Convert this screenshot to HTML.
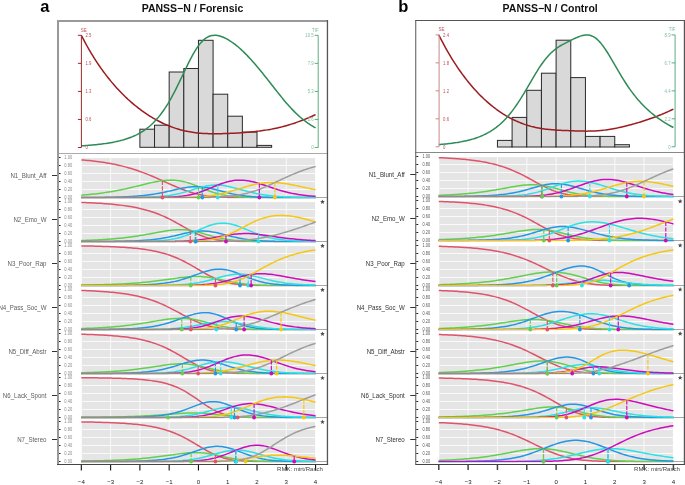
<!DOCTYPE html>
<html><head><meta charset="utf-8"><style>
html,body{margin:0;padding:0;background:#fff;}
svg{display:block;will-change:transform}
</style></head><body>
<svg width="685" height="485" viewBox="0 0 685 485">
<rect width="685" height="485" fill="#fff"/>
<text x="40.3" y="12.4" style="font-family:'Liberation Sans',sans-serif;font-weight:bold;font-size:16.5px" fill="#000">a</text>
<text x="192.5" y="12" text-anchor="middle" style="font-family:'Liberation Sans',sans-serif;font-weight:bold;font-size:10.5px" fill="#111">PANSS−N / Forensic</text>
<rect x="139.89" y="129.2" width="14.64" height="18.1" fill="#D9D9D9" stroke="#2a2a2a" stroke-width="1"/>
<rect x="154.53" y="125.2" width="14.64" height="22.1" fill="#D9D9D9" stroke="#2a2a2a" stroke-width="1"/>
<rect x="169.17" y="72" width="14.64" height="75.3" fill="#D9D9D9" stroke="#2a2a2a" stroke-width="1"/>
<rect x="183.81" y="68.5" width="14.64" height="78.8" fill="#D9D9D9" stroke="#2a2a2a" stroke-width="1"/>
<rect x="198.45" y="40.3" width="14.64" height="107" fill="#D9D9D9" stroke="#2a2a2a" stroke-width="1"/>
<rect x="213.09" y="94.2" width="14.64" height="53.1" fill="#D9D9D9" stroke="#2a2a2a" stroke-width="1"/>
<rect x="227.73" y="116.2" width="14.64" height="31.1" fill="#D9D9D9" stroke="#2a2a2a" stroke-width="1"/>
<rect x="242.37" y="132.1" width="14.64" height="15.2" fill="#D9D9D9" stroke="#2a2a2a" stroke-width="1"/>
<rect x="257.01" y="145.4" width="14.64" height="1.9" fill="#D9D9D9" stroke="#2a2a2a" stroke-width="1"/>
<path d="M81.33,35.3L82.79,38.14L84.26,40.91L85.72,43.61L87.19,46.25L88.65,48.83L90.11,51.34L91.58,53.8L93.04,56.19L94.51,58.53L95.97,60.81L97.43,63.04L98.9,65.22L100.36,67.34L101.83,69.42L103.29,71.44L104.75,73.42L106.22,75.35L107.68,77.24L109.15,79.08L110.61,80.88L112.07,82.63L113.54,84.35L115,86.03L116.47,87.66L117.93,89.26L119.39,90.82L120.86,92.35L122.32,93.84L123.79,95.29L125.25,96.71L126.71,98.1L128.18,99.46L129.64,100.78L131.11,102.07L132.57,103.33L134.03,104.57L135.5,105.77L136.96,106.94L138.43,108.09L139.89,109.2L141.35,110.29L142.82,111.35L144.28,112.39L145.75,113.39L147.21,114.37L148.67,115.33L150.14,116.26L151.6,117.16L153.07,118.04L154.53,118.89L155.99,119.71L157.46,120.51L158.92,121.28L160.39,122.03L161.85,122.76L163.31,123.46L164.78,124.13L166.24,124.78L167.71,125.4L169.17,126L170.63,126.57L172.1,127.12L173.56,127.65L175.03,128.15L176.49,128.63L177.95,129.08L179.42,129.51L180.88,129.91L182.35,130.29L183.81,130.65L185.27,130.99L186.74,131.3L188.2,131.59L189.67,131.86L191.13,132.11L192.59,132.34L194.06,132.55L195.52,132.73L196.99,132.9L198.45,133.05L199.91,133.19L201.38,133.3L202.84,133.41L204.31,133.49L205.77,133.56L207.23,133.62L208.7,133.67L210.16,133.7L211.63,133.73L213.09,133.74L214.55,133.75L216.02,133.74L217.48,133.73L218.95,133.71L220.41,133.69L221.87,133.66L223.34,133.62L224.8,133.58L226.27,133.53L227.73,133.48L229.19,133.43L230.66,133.36L232.12,133.3L233.59,133.23L235.05,133.15L236.51,133.07L237.98,132.98L239.44,132.89L240.91,132.79L242.37,132.69L243.83,132.58L245.3,132.46L246.76,132.34L248.23,132.22L249.69,132.08L251.15,131.94L252.62,131.79L254.08,131.64L255.55,131.48L257.01,131.31L258.47,131.13L259.94,130.95L261.4,130.75L262.87,130.55L264.33,130.34L265.79,130.12L267.26,129.88L268.72,129.64L270.19,129.39L271.65,129.12L273.11,128.84L274.58,128.54L276.04,128.24L277.51,127.92L278.97,127.58L280.43,127.23L281.9,126.87L283.36,126.49L284.83,126.09L286.29,125.68L287.75,125.26L289.22,124.82L290.68,124.37L292.15,123.9L293.61,123.42L295.07,122.92L296.54,122.41L298,121.89L299.47,121.36L300.93,120.81L302.39,120.24L303.86,119.67L305.32,119.08L306.79,118.48L308.25,117.87L309.71,117.24L311.18,116.6L312.64,115.95L314.11,115.29L315.57,114.61" fill="none" stroke="#9B1D20" stroke-width="1.5"/>
<path d="M81.33,145.81L82.79,145.73L84.26,145.63L85.72,145.53L87.19,145.43L88.65,145.32L90.11,145.2L91.58,145.08L93.04,144.95L94.51,144.82L95.97,144.68L97.43,144.52L98.9,144.36L100.36,144.2L101.83,144.02L103.29,143.83L104.75,143.63L106.22,143.42L107.68,143.2L109.15,142.97L110.61,142.72L112.07,142.45L113.54,142.18L115,141.88L116.47,141.57L117.93,141.24L119.39,140.89L120.86,140.52L122.32,140.13L123.79,139.71L125.25,139.27L126.71,138.8L128.18,138.3L129.64,137.77L131.11,137.21L132.57,136.62L134.03,135.98L135.5,135.31L136.96,134.6L138.43,133.83L139.89,133.03L141.35,132.17L142.82,131.25L144.28,130.28L145.75,129.25L147.21,128.15L148.67,126.99L150.14,125.75L151.6,124.44L153.07,123.05L154.53,121.57L155.99,120.01L157.46,118.36L158.92,116.61L160.39,114.77L161.85,112.82L163.31,110.78L164.78,108.63L166.24,106.38L167.71,104.03L169.17,101.57L170.63,99.02L172.1,96.37L173.56,93.63L175.03,90.81L176.49,87.91L177.95,84.95L179.42,81.93L180.88,78.88L182.35,75.8L183.81,72.72L185.27,69.65L186.74,66.61L188.2,63.62L189.67,60.7L191.13,57.88L192.59,55.16L194.06,52.58L195.52,50.15L196.99,47.87L198.45,45.78L199.91,43.87L201.38,42.15L202.84,40.64L204.31,39.32L205.77,38.2L207.23,37.28L208.7,36.54L210.16,35.99L211.63,35.61L213.09,35.38L214.55,35.3L216.02,35.36L217.48,35.54L218.95,35.83L220.41,36.22L221.87,36.71L223.34,37.29L224.8,37.94L226.27,38.67L227.73,39.47L229.19,40.34L230.66,41.26L232.12,42.25L233.59,43.3L235.05,44.4L236.51,45.56L237.98,46.78L239.44,48.04L240.91,49.36L242.37,50.73L243.83,52.14L245.3,53.6L246.76,55.1L248.23,56.64L249.69,58.21L251.15,59.82L252.62,61.46L254.08,63.12L255.55,64.82L257.01,66.53L258.47,68.27L259.94,70.03L261.4,71.81L262.87,73.6L264.33,75.42L265.79,77.25L267.26,79.09L268.72,80.94L270.19,82.81L271.65,84.67L273.11,86.55L274.58,88.42L276.04,90.29L277.51,92.15L278.97,94L280.43,95.83L281.9,97.64L283.36,99.42L284.83,101.18L286.29,102.9L287.75,104.58L289.22,106.23L290.68,107.83L292.15,109.38L293.61,110.89L295.07,112.35L296.54,113.77L298,115.13L299.47,116.45L300.93,117.71L302.39,118.93L303.86,120.1L305.32,121.22L306.79,122.29L308.25,123.33L309.71,124.32L311.18,125.27L312.64,126.17L314.11,127.05L315.57,127.88" fill="none" stroke="#2E8B57" stroke-width="1.5"/>
<line x1="81.4" y1="35.3" x2="81.4" y2="147.5" stroke="#9B2B2B" stroke-width="1"/>
<line x1="77.9" y1="147.5" x2="81.4" y2="147.5" stroke="#9B2B2B" stroke-width="1"/>
<text transform="translate(85.4,149.4) scale(0.86,1)" style="font-family:'Liberation Sans',sans-serif;font-size:5px" fill="#C0505A">0</text>
<line x1="77.9" y1="119.45" x2="81.4" y2="119.45" stroke="#9B2B2B" stroke-width="1"/>
<text transform="translate(85.4,121.35) scale(0.86,1)" style="font-family:'Liberation Sans',sans-serif;font-size:5px" fill="#C0505A">0.6</text>
<line x1="77.9" y1="91.4" x2="81.4" y2="91.4" stroke="#9B2B2B" stroke-width="1"/>
<text transform="translate(85.4,93.3) scale(0.86,1)" style="font-family:'Liberation Sans',sans-serif;font-size:5px" fill="#C0505A">1.3</text>
<line x1="77.9" y1="63.35" x2="81.4" y2="63.35" stroke="#9B2B2B" stroke-width="1"/>
<text transform="translate(85.4,65.25) scale(0.86,1)" style="font-family:'Liberation Sans',sans-serif;font-size:5px" fill="#C0505A">1.9</text>
<line x1="77.9" y1="35.3" x2="81.4" y2="35.3" stroke="#9B2B2B" stroke-width="1"/>
<text transform="translate(85.4,37.2) scale(0.86,1)" style="font-family:'Liberation Sans',sans-serif;font-size:5px" fill="#C0505A">2.5</text>
<text transform="translate(80.8,31.8) scale(0.9,1)" style="font-family:'Liberation Sans',sans-serif;font-size:5px" fill="#C0505A">SE</text>
<line x1="318.2" y1="35.3" x2="318.2" y2="147.5" stroke="#5DAE80" stroke-width="1"/>
<line x1="314.7" y1="147.5" x2="318.2" y2="147.5" stroke="#5DAE80" stroke-width="1"/>
<text transform="translate(313.7,149.4) scale(0.86,1)" text-anchor="end" style="font-family:'Liberation Sans',sans-serif;font-size:5px" fill="#7DBF98">0</text>
<line x1="314.7" y1="119.45" x2="318.2" y2="119.45" stroke="#5DAE80" stroke-width="1"/>
<text transform="translate(313.7,121.35) scale(0.86,1)" text-anchor="end" style="font-family:'Liberation Sans',sans-serif;font-size:5px" fill="#7DBF98">2.6</text>
<line x1="314.7" y1="91.4" x2="318.2" y2="91.4" stroke="#5DAE80" stroke-width="1"/>
<text transform="translate(313.7,93.3) scale(0.86,1)" text-anchor="end" style="font-family:'Liberation Sans',sans-serif;font-size:5px" fill="#7DBF98">5.3</text>
<line x1="314.7" y1="63.35" x2="318.2" y2="63.35" stroke="#5DAE80" stroke-width="1"/>
<text transform="translate(313.7,65.25) scale(0.86,1)" text-anchor="end" style="font-family:'Liberation Sans',sans-serif;font-size:5px" fill="#7DBF98">7.9</text>
<line x1="314.7" y1="35.3" x2="318.2" y2="35.3" stroke="#5DAE80" stroke-width="1"/>
<text transform="translate(313.7,37.2) scale(0.86,1)" text-anchor="end" style="font-family:'Liberation Sans',sans-serif;font-size:5px" fill="#7DBF98">10.5</text>
<text transform="translate(318.7,31.8) scale(0.9,1)" text-anchor="end" style="font-family:'Liberation Sans',sans-serif;font-size:5px" fill="#7DBF98">TIF</text>
<rect x="57" y="153" width="270.3" height="1" fill="#AAAAAA"/>
<rect x="81.83" y="158.1" width="233.24" height="39.4" fill="#E5E5E5"/>
<rect x="110.11" y="158.1" width="1" height="39.4" fill="#FAFAFA"/>
<rect x="139.39" y="158.1" width="1" height="39.4" fill="#FAFAFA"/>
<rect x="168.67" y="158.1" width="1" height="39.4" fill="#FAFAFA"/>
<rect x="197.95" y="158.1" width="1" height="39.4" fill="#FAFAFA"/>
<rect x="227.23" y="158.1" width="1" height="39.4" fill="#FAFAFA"/>
<rect x="256.51" y="158.1" width="1" height="39.4" fill="#FAFAFA"/>
<rect x="285.79" y="158.1" width="1" height="39.4" fill="#FAFAFA"/>
<rect x="81.83" y="189" width="233.24" height="1" fill="#FAFAFA"/>
<rect x="81.83" y="181" width="233.24" height="1" fill="#FAFAFA"/>
<rect x="81.83" y="173" width="233.24" height="1" fill="#FAFAFA"/>
<rect x="81.83" y="165" width="233.24" height="1" fill="#FAFAFA"/>
<rect x="315.57" y="197" width="11.73" height="1" fill="#A8A8A8"/>
<rect x="226.75" y="196.85" width="89.12" height="1.3" fill="#DF536B"/>
<path d="M81.33,159.9L83.28,160.06L85.23,160.23L87.19,160.4L89.14,160.59L91.09,160.79L93.04,161.01L94.99,161.23L96.95,161.47L98.9,161.73L100.85,161.99L102.8,162.28L104.75,162.58L106.71,162.89L108.66,163.23L110.61,163.58L112.56,163.95L114.51,164.34L116.47,164.75L118.42,165.18L120.37,165.63L122.32,166.11L124.27,166.61L126.23,167.13L128.18,167.67L130.13,168.23L132.08,168.82L134.03,169.44L135.99,170.07L137.94,170.74L139.89,171.42L141.84,172.12L143.79,172.85L145.75,173.6L147.7,174.37L149.65,175.16L151.6,175.97L153.55,176.79L155.51,177.63L157.46,178.48L159.41,179.34L161.36,180.21L163.31,181.08L165.27,181.96L167.22,182.84L169.17,183.71L171.12,184.58L173.07,185.44L175.03,186.29L176.98,187.12L178.93,187.93L180.88,188.72L182.83,189.48L184.79,190.22L186.74,190.92L188.69,191.58L190.64,192.21L192.59,192.8L194.55,193.35L196.5,193.86L198.45,194.33L200.4,194.75L202.35,195.14L204.31,195.48L206.26,195.78L208.21,196.05L210.16,196.29L212.11,196.49L214.07,196.66L216.02,196.81L217.97,196.94L219.92,197.05L221.87,197.13L223.83,197.21L225.78,197.27L227.73,197.31" fill="none" stroke="#DF536B" stroke-width="1.5"/>
<rect x="250.18" y="196.85" width="65.69" height="1.3" fill="#61D04F"/>
<path d="M81.33,195.14L83.28,194.99L85.23,194.83L87.19,194.66L89.14,194.48L91.09,194.29L93.04,194.09L94.99,193.88L96.95,193.65L98.9,193.42L100.85,193.17L102.8,192.9L104.75,192.63L106.71,192.34L108.66,192.04L110.61,191.72L112.56,191.39L114.51,191.05L116.47,190.69L118.42,190.31L120.37,189.92L122.32,189.52L124.27,189.11L126.23,188.68L128.18,188.24L130.13,187.79L132.08,187.33L134.03,186.86L135.99,186.39L137.94,185.91L139.89,185.42L141.84,184.94L143.79,184.46L145.75,183.98L147.7,183.52L149.65,183.06L151.6,182.63L153.55,182.21L155.51,181.81L157.46,181.45L159.41,181.12L161.36,180.83L163.31,180.58L165.27,180.38L167.22,180.23L169.17,180.15L171.12,180.12L173.07,180.16L175.03,180.26L176.98,180.44L178.93,180.69L180.88,181.01L182.83,181.41L184.79,181.87L186.74,182.4L188.69,183L190.64,183.65L192.59,184.34L194.55,185.08L196.5,185.85L198.45,186.65L200.4,187.45L202.35,188.26L204.31,189.05L206.26,189.83L208.21,190.59L210.16,191.31L212.11,191.99L214.07,192.63L216.02,193.22L217.97,193.77L219.92,194.26L221.87,194.71L223.83,195.11L225.78,195.46L227.73,195.77L229.68,196.04L231.63,196.28L233.59,196.48L235.54,196.65L237.49,196.8L239.44,196.93L241.39,197.03L243.35,197.12L245.3,197.19L247.25,197.25L249.2,197.3L251.15,197.34" fill="none" stroke="#61D04F" stroke-width="1.5"/>
<rect x="81.03" y="196.85" width="24.7" height="1.3" fill="#2297E6"/>
<rect x="267.75" y="196.85" width="48.12" height="1.3" fill="#2297E6"/>
<path d="M104.75,197.3L106.71,197.28L108.66,197.25L110.61,197.21L112.56,197.17L114.51,197.13L116.47,197.09L118.42,197.03L120.37,196.97L122.32,196.91L124.27,196.83L126.23,196.75L128.18,196.66L130.13,196.56L132.08,196.45L134.03,196.32L135.99,196.18L137.94,196.03L139.89,195.87L141.84,195.68L143.79,195.48L145.75,195.27L147.7,195.03L149.65,194.77L151.6,194.5L153.55,194.2L155.51,193.88L157.46,193.54L159.41,193.18L161.36,192.8L163.31,192.4L165.27,191.99L167.22,191.56L169.17,191.12L171.12,190.66L173.07,190.21L175.03,189.76L176.98,189.31L178.93,188.87L180.88,188.45L182.83,188.06L184.79,187.7L186.74,187.38L188.69,187.11L190.64,186.89L192.59,186.73L194.55,186.63L196.5,186.6L198.45,186.65L200.4,186.76L202.35,186.94L204.31,187.18L206.26,187.49L208.21,187.85L210.16,188.26L212.11,188.72L214.07,189.2L216.02,189.71L217.97,190.23L219.92,190.76L221.87,191.29L223.83,191.81L225.78,192.31L227.73,192.8L229.68,193.27L231.63,193.71L233.59,194.12L235.54,194.5L237.49,194.85L239.44,195.17L241.39,195.47L243.35,195.73L245.3,195.97L247.25,196.18L249.2,196.37L251.15,196.53L253.11,196.67L255.06,196.8L257.01,196.91L258.96,197L260.91,197.08L262.87,197.15L264.82,197.21L266.77,197.26L268.72,197.3" fill="none" stroke="#2297E6" stroke-width="1.5"/>
<rect x="81.03" y="196.85" width="59.84" height="1.3" fill="#28E2E5"/>
<rect x="297.03" y="196.85" width="18.84" height="1.3" fill="#28E2E5"/>
<path d="M139.89,197.31L141.84,197.27L143.79,197.23L145.75,197.18L147.7,197.12L149.65,197.05L151.6,196.97L153.55,196.87L155.51,196.77L157.46,196.64L159.41,196.5L161.36,196.34L163.31,196.15L165.27,195.94L167.22,195.7L169.17,195.44L171.12,195.14L173.07,194.81L175.03,194.44L176.98,194.04L178.93,193.61L180.88,193.14L182.83,192.64L184.79,192.1L186.74,191.54L188.69,190.96L190.64,190.36L192.59,189.76L194.55,189.15L196.5,188.55L198.45,187.97L200.4,187.42L202.35,186.9L204.31,186.43L206.26,186.02L208.21,185.68L210.16,185.4L212.11,185.2L214.07,185.08L216.02,185.03L217.97,185.06L219.92,185.17L221.87,185.36L223.83,185.61L225.78,185.92L227.73,186.29L229.68,186.7L231.63,187.15L233.59,187.64L235.54,188.15L237.49,188.68L239.44,189.22L241.39,189.76L243.35,190.3L245.3,190.83L247.25,191.35L249.2,191.86L251.15,192.35L253.11,192.81L255.06,193.25L257.01,193.67L258.96,194.06L260.91,194.42L262.87,194.75L264.82,195.06L266.77,195.34L268.72,195.6L270.67,195.83L272.63,196.04L274.58,196.22L276.53,196.39L278.48,196.54L280.43,196.67L282.39,196.78L284.34,196.89L286.29,196.97L288.24,197.05L290.19,197.12L292.15,197.17L294.1,197.22L296.05,197.27L298,197.3" fill="none" stroke="#28E2E5" stroke-width="1.5"/>
<rect x="81.03" y="196.85" width="81.31" height="1.3" fill="#CD0BBC"/>
<path d="M161.36,197.33L163.31,197.29L165.27,197.24L167.22,197.18L169.17,197.11L171.12,197.02L173.07,196.92L175.03,196.79L176.98,196.64L178.93,196.47L180.88,196.26L182.83,196.03L184.79,195.75L186.74,195.44L188.69,195.08L190.64,194.67L192.59,194.22L194.55,193.72L196.5,193.17L198.45,192.57L200.4,191.93L202.35,191.24L204.31,190.51L206.26,189.76L208.21,188.97L210.16,188.17L212.11,187.36L214.07,186.55L216.02,185.76L217.97,184.98L219.92,184.24L221.87,183.53L223.83,182.88L225.78,182.28L227.73,181.75L229.68,181.28L231.63,180.89L233.59,180.58L235.54,180.35L237.49,180.2L239.44,180.14L241.39,180.16L243.35,180.26L245.3,180.43L247.25,180.68L249.2,181L251.15,181.39L253.11,181.83L255.06,182.32L257.01,182.86L258.96,183.44L260.91,184.05L262.87,184.68L264.82,185.33L266.77,185.99L268.72,186.66L270.67,187.32L272.63,187.98L274.58,188.62L276.53,189.25L278.48,189.85L280.43,190.44L282.39,191L284.34,191.53L286.29,192.03L288.24,192.51L290.19,192.95L292.15,193.37L294.1,193.75L296.05,194.11L298,194.44L299.95,194.74L301.91,195.02L303.86,195.27L305.81,195.5L307.76,195.71L309.71,195.9L311.67,196.07L313.62,196.23L315.57,196.36" fill="none" stroke="#CD0BBC" stroke-width="1.5"/>
<rect x="81.03" y="196.85" width="106.68" height="1.3" fill="#F5C710"/>
<path d="M186.74,197.33L188.69,197.28L190.64,197.23L192.59,197.16L194.55,197.09L196.5,196.99L198.45,196.88L200.4,196.76L202.35,196.61L204.31,196.43L206.26,196.24L208.21,196.01L210.16,195.76L212.11,195.48L214.07,195.17L216.02,194.83L217.97,194.45L219.92,194.05L221.87,193.62L223.83,193.15L225.78,192.66L227.73,192.15L229.68,191.61L231.63,191.06L233.59,190.48L235.54,189.9L237.49,189.3L239.44,188.71L241.39,188.11L243.35,187.52L245.3,186.94L247.25,186.38L249.2,185.84L251.15,185.32L253.11,184.84L255.06,184.39L257.01,183.99L258.96,183.63L260.91,183.31L262.87,183.05L264.82,182.83L266.77,182.67L268.72,182.57L270.67,182.51L272.63,182.51L274.58,182.56L276.53,182.66L278.48,182.81L280.43,182.99L282.39,183.22L284.34,183.49L286.29,183.78L288.24,184.11L290.19,184.46L292.15,184.83L294.1,185.22L296.05,185.62L298,186.03L299.95,186.45L301.91,186.88L303.86,187.3L305.81,187.72L307.76,188.14L309.71,188.56L311.67,188.97L313.62,189.37L315.57,189.76" fill="none" stroke="#F5C710" stroke-width="1.5"/>
<rect x="81.03" y="196.85" width="130.11" height="1.3" fill="#948C86"/>
<path d="M210.16,197.31L212.11,197.26L214.07,197.21L216.02,197.14L217.97,197.06L219.92,196.97L221.87,196.86L223.83,196.74L225.78,196.6L227.73,196.43L229.68,196.24L231.63,196.03L233.59,195.79L235.54,195.52L237.49,195.21L239.44,194.88L241.39,194.51L243.35,194.1L245.3,193.65L247.25,193.17L249.2,192.65L251.15,192.08L253.11,191.48L255.06,190.84L257.01,190.16L258.96,189.44L260.91,188.69L262.87,187.91L264.82,187.1L266.77,186.26L268.72,185.4L270.67,184.51L272.63,183.62L274.58,182.71L276.53,181.8L278.48,180.88L280.43,179.96L282.39,179.04L284.34,178.14L286.29,177.24L288.24,176.36L290.19,175.49L292.15,174.64L294.1,173.82L296.05,173.01L298,172.24L299.95,171.48L301.91,170.75L303.86,170.05L305.81,169.38L307.76,168.73L309.71,168.11L311.67,167.52L313.62,166.96L315.57,166.42" fill="none" stroke="#9E9E9E" stroke-width="1.5"/>
<line x1="162.44" y1="180.69" x2="162.44" y2="197.5" stroke="#DF536B" stroke-width="1.15" stroke-dasharray="4.2,1.3"/>
<line x1="198.45" y1="186.65" x2="198.45" y2="197.5" stroke="#61D04F" stroke-width="1.15" stroke-dasharray="4.2,1.3"/>
<line x1="202.26" y1="186.93" x2="202.26" y2="197.5" stroke="#2297E6" stroke-width="1.15" stroke-dasharray="4.2,1.3"/>
<line x1="217.77" y1="185.06" x2="217.77" y2="197.5" stroke="#28E2E5" stroke-width="1.15" stroke-dasharray="4.2,1.3"/>
<line x1="259.35" y1="183.56" x2="259.35" y2="197.5" stroke="#CD0BBC" stroke-width="1.15" stroke-dasharray="4.2,1.3"/>
<line x1="274.87" y1="182.57" x2="274.87" y2="197.5" stroke="#F5C710" stroke-width="1.15" stroke-dasharray="4.2,1.3"/>
<circle cx="162.44" cy="197.5" r="1.9" fill="#DF536B"/>
<circle cx="198.45" cy="197.5" r="1.9" fill="#61D04F"/>
<circle cx="202.26" cy="197.5" r="1.9" fill="#2297E6"/>
<circle cx="217.77" cy="197.5" r="1.9" fill="#28E2E5"/>
<circle cx="259.35" cy="197.5" r="1.9" fill="#CD0BBC"/>
<circle cx="274.87" cy="197.5" r="1.9" fill="#F5C710"/>
<line x1="58" y1="197.5" x2="60.6" y2="197.5" stroke="#222" stroke-width="1"/>
<text transform="translate(64.3,199.2) scale(0.84,1)" style="font-family:'Liberation Sans',sans-serif;font-size:4.8px" fill="#8A8A8A">0.00</text>
<line x1="58" y1="189.5" x2="60.6" y2="189.5" stroke="#222" stroke-width="1"/>
<text transform="translate(64.3,191.2) scale(0.84,1)" style="font-family:'Liberation Sans',sans-serif;font-size:4.8px" fill="#8A8A8A">0.20</text>
<line x1="58" y1="181.5" x2="60.6" y2="181.5" stroke="#222" stroke-width="1"/>
<text transform="translate(64.3,183.2) scale(0.84,1)" style="font-family:'Liberation Sans',sans-serif;font-size:4.8px" fill="#8A8A8A">0.40</text>
<line x1="58" y1="173.5" x2="60.6" y2="173.5" stroke="#222" stroke-width="1"/>
<text transform="translate(64.3,175.2) scale(0.84,1)" style="font-family:'Liberation Sans',sans-serif;font-size:4.8px" fill="#8A8A8A">0.60</text>
<line x1="58" y1="165.5" x2="60.6" y2="165.5" stroke="#222" stroke-width="1"/>
<text transform="translate(64.3,167.2) scale(0.84,1)" style="font-family:'Liberation Sans',sans-serif;font-size:4.8px" fill="#8A8A8A">0.80</text>
<line x1="58" y1="157.5" x2="60.6" y2="157.5" stroke="#222" stroke-width="1"/>
<text transform="translate(64.3,159.2) scale(0.84,1)" style="font-family:'Liberation Sans',sans-serif;font-size:4.8px" fill="#8A8A8A">1.00</text>
<line x1="52" y1="175.5" x2="58" y2="175.5" stroke="#333" stroke-width="1"/>
<text x="46.5" y="177.9" text-anchor="end" textLength="36.08" lengthAdjust="spacingAndGlyphs" style="font-family:'Liberation Sans',sans-serif;font-size:6.8px" fill="#606060">N1_Blunt_Aff</text>
<rect x="81.83" y="202.1" width="233.24" height="39.4" fill="#E5E5E5"/>
<rect x="110.11" y="202.1" width="1" height="39.4" fill="#FAFAFA"/>
<rect x="139.39" y="202.1" width="1" height="39.4" fill="#FAFAFA"/>
<rect x="168.67" y="202.1" width="1" height="39.4" fill="#FAFAFA"/>
<rect x="197.95" y="202.1" width="1" height="39.4" fill="#FAFAFA"/>
<rect x="227.23" y="202.1" width="1" height="39.4" fill="#FAFAFA"/>
<rect x="256.51" y="202.1" width="1" height="39.4" fill="#FAFAFA"/>
<rect x="285.79" y="202.1" width="1" height="39.4" fill="#FAFAFA"/>
<rect x="81.83" y="233" width="233.24" height="1" fill="#FAFAFA"/>
<rect x="81.83" y="225" width="233.24" height="1" fill="#FAFAFA"/>
<rect x="81.83" y="217" width="233.24" height="1" fill="#FAFAFA"/>
<rect x="81.83" y="209" width="233.24" height="1" fill="#FAFAFA"/>
<rect x="315.57" y="241" width="11.73" height="1" fill="#A8A8A8"/>
<rect x="236.51" y="240.85" width="79.36" height="1.3" fill="#DF536B"/>
<path d="M81.33,202.47L83.28,202.53L85.23,202.6L87.19,202.68L89.14,202.76L91.09,202.85L93.04,202.94L94.99,203.04L96.95,203.14L98.9,203.25L100.85,203.37L102.8,203.5L104.75,203.64L106.71,203.79L108.66,203.94L110.61,204.11L112.56,204.29L114.51,204.47L116.47,204.68L118.42,204.89L120.37,205.12L122.32,205.37L124.27,205.63L126.23,205.91L128.18,206.21L130.13,206.53L132.08,206.86L134.03,207.22L135.99,207.61L137.94,208.01L139.89,208.45L141.84,208.91L143.79,209.4L145.75,209.92L147.7,210.47L149.65,211.05L151.6,211.67L153.55,212.33L155.51,213.02L157.46,213.74L159.41,214.51L161.36,215.32L163.31,216.16L165.27,217.04L167.22,217.96L169.17,218.92L171.12,219.91L173.07,220.93L175.03,221.98L176.98,223.05L178.93,224.14L180.88,225.25L182.83,226.36L184.79,227.46L186.74,228.56L188.69,229.64L190.64,230.69L192.59,231.71L194.55,232.68L196.5,233.61L198.45,234.49L200.4,235.31L202.35,236.07L204.31,236.77L206.26,237.4L208.21,237.97L210.16,238.49L212.11,238.94L214.07,239.34L216.02,239.69L217.97,239.99L219.92,240.25L221.87,240.47L223.83,240.66L225.78,240.81L227.73,240.94L229.68,241.05L231.63,241.14L233.59,241.22L235.54,241.28L237.49,241.32" fill="none" stroke="#DF536B" stroke-width="1.5"/>
<rect x="252.13" y="240.85" width="63.74" height="1.3" fill="#61D04F"/>
<path d="M81.33,240.55L83.28,240.49L85.23,240.42L87.19,240.35L89.14,240.27L91.09,240.19L93.04,240.11L94.99,240.01L96.95,239.92L98.9,239.81L100.85,239.7L102.8,239.58L104.75,239.46L106.71,239.33L108.66,239.19L110.61,239.04L112.56,238.88L114.51,238.71L116.47,238.54L118.42,238.35L120.37,238.16L122.32,237.95L124.27,237.73L126.23,237.5L128.18,237.26L130.13,237.01L132.08,236.75L134.03,236.47L135.99,236.19L137.94,235.89L139.89,235.58L141.84,235.26L143.79,234.93L145.75,234.59L147.7,234.25L149.65,233.89L151.6,233.53L153.55,233.17L155.51,232.81L157.46,232.44L159.41,232.09L161.36,231.74L163.31,231.4L165.27,231.08L167.22,230.78L169.17,230.51L171.12,230.27L173.07,230.06L175.03,229.9L176.98,229.78L178.93,229.71L180.88,229.7L182.83,229.74L184.79,229.85L186.74,230.02L188.69,230.25L190.64,230.54L192.59,230.89L194.55,231.29L196.5,231.74L198.45,232.23L200.4,232.75L202.35,233.29L204.31,233.85L206.26,234.42L208.21,234.99L210.16,235.55L212.11,236.1L214.07,236.63L216.02,237.13L217.97,237.61L219.92,238.05L221.87,238.46L223.83,238.84L225.78,239.19L227.73,239.5L229.68,239.78L231.63,240.03L233.59,240.25L235.54,240.45L237.49,240.62L239.44,240.76L241.39,240.89L243.35,240.99L245.3,241.08L247.25,241.16L249.2,241.22L251.15,241.28L253.11,241.32" fill="none" stroke="#61D04F" stroke-width="1.5"/>
<rect x="81.03" y="240.85" width="34.46" height="1.3" fill="#2297E6"/>
<rect x="273.6" y="240.85" width="42.27" height="1.3" fill="#2297E6"/>
<path d="M114.51,241.32L116.47,241.3L118.42,241.27L120.37,241.24L122.32,241.21L124.27,241.17L126.23,241.12L128.18,241.07L130.13,241.01L132.08,240.95L134.03,240.88L135.99,240.8L137.94,240.71L139.89,240.61L141.84,240.49L143.79,240.37L145.75,240.23L147.7,240.07L149.65,239.9L151.6,239.7L153.55,239.49L155.51,239.26L157.46,239.01L159.41,238.73L161.36,238.43L163.31,238.1L165.27,237.76L167.22,237.38L169.17,236.99L171.12,236.57L173.07,236.13L175.03,235.68L176.98,235.21L178.93,234.74L180.88,234.27L182.83,233.8L184.79,233.35L186.74,232.91L188.69,232.5L190.64,232.13L192.59,231.8L194.55,231.53L196.5,231.31L198.45,231.15L200.4,231.06L202.35,231.03L204.31,231.07L206.26,231.18L208.21,231.36L210.16,231.59L212.11,231.89L214.07,232.23L216.02,232.61L217.97,233.03L219.92,233.49L221.87,233.96L223.83,234.44L225.78,234.94L227.73,235.44L229.68,235.93L231.63,236.41L233.59,236.88L235.54,237.33L237.49,237.75L239.44,238.15L241.39,238.53L243.35,238.88L245.3,239.2L247.25,239.49L249.2,239.75L251.15,239.99L253.11,240.2L255.06,240.39L257.01,240.55L258.96,240.69L260.91,240.82L262.87,240.93L264.82,241.02L266.77,241.1L268.72,241.16L270.67,241.22L272.63,241.27L274.58,241.31" fill="none" stroke="#2297E6" stroke-width="1.5"/>
<rect x="81.03" y="240.85" width="63.74" height="1.3" fill="#28E2E5"/>
<rect x="310.69" y="240.85" width="5.18" height="1.3" fill="#28E2E5"/>
<path d="M143.79,241.31L145.75,241.27L147.7,241.22L149.65,241.17L151.6,241.1L153.55,241.03L155.51,240.93L157.46,240.83L159.41,240.7L161.36,240.55L163.31,240.38L165.27,240.18L167.22,239.95L169.17,239.68L171.12,239.38L173.07,239.03L175.03,238.64L176.98,238.2L178.93,237.7L180.88,237.16L182.83,236.56L184.79,235.91L186.74,235.2L188.69,234.45L190.64,233.65L192.59,232.81L194.55,231.95L196.5,231.07L198.45,230.17L200.4,229.28L202.35,228.41L204.31,227.57L206.26,226.76L208.21,226.01L210.16,225.33L212.11,224.73L214.07,224.21L216.02,223.78L217.97,223.46L219.92,223.24L221.87,223.13L223.83,223.13L225.78,223.25L227.73,223.46L229.68,223.78L231.63,224.2L233.59,224.71L235.54,225.29L237.49,225.95L239.44,226.66L241.39,227.42L243.35,228.21L245.3,229.02L247.25,229.85L249.2,230.68L251.15,231.5L253.11,232.3L255.06,233.08L257.01,233.82L258.96,234.53L260.91,235.2L262.87,235.82L264.82,236.41L266.77,236.95L268.72,237.44L270.67,237.89L272.63,238.3L274.58,238.68L276.53,239.01L278.48,239.31L280.43,239.58L282.39,239.82L284.34,240.04L286.29,240.23L288.24,240.39L290.19,240.54L292.15,240.67L294.1,240.78L296.05,240.88L298,240.97L299.95,241.04L301.91,241.11L303.86,241.16L305.81,241.21L307.76,241.25L309.71,241.29L311.67,241.32" fill="none" stroke="#28E2E5" stroke-width="1.5"/>
<rect x="81.03" y="240.85" width="94.97" height="1.3" fill="#CD0BBC"/>
<path d="M175.03,241.33L176.98,241.3L178.93,241.25L180.88,241.19L182.83,241.13L184.79,241.05L186.74,240.96L188.69,240.85L190.64,240.73L192.59,240.58L194.55,240.42L196.5,240.24L198.45,240.04L200.4,239.82L202.35,239.57L204.31,239.31L206.26,239.02L208.21,238.72L210.16,238.39L212.11,238.06L214.07,237.71L216.02,237.34L217.97,236.98L219.92,236.61L221.87,236.24L223.83,235.88L225.78,235.52L227.73,235.19L229.68,234.87L231.63,234.58L233.59,234.32L235.54,234.09L237.49,233.9L239.44,233.75L241.39,233.64L243.35,233.57L245.3,233.55L247.25,233.56L249.2,233.62L251.15,233.71L253.11,233.84L255.06,234L257.01,234.19L258.96,234.41L260.91,234.65L262.87,234.91L264.82,235.17L266.77,235.45L268.72,235.74L270.67,236.03L272.63,236.32L274.58,236.61L276.53,236.89L278.48,237.17L280.43,237.44L282.39,237.71L284.34,237.96L286.29,238.2L288.24,238.44L290.19,238.66L292.15,238.87L294.1,239.07L296.05,239.26L298,239.44L299.95,239.6L301.91,239.76L303.86,239.91L305.81,240.04L307.76,240.17L309.71,240.29L311.67,240.39L313.62,240.49L315.57,240.59" fill="none" stroke="#CD0BBC" stroke-width="1.5"/>
<rect x="81.03" y="240.85" width="108.64" height="1.3" fill="#F5C710"/>
<path d="M188.69,241.32L190.64,241.27L192.59,241.21L194.55,241.13L196.5,241.04L198.45,240.93L200.4,240.8L202.35,240.64L204.31,240.45L206.26,240.24L208.21,239.98L210.16,239.69L212.11,239.35L214.07,238.97L216.02,238.54L217.97,238.06L219.92,237.52L221.87,236.93L223.83,236.27L225.78,235.56L227.73,234.8L229.68,233.98L231.63,233.11L233.59,232.19L235.54,231.23L237.49,230.24L239.44,229.23L241.39,228.19L243.35,227.15L245.3,226.11L247.25,225.08L249.2,224.07L251.15,223.09L253.11,222.15L255.06,221.26L257.01,220.41L258.96,219.63L260.91,218.91L262.87,218.25L264.82,217.66L266.77,217.14L268.72,216.69L270.67,216.32L272.63,216.01L274.58,215.77L276.53,215.59L278.48,215.48L280.43,215.44L282.39,215.45L284.34,215.52L286.29,215.64L288.24,215.82L290.19,216.04L292.15,216.31L294.1,216.62L296.05,216.97L298,217.36L299.95,217.78L301.91,218.23L303.86,218.71L305.81,219.22L307.76,219.75L309.71,220.29L311.67,220.86L313.62,221.43L315.57,222.02" fill="none" stroke="#F5C710" stroke-width="1.5"/>
<rect x="81.03" y="240.85" width="141.82" height="1.3" fill="#948C86"/>
<path d="M221.87,241.31L223.83,241.27L225.78,241.22L227.73,241.17L229.68,241.1L231.63,241.02L233.59,240.93L235.54,240.83L237.49,240.72L239.44,240.59L241.39,240.44L243.35,240.28L245.3,240.1L247.25,239.91L249.2,239.69L251.15,239.46L253.11,239.21L255.06,238.94L257.01,238.65L258.96,238.34L260.91,238.01L262.87,237.66L264.82,237.29L266.77,236.9L268.72,236.49L270.67,236.06L272.63,235.62L274.58,235.15L276.53,234.67L278.48,234.17L280.43,233.65L282.39,233.11L284.34,232.56L286.29,231.99L288.24,231.4L290.19,230.8L292.15,230.18L294.1,229.55L296.05,228.91L298,228.25L299.95,227.59L301.91,226.91L303.86,226.23L305.81,225.54L307.76,224.84L309.71,224.14L311.67,223.43L313.62,222.73L315.57,222.02" fill="none" stroke="#9E9E9E" stroke-width="1.5"/>
<line x1="190.25" y1="230.48" x2="190.25" y2="241.5" stroke="#DF536B" stroke-width="1.15" stroke-dasharray="4.2,1.3"/>
<line x1="195.23" y1="231.44" x2="195.23" y2="241.5" stroke="#61D04F" stroke-width="1.15" stroke-dasharray="4.2,1.3"/>
<line x1="195.81" y1="231.38" x2="195.81" y2="241.5" stroke="#2297E6" stroke-width="1.15" stroke-dasharray="4.2,1.3"/>
<line x1="258.47" y1="234.36" x2="258.47" y2="241.5" stroke="#28E2E5" stroke-width="1.15" stroke-dasharray="4.2,1.3"/>
<line x1="225.97" y1="235.49" x2="225.97" y2="241.5" stroke="#CD0BBC" stroke-width="1.15" stroke-dasharray="4.2,1.3"/>
<circle cx="190.25" cy="241.5" r="1.9" fill="#DF536B"/>
<circle cx="195.23" cy="241.5" r="1.9" fill="#61D04F"/>
<circle cx="195.81" cy="241.5" r="1.9" fill="#2297E6"/>
<circle cx="258.47" cy="241.5" r="1.9" fill="#28E2E5"/>
<circle cx="225.97" cy="241.5" r="1.9" fill="#CD0BBC"/>
<line x1="58" y1="241.5" x2="60.6" y2="241.5" stroke="#222" stroke-width="1"/>
<text transform="translate(64.3,243.2) scale(0.84,1)" style="font-family:'Liberation Sans',sans-serif;font-size:4.8px" fill="#8A8A8A">0.00</text>
<line x1="58" y1="233.5" x2="60.6" y2="233.5" stroke="#222" stroke-width="1"/>
<text transform="translate(64.3,235.2) scale(0.84,1)" style="font-family:'Liberation Sans',sans-serif;font-size:4.8px" fill="#8A8A8A">0.20</text>
<line x1="58" y1="225.5" x2="60.6" y2="225.5" stroke="#222" stroke-width="1"/>
<text transform="translate(64.3,227.2) scale(0.84,1)" style="font-family:'Liberation Sans',sans-serif;font-size:4.8px" fill="#8A8A8A">0.40</text>
<line x1="58" y1="217.5" x2="60.6" y2="217.5" stroke="#222" stroke-width="1"/>
<text transform="translate(64.3,219.2) scale(0.84,1)" style="font-family:'Liberation Sans',sans-serif;font-size:4.8px" fill="#8A8A8A">0.60</text>
<line x1="58" y1="209.5" x2="60.6" y2="209.5" stroke="#222" stroke-width="1"/>
<text transform="translate(64.3,211.2) scale(0.84,1)" style="font-family:'Liberation Sans',sans-serif;font-size:4.8px" fill="#8A8A8A">0.80</text>
<line x1="58" y1="201.5" x2="60.6" y2="201.5" stroke="#222" stroke-width="1"/>
<text transform="translate(64.3,203.2) scale(0.84,1)" style="font-family:'Liberation Sans',sans-serif;font-size:4.8px" fill="#8A8A8A">1.00</text>
<line x1="52" y1="219.5" x2="58" y2="219.5" stroke="#333" stroke-width="1"/>
<text x="46.5" y="221.9" text-anchor="end" textLength="33.11" lengthAdjust="spacingAndGlyphs" style="font-family:'Liberation Sans',sans-serif;font-size:6.8px" fill="#606060">N2_Emo_W</text>
<rect x="81.83" y="246.1" width="233.24" height="39.4" fill="#E5E5E5"/>
<rect x="110.11" y="246.1" width="1" height="39.4" fill="#FAFAFA"/>
<rect x="139.39" y="246.1" width="1" height="39.4" fill="#FAFAFA"/>
<rect x="168.67" y="246.1" width="1" height="39.4" fill="#FAFAFA"/>
<rect x="197.95" y="246.1" width="1" height="39.4" fill="#FAFAFA"/>
<rect x="227.23" y="246.1" width="1" height="39.4" fill="#FAFAFA"/>
<rect x="256.51" y="246.1" width="1" height="39.4" fill="#FAFAFA"/>
<rect x="285.79" y="246.1" width="1" height="39.4" fill="#FAFAFA"/>
<rect x="81.83" y="277" width="233.24" height="1" fill="#FAFAFA"/>
<rect x="81.83" y="269" width="233.24" height="1" fill="#FAFAFA"/>
<rect x="81.83" y="261" width="233.24" height="1" fill="#FAFAFA"/>
<rect x="81.83" y="253" width="233.24" height="1" fill="#FAFAFA"/>
<rect x="315.57" y="285" width="11.73" height="1" fill="#A8A8A8"/>
<rect x="254.08" y="284.85" width="61.79" height="1.3" fill="#DF536B"/>
<path d="M81.33,245.92L83.28,245.94L85.23,245.98L87.19,246.01L89.14,246.04L91.09,246.08L93.04,246.12L94.99,246.17L96.95,246.21L98.9,246.27L100.85,246.32L102.8,246.38L104.75,246.44L106.71,246.51L108.66,246.58L110.61,246.65L112.56,246.74L114.51,246.82L116.47,246.92L118.42,247.02L120.37,247.13L122.32,247.25L124.27,247.37L126.23,247.51L128.18,247.65L130.13,247.81L132.08,247.98L134.03,248.16L135.99,248.35L137.94,248.56L139.89,248.79L141.84,249.03L143.79,249.29L145.75,249.57L147.7,249.87L149.65,250.19L151.6,250.54L153.55,250.91L155.51,251.31L157.46,251.74L159.41,252.21L161.36,252.7L163.31,253.23L165.27,253.8L167.22,254.4L169.17,255.05L171.12,255.74L173.07,256.47L175.03,257.24L176.98,258.06L178.93,258.92L180.88,259.83L182.83,260.78L184.79,261.77L186.74,262.79L188.69,263.86L190.64,264.95L192.59,266.06L194.55,267.2L196.5,268.34L198.45,269.49L200.4,270.64L202.35,271.78L204.31,272.89L206.26,273.98L208.21,275.04L210.16,276.05L212.11,277.01L214.07,277.93L216.02,278.78L217.97,279.58L219.92,280.31L221.87,280.98L223.83,281.59L225.78,282.14L227.73,282.63L229.68,283.07L231.63,283.45L233.59,283.78L235.54,284.07L237.49,284.32L239.44,284.53L241.39,284.71L243.35,284.86L245.3,284.99L247.25,285.09L249.2,285.17L251.15,285.24L253.11,285.3L255.06,285.34" fill="none" stroke="#DF536B" stroke-width="1.5"/>
<rect x="265.79" y="284.85" width="50.08" height="1.3" fill="#61D04F"/>
<path d="M81.33,285.09L83.28,285.07L85.23,285.04L87.19,285.01L89.14,284.97L91.09,284.94L93.04,284.9L94.99,284.86L96.95,284.81L98.9,284.77L100.85,284.72L102.8,284.66L104.75,284.61L106.71,284.55L108.66,284.48L110.61,284.42L112.56,284.34L114.51,284.27L116.47,284.19L118.42,284.1L120.37,284.01L122.32,283.91L124.27,283.81L126.23,283.69L128.18,283.58L130.13,283.45L132.08,283.32L134.03,283.18L135.99,283.04L137.94,282.88L139.89,282.72L141.84,282.55L143.79,282.36L145.75,282.17L147.7,281.97L149.65,281.77L151.6,281.55L153.55,281.32L155.51,281.08L157.46,280.84L159.41,280.59L161.36,280.33L163.31,280.06L165.27,279.79L167.22,279.51L169.17,279.23L171.12,278.95L173.07,278.67L175.03,278.39L176.98,278.12L178.93,277.86L180.88,277.61L182.83,277.38L184.79,277.17L186.74,276.98L188.69,276.82L190.64,276.69L192.59,276.59L194.55,276.53L196.5,276.51L198.45,276.54L200.4,276.61L202.35,276.72L204.31,276.88L206.26,277.08L208.21,277.32L210.16,277.61L212.11,277.92L214.07,278.27L216.02,278.64L217.97,279.04L219.92,279.45L221.87,279.87L223.83,280.29L225.78,280.72L227.73,281.14L229.68,281.54L231.63,281.94L233.59,282.31L235.54,282.67L237.49,283L239.44,283.31L241.39,283.59L243.35,283.85L245.3,284.08L247.25,284.29L249.2,284.47L251.15,284.63L253.11,284.77L255.06,284.89L257.01,285L258.96,285.08L260.91,285.16L262.87,285.22L264.82,285.27L266.77,285.32" fill="none" stroke="#61D04F" stroke-width="1.5"/>
<rect x="81.03" y="284.85" width="46.17" height="1.3" fill="#2297E6"/>
<rect x="295.07" y="284.85" width="20.8" height="1.3" fill="#2297E6"/>
<path d="M126.23,285.3L128.18,285.27L130.13,285.24L132.08,285.21L134.03,285.17L135.99,285.12L137.94,285.07L139.89,285.01L141.84,284.95L143.79,284.87L145.75,284.79L147.7,284.69L149.65,284.59L151.6,284.47L153.55,284.33L155.51,284.18L157.46,284.01L159.41,283.82L161.36,283.61L163.31,283.37L165.27,283.11L167.22,282.83L169.17,282.51L171.12,282.16L173.07,281.77L175.03,281.36L176.98,280.9L178.93,280.41L180.88,279.89L182.83,279.32L184.79,278.72L186.74,278.09L188.69,277.43L190.64,276.74L192.59,276.04L194.55,275.32L196.5,274.6L198.45,273.88L200.4,273.17L202.35,272.49L204.31,271.84L206.26,271.24L208.21,270.7L210.16,270.23L212.11,269.83L214.07,269.52L216.02,269.3L217.97,269.18L219.92,269.16L221.87,269.25L223.83,269.44L225.78,269.73L227.73,270.12L229.68,270.59L231.63,271.14L233.59,271.77L235.54,272.46L237.49,273.19L239.44,273.96L241.39,274.76L243.35,275.56L245.3,276.37L247.25,277.16L249.2,277.93L251.15,278.67L253.11,279.38L255.06,280.04L257.01,280.66L258.96,281.24L260.91,281.76L262.87,282.23L264.82,282.66L266.77,283.04L268.72,283.38L270.67,283.68L272.63,283.94L274.58,284.17L276.53,284.37L278.48,284.54L280.43,284.69L282.39,284.82L284.34,284.93L286.29,285.02L288.24,285.1L290.19,285.16L292.15,285.22L294.1,285.26L296.05,285.3" fill="none" stroke="#2297E6" stroke-width="1.5"/>
<rect x="81.03" y="284.85" width="85.21" height="1.3" fill="#28E2E5"/>
<path d="M165.27,285.31L167.22,285.28L169.17,285.23L171.12,285.18L173.07,285.12L175.03,285.05L176.98,284.97L178.93,284.87L180.88,284.76L182.83,284.62L184.79,284.47L186.74,284.3L188.69,284.1L190.64,283.88L192.59,283.63L194.55,283.35L196.5,283.03L198.45,282.69L200.4,282.31L202.35,281.91L204.31,281.47L206.26,281L208.21,280.51L210.16,279.99L212.11,279.46L214.07,278.91L216.02,278.37L217.97,277.82L219.92,277.28L221.87,276.76L223.83,276.26L225.78,275.81L227.73,275.39L229.68,275.03L231.63,274.72L233.59,274.48L235.54,274.31L237.49,274.21L239.44,274.19L241.39,274.24L243.35,274.37L245.3,274.56L247.25,274.83L249.2,275.15L251.15,275.52L253.11,275.93L255.06,276.38L257.01,276.86L258.96,277.36L260.91,277.87L262.87,278.37L264.82,278.88L266.77,279.38L268.72,279.86L270.67,280.32L272.63,280.76L274.58,281.18L276.53,281.57L278.48,281.94L280.43,282.28L282.39,282.6L284.34,282.89L286.29,283.16L288.24,283.4L290.19,283.62L292.15,283.82L294.1,284L296.05,284.17L298,284.31L299.95,284.45L301.91,284.56L303.86,284.67L305.81,284.77L307.76,284.85L309.71,284.93L311.67,284.99L313.62,285.05L315.57,285.1" fill="none" stroke="#28E2E5" stroke-width="1.5"/>
<rect x="81.03" y="284.85" width="108.64" height="1.3" fill="#CD0BBC"/>
<path d="M188.69,285.32L190.64,285.27L192.59,285.22L194.55,285.16L196.5,285.08L198.45,284.99L200.4,284.88L202.35,284.75L204.31,284.6L206.26,284.43L208.21,284.23L210.16,284L212.11,283.74L214.07,283.45L216.02,283.12L217.97,282.77L219.92,282.37L221.87,281.95L223.83,281.49L225.78,281L227.73,280.48L229.68,279.94L231.63,279.38L233.59,278.82L235.54,278.25L237.49,277.68L239.44,277.12L241.39,276.59L243.35,276.08L245.3,275.61L247.25,275.18L249.2,274.79L251.15,274.47L253.11,274.2L255.06,273.99L257.01,273.84L258.96,273.75L260.91,273.72L262.87,273.75L264.82,273.83L266.77,273.96L268.72,274.14L270.67,274.35L272.63,274.6L274.58,274.88L276.53,275.18L278.48,275.5L280.43,275.84L282.39,276.18L284.34,276.54L286.29,276.9L288.24,277.26L290.19,277.62L292.15,277.98L294.1,278.33L296.05,278.67L298,279.01L299.95,279.33L301.91,279.65L303.86,279.96L305.81,280.25L307.76,280.54L309.71,280.81L311.67,281.07L313.62,281.32L315.57,281.55" fill="none" stroke="#CD0BBC" stroke-width="1.5"/>
<rect x="81.03" y="284.85" width="124.25" height="1.3" fill="#F5C710"/>
<path d="M204.31,285.32L206.26,285.27L208.21,285.21L210.16,285.13L212.11,285.04L214.07,284.92L216.02,284.78L217.97,284.62L219.92,284.42L221.87,284.19L223.83,283.92L225.78,283.61L227.73,283.24L229.68,282.83L231.63,282.36L233.59,281.83L235.54,281.24L237.49,280.6L239.44,279.88L241.39,279.11L243.35,278.28L245.3,277.4L247.25,276.46L249.2,275.49L251.15,274.47L253.11,273.42L255.06,272.35L257.01,271.26L258.96,270.16L260.91,269.07L262.87,267.97L264.82,266.89L266.77,265.83L268.72,264.8L270.67,263.78L272.63,262.8L274.58,261.86L276.53,260.94L278.48,260.07L280.43,259.23L282.39,258.43L284.34,257.67L286.29,256.95L288.24,256.26L290.19,255.61L292.15,254.99L294.1,254.41L296.05,253.86L298,253.35L299.95,252.86L301.91,252.4L303.86,251.97L305.81,251.56L307.76,251.18L309.71,250.82L311.67,250.49L313.62,250.17L315.57,249.87" fill="none" stroke="#F5C710" stroke-width="1.5"/>
<line x1="215.43" y1="278.53" x2="215.43" y2="285.5" stroke="#DF536B" stroke-width="1.15" stroke-dasharray="4.2,1.3"/>
<line x1="190.84" y1="276.67" x2="190.84" y2="285.5" stroke="#61D04F" stroke-width="1.15" stroke-dasharray="4.2,1.3"/>
<line x1="240.03" y1="274.2" x2="240.03" y2="285.5" stroke="#2297E6" stroke-width="1.15" stroke-dasharray="4.2,1.3"/>
<line x1="248.23" y1="274.98" x2="248.23" y2="285.5" stroke="#28E2E5" stroke-width="1.15" stroke-dasharray="4.2,1.3"/>
<line x1="251.15" y1="274.47" x2="251.15" y2="285.5" stroke="#CD0BBC" stroke-width="1.15" stroke-dasharray="4.2,1.3"/>
<circle cx="215.43" cy="285.5" r="1.9" fill="#DF536B"/>
<circle cx="190.84" cy="285.5" r="1.9" fill="#61D04F"/>
<circle cx="240.03" cy="285.5" r="1.9" fill="#2297E6"/>
<circle cx="248.23" cy="285.5" r="1.9" fill="#28E2E5"/>
<circle cx="251.15" cy="285.5" r="1.9" fill="#CD0BBC"/>
<line x1="58" y1="285.5" x2="60.6" y2="285.5" stroke="#222" stroke-width="1"/>
<text transform="translate(64.3,287.2) scale(0.84,1)" style="font-family:'Liberation Sans',sans-serif;font-size:4.8px" fill="#8A8A8A">0.00</text>
<line x1="58" y1="277.5" x2="60.6" y2="277.5" stroke="#222" stroke-width="1"/>
<text transform="translate(64.3,279.2) scale(0.84,1)" style="font-family:'Liberation Sans',sans-serif;font-size:4.8px" fill="#8A8A8A">0.20</text>
<line x1="58" y1="269.5" x2="60.6" y2="269.5" stroke="#222" stroke-width="1"/>
<text transform="translate(64.3,271.2) scale(0.84,1)" style="font-family:'Liberation Sans',sans-serif;font-size:4.8px" fill="#8A8A8A">0.40</text>
<line x1="58" y1="261.5" x2="60.6" y2="261.5" stroke="#222" stroke-width="1"/>
<text transform="translate(64.3,263.2) scale(0.84,1)" style="font-family:'Liberation Sans',sans-serif;font-size:4.8px" fill="#8A8A8A">0.60</text>
<line x1="58" y1="253.5" x2="60.6" y2="253.5" stroke="#222" stroke-width="1"/>
<text transform="translate(64.3,255.2) scale(0.84,1)" style="font-family:'Liberation Sans',sans-serif;font-size:4.8px" fill="#8A8A8A">0.80</text>
<line x1="58" y1="245.5" x2="60.6" y2="245.5" stroke="#222" stroke-width="1"/>
<text transform="translate(64.3,247.2) scale(0.84,1)" style="font-family:'Liberation Sans',sans-serif;font-size:4.8px" fill="#8A8A8A">1.00</text>
<line x1="52" y1="263.5" x2="58" y2="263.5" stroke="#333" stroke-width="1"/>
<text x="46.5" y="265.9" text-anchor="end" textLength="38.92" lengthAdjust="spacingAndGlyphs" style="font-family:'Liberation Sans',sans-serif;font-size:6.8px" fill="#606060">N3_Poor_Rap</text>
<rect x="81.83" y="290.1" width="233.24" height="39.4" fill="#E5E5E5"/>
<rect x="110.11" y="290.1" width="1" height="39.4" fill="#FAFAFA"/>
<rect x="139.39" y="290.1" width="1" height="39.4" fill="#FAFAFA"/>
<rect x="168.67" y="290.1" width="1" height="39.4" fill="#FAFAFA"/>
<rect x="197.95" y="290.1" width="1" height="39.4" fill="#FAFAFA"/>
<rect x="227.23" y="290.1" width="1" height="39.4" fill="#FAFAFA"/>
<rect x="256.51" y="290.1" width="1" height="39.4" fill="#FAFAFA"/>
<rect x="285.79" y="290.1" width="1" height="39.4" fill="#FAFAFA"/>
<rect x="81.83" y="321" width="233.24" height="1" fill="#FAFAFA"/>
<rect x="81.83" y="313" width="233.24" height="1" fill="#FAFAFA"/>
<rect x="81.83" y="305" width="233.24" height="1" fill="#FAFAFA"/>
<rect x="81.83" y="297" width="233.24" height="1" fill="#FAFAFA"/>
<rect x="315.57" y="329" width="11.73" height="1" fill="#A8A8A8"/>
<rect x="236.51" y="328.85" width="79.36" height="1.3" fill="#DF536B"/>
<path d="M81.33,290.46L83.28,290.52L85.23,290.6L87.19,290.67L89.14,290.75L91.09,290.84L93.04,290.93L94.99,291.03L96.95,291.14L98.9,291.25L100.85,291.38L102.8,291.51L104.75,291.65L106.71,291.8L108.66,291.96L110.61,292.13L112.56,292.31L114.51,292.51L116.47,292.72L118.42,292.94L120.37,293.18L122.32,293.44L124.27,293.71L126.23,294.01L128.18,294.32L130.13,294.65L132.08,295.01L134.03,295.39L135.99,295.8L137.94,296.23L139.89,296.69L141.84,297.18L143.79,297.7L145.75,298.25L147.7,298.84L149.65,299.46L151.6,300.11L153.55,300.8L155.51,301.53L157.46,302.29L159.41,303.09L161.36,303.92L163.31,304.79L165.27,305.69L167.22,306.63L169.17,307.59L171.12,308.58L173.07,309.59L175.03,310.62L176.98,311.66L178.93,312.71L180.88,313.76L182.83,314.81L184.79,315.85L186.74,316.88L188.69,317.88L190.64,318.86L192.59,319.81L194.55,320.72L196.5,321.59L198.45,322.41L200.4,323.18L202.35,323.91L204.31,324.58L206.26,325.2L208.21,325.76L210.16,326.28L212.11,326.74L214.07,327.15L216.02,327.52L217.97,327.84L219.92,328.12L221.87,328.36L223.83,328.57L225.78,328.74L227.73,328.89L229.68,329.01L231.63,329.11L233.59,329.19L235.54,329.26L237.49,329.31" fill="none" stroke="#DF536B" stroke-width="1.5"/>
<rect x="252.13" y="328.85" width="63.74" height="1.3" fill="#61D04F"/>
<path d="M81.33,328.57L83.28,328.51L85.23,328.44L87.19,328.37L89.14,328.3L91.09,328.22L93.04,328.13L94.99,328.04L96.95,327.95L98.9,327.84L100.85,327.74L102.8,327.62L104.75,327.5L106.71,327.37L108.66,327.23L110.61,327.09L112.56,326.93L114.51,326.77L116.47,326.6L118.42,326.42L120.37,326.23L122.32,326.03L124.27,325.82L126.23,325.59L128.18,325.36L130.13,325.12L132.08,324.86L134.03,324.6L135.99,324.32L137.94,324.04L139.89,323.74L141.84,323.44L143.79,323.12L145.75,322.8L147.7,322.47L149.65,322.14L151.6,321.8L153.55,321.47L155.51,321.13L157.46,320.8L159.41,320.47L161.36,320.15L163.31,319.85L165.27,319.56L167.22,319.29L169.17,319.05L171.12,318.83L173.07,318.65L175.03,318.5L176.98,318.39L178.93,318.32L180.88,318.3L182.83,318.32L184.79,318.4L186.74,318.53L188.69,318.71L190.64,318.93L192.59,319.21L194.55,319.53L196.5,319.9L198.45,320.3L200.4,320.74L202.35,321.21L204.31,321.71L206.26,322.22L208.21,322.74L210.16,323.27L212.11,323.79L214.07,324.31L216.02,324.82L217.97,325.3L219.92,325.77L221.87,326.21L223.83,326.62L225.78,327L227.73,327.34L229.68,327.65L231.63,327.93L233.59,328.18L235.54,328.39L237.49,328.58L239.44,328.74L241.39,328.88L243.35,328.99L245.3,329.09L247.25,329.17L249.2,329.23L251.15,329.29L253.11,329.33" fill="none" stroke="#61D04F" stroke-width="1.5"/>
<rect x="81.03" y="328.85" width="28.6" height="1.3" fill="#2297E6"/>
<rect x="275.55" y="328.85" width="40.32" height="1.3" fill="#2297E6"/>
<path d="M108.66,329.31L110.61,329.29L112.56,329.26L114.51,329.23L116.47,329.19L118.42,329.15L120.37,329.1L122.32,329.04L124.27,328.98L126.23,328.91L128.18,328.84L130.13,328.75L132.08,328.65L134.03,328.54L135.99,328.42L137.94,328.28L139.89,328.12L141.84,327.95L143.79,327.76L145.75,327.54L147.7,327.3L149.65,327.04L151.6,326.75L153.55,326.43L155.51,326.09L157.46,325.71L159.41,325.29L161.36,324.84L163.31,324.36L165.27,323.84L167.22,323.29L169.17,322.7L171.12,322.08L173.07,321.43L175.03,320.76L176.98,320.06L178.93,319.35L180.88,318.63L182.83,317.91L184.79,317.19L186.74,316.49L188.69,315.82L190.64,315.19L192.59,314.6L194.55,314.07L196.5,313.62L198.45,313.24L200.4,312.95L202.35,312.76L204.31,312.67L206.26,312.68L208.21,312.81L210.16,313.05L212.11,313.4L214.07,313.86L216.02,314.41L217.97,315.05L219.92,315.77L221.87,316.55L223.83,317.38L225.78,318.24L227.73,319.12L229.68,320.01L231.63,320.88L233.59,321.73L235.54,322.55L237.49,323.33L239.44,324.05L241.39,324.73L243.35,325.34L245.3,325.9L247.25,326.4L249.2,326.85L251.15,327.24L253.11,327.59L255.06,327.89L257.01,328.15L258.96,328.37L260.91,328.56L262.87,328.72L264.82,328.86L266.77,328.97L268.72,329.07L270.67,329.14L272.63,329.21L274.58,329.26L276.53,329.31" fill="none" stroke="#2297E6" stroke-width="1.5"/>
<rect x="81.03" y="328.85" width="73.5" height="1.3" fill="#28E2E5"/>
<rect x="293.12" y="328.85" width="22.75" height="1.3" fill="#28E2E5"/>
<path d="M153.55,329.32L155.51,329.28L157.46,329.24L159.41,329.19L161.36,329.14L163.31,329.07L165.27,329L167.22,328.91L169.17,328.81L171.12,328.7L173.07,328.57L175.03,328.42L176.98,328.25L178.93,328.07L180.88,327.86L182.83,327.63L184.79,327.38L186.74,327.1L188.69,326.8L190.64,326.48L192.59,326.14L194.55,325.78L196.5,325.41L198.45,325.02L200.4,324.63L202.35,324.23L204.31,323.84L206.26,323.46L208.21,323.09L210.16,322.75L212.11,322.43L214.07,322.16L216.02,321.93L217.97,321.75L219.92,321.63L221.87,321.56L223.83,321.56L225.78,321.62L227.73,321.73L229.68,321.91L231.63,322.13L233.59,322.4L235.54,322.71L237.49,323.05L239.44,323.42L241.39,323.8L243.35,324.2L245.3,324.59L247.25,324.98L249.2,325.37L251.15,325.74L253.11,326.09L255.06,326.43L257.01,326.75L258.96,327.04L260.91,327.31L262.87,327.56L264.82,327.79L266.77,328L268.72,328.18L270.67,328.35L272.63,328.5L274.58,328.63L276.53,328.75L278.48,328.85L280.43,328.94L282.39,329.02L284.34,329.09L286.29,329.15L288.24,329.2L290.19,329.24L292.15,329.28L294.1,329.32" fill="none" stroke="#28E2E5" stroke-width="1.5"/>
<rect x="81.03" y="328.85" width="91.07" height="1.3" fill="#CD0BBC"/>
<path d="M171.12,329.33L173.07,329.29L175.03,329.24L176.98,329.17L178.93,329.1L180.88,329.01L182.83,328.9L184.79,328.78L186.74,328.63L188.69,328.45L190.64,328.24L192.59,328.01L194.55,327.73L196.5,327.42L198.45,327.07L200.4,326.67L202.35,326.23L204.31,325.74L206.26,325.21L208.21,324.64L210.16,324.03L212.11,323.38L214.07,322.7L216.02,322.01L217.97,321.3L219.92,320.6L221.87,319.9L223.83,319.24L225.78,318.61L227.73,318.03L229.68,317.51L231.63,317.06L233.59,316.7L235.54,316.41L237.49,316.21L239.44,316.1L241.39,316.08L243.35,316.15L245.3,316.29L247.25,316.51L249.2,316.79L251.15,317.14L253.11,317.53L255.06,317.97L257.01,318.45L258.96,318.95L260.91,319.46L262.87,319.99L264.82,320.53L266.77,321.07L268.72,321.6L270.67,322.12L272.63,322.63L274.58,323.13L276.53,323.6L278.48,324.05L280.43,324.49L282.39,324.9L284.34,325.28L286.29,325.65L288.24,325.99L290.19,326.3L292.15,326.6L294.1,326.87L296.05,327.12L298,327.35L299.95,327.56L301.91,327.76L303.86,327.93L305.81,328.09L307.76,328.24L309.71,328.37L311.67,328.49L313.62,328.6L315.57,328.7" fill="none" stroke="#CD0BBC" stroke-width="1.5"/>
<rect x="81.03" y="328.85" width="108.64" height="1.3" fill="#F5C710"/>
<path d="M188.69,329.34L190.64,329.3L192.59,329.24L194.55,329.18L196.5,329.09L198.45,328.99L200.4,328.86L202.35,328.71L204.31,328.54L206.26,328.32L208.21,328.07L210.16,327.78L212.11,327.45L214.07,327.06L216.02,326.63L217.97,326.14L219.92,325.6L221.87,325.01L223.83,324.37L225.78,323.68L227.73,322.95L229.68,322.18L231.63,321.38L233.59,320.57L235.54,319.74L237.49,318.91L239.44,318.08L241.39,317.28L243.35,316.5L245.3,315.75L247.25,315.05L249.2,314.39L251.15,313.79L253.11,313.24L255.06,312.76L257.01,312.34L258.96,311.98L260.91,311.69L262.87,311.47L264.82,311.32L266.77,311.23L268.72,311.2L270.67,311.23L272.63,311.32L274.58,311.46L276.53,311.66L278.48,311.9L280.43,312.18L282.39,312.5L284.34,312.85L286.29,313.24L288.24,313.65L290.19,314.08L292.15,314.54L294.1,315L296.05,315.48L298,315.97L299.95,316.46L301.91,316.95L303.86,317.45L305.81,317.94L307.76,318.43L309.71,318.91L311.67,319.38L313.62,319.84L315.57,320.29" fill="none" stroke="#F5C710" stroke-width="1.5"/>
<rect x="81.03" y="328.85" width="132.06" height="1.3" fill="#948C86"/>
<path d="M212.11,329.3L214.07,329.25L216.02,329.19L217.97,329.11L219.92,329.02L221.87,328.9L223.83,328.77L225.78,328.62L227.73,328.44L229.68,328.23L231.63,328L233.59,327.73L235.54,327.43L237.49,327.1L239.44,326.74L241.39,326.34L243.35,325.91L245.3,325.44L247.25,324.94L249.2,324.4L251.15,323.83L253.11,323.23L255.06,322.6L257.01,321.94L258.96,321.25L260.91,320.54L262.87,319.8L264.82,319.05L266.77,318.27L268.72,317.48L270.67,316.67L272.63,315.85L274.58,315.03L276.53,314.19L278.48,313.36L280.43,312.52L282.39,311.69L284.34,310.86L286.29,310.03L288.24,309.22L290.19,308.41L292.15,307.62L294.1,306.84L296.05,306.08L298,305.33L299.95,304.6L301.91,303.89L303.86,303.21L305.81,302.54L307.76,301.9L309.71,301.27L311.67,300.67L313.62,300.09L315.57,299.54" fill="none" stroke="#9E9E9E" stroke-width="1.5"/>
<line x1="190.84" y1="318.96" x2="190.84" y2="329.5" stroke="#DF536B" stroke-width="1.15" stroke-dasharray="4.2,1.3"/>
<line x1="181.76" y1="318.3" x2="181.76" y2="329.5" stroke="#61D04F" stroke-width="1.15" stroke-dasharray="4.2,1.3"/>
<line x1="236.22" y1="322.83" x2="236.22" y2="329.5" stroke="#2297E6" stroke-width="1.15" stroke-dasharray="4.2,1.3"/>
<line x1="216.31" y1="321.9" x2="216.31" y2="329.5" stroke="#28E2E5" stroke-width="1.15" stroke-dasharray="4.2,1.3"/>
<line x1="244.13" y1="316.2" x2="244.13" y2="329.5" stroke="#CD0BBC" stroke-width="1.15" stroke-dasharray="4.2,1.3"/>
<line x1="281.02" y1="312.27" x2="281.02" y2="329.5" stroke="#F5C710" stroke-width="1.15" stroke-dasharray="4.2,1.3"/>
<circle cx="190.84" cy="329.5" r="1.9" fill="#DF536B"/>
<circle cx="181.76" cy="329.5" r="1.9" fill="#61D04F"/>
<circle cx="236.22" cy="329.5" r="1.9" fill="#2297E6"/>
<circle cx="216.31" cy="329.5" r="1.9" fill="#28E2E5"/>
<circle cx="244.13" cy="329.5" r="1.9" fill="#CD0BBC"/>
<circle cx="281.02" cy="329.5" r="1.9" fill="#F5C710"/>
<line x1="58" y1="329.5" x2="60.6" y2="329.5" stroke="#222" stroke-width="1"/>
<text transform="translate(64.3,331.2) scale(0.84,1)" style="font-family:'Liberation Sans',sans-serif;font-size:4.8px" fill="#8A8A8A">0.00</text>
<line x1="58" y1="321.5" x2="60.6" y2="321.5" stroke="#222" stroke-width="1"/>
<text transform="translate(64.3,323.2) scale(0.84,1)" style="font-family:'Liberation Sans',sans-serif;font-size:4.8px" fill="#8A8A8A">0.20</text>
<line x1="58" y1="313.5" x2="60.6" y2="313.5" stroke="#222" stroke-width="1"/>
<text transform="translate(64.3,315.2) scale(0.84,1)" style="font-family:'Liberation Sans',sans-serif;font-size:4.8px" fill="#8A8A8A">0.40</text>
<line x1="58" y1="305.5" x2="60.6" y2="305.5" stroke="#222" stroke-width="1"/>
<text transform="translate(64.3,307.2) scale(0.84,1)" style="font-family:'Liberation Sans',sans-serif;font-size:4.8px" fill="#8A8A8A">0.60</text>
<line x1="58" y1="297.5" x2="60.6" y2="297.5" stroke="#222" stroke-width="1"/>
<text transform="translate(64.3,299.2) scale(0.84,1)" style="font-family:'Liberation Sans',sans-serif;font-size:4.8px" fill="#8A8A8A">0.80</text>
<line x1="58" y1="289.5" x2="60.6" y2="289.5" stroke="#222" stroke-width="1"/>
<text transform="translate(64.3,291.2) scale(0.84,1)" style="font-family:'Liberation Sans',sans-serif;font-size:4.8px" fill="#8A8A8A">1.00</text>
<line x1="52" y1="307.5" x2="58" y2="307.5" stroke="#333" stroke-width="1"/>
<text x="46.5" y="309.9" text-anchor="end" textLength="48.12" lengthAdjust="spacingAndGlyphs" style="font-family:'Liberation Sans',sans-serif;font-size:6.8px" fill="#606060">N4_Pass_Soc_W</text>
<rect x="81.83" y="334.1" width="233.24" height="39.4" fill="#E5E5E5"/>
<rect x="110.11" y="334.1" width="1" height="39.4" fill="#FAFAFA"/>
<rect x="139.39" y="334.1" width="1" height="39.4" fill="#FAFAFA"/>
<rect x="168.67" y="334.1" width="1" height="39.4" fill="#FAFAFA"/>
<rect x="197.95" y="334.1" width="1" height="39.4" fill="#FAFAFA"/>
<rect x="227.23" y="334.1" width="1" height="39.4" fill="#FAFAFA"/>
<rect x="256.51" y="334.1" width="1" height="39.4" fill="#FAFAFA"/>
<rect x="285.79" y="334.1" width="1" height="39.4" fill="#FAFAFA"/>
<rect x="81.83" y="365" width="233.24" height="1" fill="#FAFAFA"/>
<rect x="81.83" y="357" width="233.24" height="1" fill="#FAFAFA"/>
<rect x="81.83" y="349" width="233.24" height="1" fill="#FAFAFA"/>
<rect x="81.83" y="341" width="233.24" height="1" fill="#FAFAFA"/>
<rect x="315.57" y="373" width="11.73" height="1" fill="#A8A8A8"/>
<rect x="236.51" y="372.85" width="79.36" height="1.3" fill="#DF536B"/>
<path d="M81.33,334.25L83.28,334.3L85.23,334.36L87.19,334.42L89.14,334.48L91.09,334.55L93.04,334.62L94.99,334.7L96.95,334.79L98.9,334.88L100.85,334.98L102.8,335.08L104.75,335.19L106.71,335.31L108.66,335.44L110.61,335.58L112.56,335.72L114.51,335.88L116.47,336.05L118.42,336.23L120.37,336.43L122.32,336.64L124.27,336.86L126.23,337.1L128.18,337.36L130.13,337.64L132.08,337.93L134.03,338.25L135.99,338.59L137.94,338.96L139.89,339.35L141.84,339.77L143.79,340.22L145.75,340.7L147.7,341.22L149.65,341.76L151.6,342.35L153.55,342.97L155.51,343.64L157.46,344.34L159.41,345.09L161.36,345.88L163.31,346.72L165.27,347.6L167.22,348.52L169.17,349.49L171.12,350.5L173.07,351.54L175.03,352.62L176.98,353.73L178.93,354.86L180.88,356.01L182.83,357.17L184.79,358.34L186.74,359.5L188.69,360.64L190.64,361.77L192.59,362.86L194.55,363.91L196.5,364.92L198.45,365.87L200.4,366.76L202.35,367.59L204.31,368.35L206.26,369.04L208.21,369.67L210.16,370.23L212.11,370.73L214.07,371.17L216.02,371.55L217.97,371.88L219.92,372.16L221.87,372.4L223.83,372.6L225.78,372.77L227.73,372.91L229.68,373.03L231.63,373.12L233.59,373.2L235.54,373.26L237.49,373.31" fill="none" stroke="#DF536B" stroke-width="1.5"/>
<rect x="250.18" y="372.85" width="65.69" height="1.3" fill="#61D04F"/>
<path d="M81.33,372.77L83.28,372.72L85.23,372.67L87.19,372.62L89.14,372.56L91.09,372.49L93.04,372.43L94.99,372.36L96.95,372.28L98.9,372.2L100.85,372.11L102.8,372.02L104.75,371.92L106.71,371.82L108.66,371.71L110.61,371.59L112.56,371.47L114.51,371.34L116.47,371.2L118.42,371.05L120.37,370.9L122.32,370.73L124.27,370.56L126.23,370.38L128.18,370.19L130.13,369.99L132.08,369.78L134.03,369.56L135.99,369.32L137.94,369.08L139.89,368.83L141.84,368.57L143.79,368.3L145.75,368.02L147.7,367.74L149.65,367.45L151.6,367.15L153.55,366.85L155.51,366.54L157.46,366.24L159.41,365.94L161.36,365.64L163.31,365.35L165.27,365.08L167.22,364.82L169.17,364.58L171.12,364.36L173.07,364.18L175.03,364.02L176.98,363.91L178.93,363.83L180.88,363.81L182.83,363.83L184.79,363.9L186.74,364.02L188.69,364.2L190.64,364.42L192.59,364.7L194.55,365.02L196.5,365.39L198.45,365.79L200.4,366.22L202.35,366.67L204.31,367.14L206.26,367.62L208.21,368.1L210.16,368.57L212.11,369.04L214.07,369.48L216.02,369.91L217.97,370.31L219.92,370.68L221.87,371.03L223.83,371.34L225.78,371.63L227.73,371.89L229.68,372.12L231.63,372.32L233.59,372.5L235.54,372.66L237.49,372.79L239.44,372.91L241.39,373.01L243.35,373.09L245.3,373.16L247.25,373.22L249.2,373.28L251.15,373.32" fill="none" stroke="#61D04F" stroke-width="1.5"/>
<rect x="81.03" y="372.85" width="32.51" height="1.3" fill="#2297E6"/>
<rect x="277.51" y="372.85" width="38.36" height="1.3" fill="#2297E6"/>
<path d="M112.56,373.31L114.51,373.29L116.47,373.26L118.42,373.22L120.37,373.19L122.32,373.14L124.27,373.1L126.23,373.04L128.18,372.98L130.13,372.91L132.08,372.83L134.03,372.74L135.99,372.64L137.94,372.53L139.89,372.41L141.84,372.26L143.79,372.11L145.75,371.93L147.7,371.74L149.65,371.52L151.6,371.28L153.55,371.01L155.51,370.72L157.46,370.4L159.41,370.04L161.36,369.66L163.31,369.25L165.27,368.8L167.22,368.32L169.17,367.81L171.12,367.27L173.07,366.71L175.03,366.12L176.98,365.51L178.93,364.9L180.88,364.28L182.83,363.66L184.79,363.06L186.74,362.49L188.69,361.95L190.64,361.45L192.59,361.01L194.55,360.64L196.5,360.35L198.45,360.14L200.4,360.01L202.35,359.98L204.31,360.04L206.26,360.2L208.21,360.44L210.16,360.76L212.11,361.17L214.07,361.63L216.02,362.16L217.97,362.73L219.92,363.33L221.87,363.96L223.83,364.61L225.78,365.26L227.73,365.9L229.68,366.54L231.63,367.15L233.59,367.74L235.54,368.31L237.49,368.84L239.44,369.34L241.39,369.8L243.35,370.23L245.3,370.62L247.25,370.97L249.2,371.3L251.15,371.59L253.11,371.85L255.06,372.08L257.01,372.28L258.96,372.46L260.91,372.61L262.87,372.75L264.82,372.87L266.77,372.97L268.72,373.06L270.67,373.13L272.63,373.19L274.58,373.25L276.53,373.29L278.48,373.33" fill="none" stroke="#2297E6" stroke-width="1.5"/>
<rect x="81.03" y="372.85" width="67.64" height="1.3" fill="#28E2E5"/>
<rect x="302.88" y="372.85" width="12.99" height="1.3" fill="#28E2E5"/>
<path d="M147.7,373.33L149.65,373.29L151.6,373.25L153.55,373.2L155.51,373.14L157.46,373.07L159.41,372.99L161.36,372.89L163.31,372.78L165.27,372.65L167.22,372.5L169.17,372.33L171.12,372.13L173.07,371.9L175.03,371.64L176.98,371.35L178.93,371.03L180.88,370.67L182.83,370.27L184.79,369.84L186.74,369.37L188.69,368.86L190.64,368.33L192.59,367.78L194.55,367.2L196.5,366.61L198.45,366.02L200.4,365.43L202.35,364.85L204.31,364.3L206.26,363.78L208.21,363.29L210.16,362.86L212.11,362.49L214.07,362.17L216.02,361.93L217.97,361.75L219.92,361.65L221.87,361.61L223.83,361.65L225.78,361.76L227.73,361.94L229.68,362.17L231.63,362.46L233.59,362.8L235.54,363.18L237.49,363.6L239.44,364.05L241.39,364.52L243.35,365.01L245.3,365.51L247.25,366.01L249.2,366.52L251.15,367.02L253.11,367.51L255.06,367.99L257.01,368.45L258.96,368.89L260.91,369.31L262.87,369.71L264.82,370.09L266.77,370.44L268.72,370.77L270.67,371.07L272.63,371.34L274.58,371.6L276.53,371.83L278.48,372.03L280.43,372.22L282.39,372.39L284.34,372.53L286.29,372.66L288.24,372.78L290.19,372.88L292.15,372.97L294.1,373.05L296.05,373.11L298,373.17L299.95,373.22L301.91,373.27L303.86,373.3" fill="none" stroke="#28E2E5" stroke-width="1.5"/>
<rect x="81.03" y="372.85" width="87.16" height="1.3" fill="#CD0BBC"/>
<path d="M167.22,373.34L169.17,373.3L171.12,373.25L173.07,373.19L175.03,373.11L176.98,373.02L178.93,372.91L180.88,372.77L182.83,372.61L184.79,372.43L186.74,372.2L188.69,371.95L190.64,371.65L192.59,371.31L194.55,370.92L196.5,370.49L198.45,370L200.4,369.46L202.35,368.88L204.31,368.24L206.26,367.56L208.21,366.84L210.16,366.08L212.11,365.29L214.07,364.47L216.02,363.64L217.97,362.8L219.92,361.96L221.87,361.13L223.83,360.32L225.78,359.54L227.73,358.8L229.68,358.1L231.63,357.46L233.59,356.88L235.54,356.37L237.49,355.93L239.44,355.57L241.39,355.29L243.35,355.1L245.3,354.99L247.25,354.96L249.2,355.02L251.15,355.16L253.11,355.38L255.06,355.68L257.01,356.05L258.96,356.48L260.91,356.97L262.87,357.52L264.82,358.11L266.77,358.75L268.72,359.41L270.67,360.1L272.63,360.8L274.58,361.52L276.53,362.23L278.48,362.95L280.43,363.65L282.39,364.34L284.34,365.01L286.29,365.65L288.24,366.27L290.19,366.86L292.15,367.42L294.1,367.95L296.05,368.45L298,368.91L299.95,369.34L301.91,369.74L303.86,370.11L305.81,370.44L307.76,370.75L309.71,371.04L311.67,371.29L313.62,371.53L315.57,371.74" fill="none" stroke="#CD0BBC" stroke-width="1.5"/>
<rect x="81.03" y="372.85" width="114.49" height="1.3" fill="#F5C710"/>
<path d="M194.55,373.31L196.5,373.27L198.45,373.21L200.4,373.14L202.35,373.06L204.31,372.97L206.26,372.86L208.21,372.73L210.16,372.58L212.11,372.41L214.07,372.22L216.02,372.01L217.97,371.77L219.92,371.51L221.87,371.22L223.83,370.9L225.78,370.56L227.73,370.19L229.68,369.79L231.63,369.37L233.59,368.93L235.54,368.46L237.49,367.97L239.44,367.47L241.39,366.96L243.35,366.43L245.3,365.9L247.25,365.36L249.2,364.83L251.15,364.3L253.11,363.79L255.06,363.29L257.01,362.81L258.96,362.35L260.91,361.93L262.87,361.54L264.82,361.19L266.77,360.89L268.72,360.62L270.67,360.41L272.63,360.24L274.58,360.12L276.53,360.06L278.48,360.04L280.43,360.07L282.39,360.15L284.34,360.27L286.29,360.43L288.24,360.64L290.19,360.87L292.15,361.14L294.1,361.44L296.05,361.76L298,362.1L299.95,362.45L301.91,362.82L303.86,363.2L305.81,363.59L307.76,363.98L309.71,364.37L311.67,364.75L313.62,365.14L315.57,365.52" fill="none" stroke="#F5C710" stroke-width="1.5"/>
<rect x="81.03" y="372.85" width="135.96" height="1.3" fill="#948C86"/>
<path d="M216.02,373.31L217.97,373.27L219.92,373.21L221.87,373.15L223.83,373.07L225.78,372.98L227.73,372.88L229.68,372.75L231.63,372.61L233.59,372.45L235.54,372.26L237.49,372.05L239.44,371.81L241.39,371.54L243.35,371.23L245.3,370.89L247.25,370.52L249.2,370.1L251.15,369.65L253.11,369.15L255.06,368.61L257.01,368.03L258.96,367.4L260.91,366.74L262.87,366.03L264.82,365.28L266.77,364.49L268.72,363.67L270.67,362.82L272.63,361.93L274.58,361.03L276.53,360.1L278.48,359.16L280.43,358.21L282.39,357.25L284.34,356.28L286.29,355.32L288.24,354.37L290.19,353.43L292.15,352.5L294.1,351.59L296.05,350.71L298,349.84L299.95,349L301.91,348.19L303.86,347.4L305.81,346.64L307.76,345.92L309.71,345.22L311.67,344.56L313.62,343.92L315.57,343.32" fill="none" stroke="#9E9E9E" stroke-width="1.5"/>
<line x1="198.16" y1="365.73" x2="198.16" y2="373.5" stroke="#DF536B" stroke-width="1.15" stroke-dasharray="4.2,1.3"/>
<line x1="182.35" y1="363.82" x2="182.35" y2="373.5" stroke="#61D04F" stroke-width="1.15" stroke-dasharray="4.2,1.3"/>
<line x1="215.43" y1="361.99" x2="215.43" y2="373.5" stroke="#2297E6" stroke-width="1.15" stroke-dasharray="4.2,1.3"/>
<line x1="220.7" y1="361.63" x2="220.7" y2="373.5" stroke="#28E2E5" stroke-width="1.15" stroke-dasharray="4.2,1.3"/>
<line x1="271.36" y1="360.34" x2="271.36" y2="373.5" stroke="#CD0BBC" stroke-width="1.15" stroke-dasharray="4.2,1.3"/>
<line x1="276.63" y1="360.05" x2="276.63" y2="373.5" stroke="#F5C710" stroke-width="1.15" stroke-dasharray="4.2,1.3"/>
<circle cx="198.16" cy="373.5" r="1.9" fill="#DF536B"/>
<circle cx="182.35" cy="373.5" r="1.9" fill="#61D04F"/>
<circle cx="215.43" cy="373.5" r="1.9" fill="#2297E6"/>
<circle cx="220.7" cy="373.5" r="1.9" fill="#28E2E5"/>
<circle cx="271.36" cy="373.5" r="1.9" fill="#CD0BBC"/>
<circle cx="276.63" cy="373.5" r="1.9" fill="#F5C710"/>
<line x1="58" y1="373.5" x2="60.6" y2="373.5" stroke="#222" stroke-width="1"/>
<text transform="translate(64.3,375.2) scale(0.84,1)" style="font-family:'Liberation Sans',sans-serif;font-size:4.8px" fill="#8A8A8A">0.00</text>
<line x1="58" y1="365.5" x2="60.6" y2="365.5" stroke="#222" stroke-width="1"/>
<text transform="translate(64.3,367.2) scale(0.84,1)" style="font-family:'Liberation Sans',sans-serif;font-size:4.8px" fill="#8A8A8A">0.20</text>
<line x1="58" y1="357.5" x2="60.6" y2="357.5" stroke="#222" stroke-width="1"/>
<text transform="translate(64.3,359.2) scale(0.84,1)" style="font-family:'Liberation Sans',sans-serif;font-size:4.8px" fill="#8A8A8A">0.40</text>
<line x1="58" y1="349.5" x2="60.6" y2="349.5" stroke="#222" stroke-width="1"/>
<text transform="translate(64.3,351.2) scale(0.84,1)" style="font-family:'Liberation Sans',sans-serif;font-size:4.8px" fill="#8A8A8A">0.60</text>
<line x1="58" y1="341.5" x2="60.6" y2="341.5" stroke="#222" stroke-width="1"/>
<text transform="translate(64.3,343.2) scale(0.84,1)" style="font-family:'Liberation Sans',sans-serif;font-size:4.8px" fill="#8A8A8A">0.80</text>
<line x1="58" y1="333.5" x2="60.6" y2="333.5" stroke="#222" stroke-width="1"/>
<text transform="translate(64.3,335.2) scale(0.84,1)" style="font-family:'Liberation Sans',sans-serif;font-size:4.8px" fill="#8A8A8A">1.00</text>
<line x1="52" y1="351.5" x2="58" y2="351.5" stroke="#333" stroke-width="1"/>
<text x="46.5" y="353.9" text-anchor="end" textLength="38.12" lengthAdjust="spacingAndGlyphs" style="font-family:'Liberation Sans',sans-serif;font-size:6.8px" fill="#606060">N5_Diff_Abstr</text>
<rect x="81.83" y="378.1" width="233.24" height="39.4" fill="#E5E5E5"/>
<rect x="110.11" y="378.1" width="1" height="39.4" fill="#FAFAFA"/>
<rect x="139.39" y="378.1" width="1" height="39.4" fill="#FAFAFA"/>
<rect x="168.67" y="378.1" width="1" height="39.4" fill="#FAFAFA"/>
<rect x="197.95" y="378.1" width="1" height="39.4" fill="#FAFAFA"/>
<rect x="227.23" y="378.1" width="1" height="39.4" fill="#FAFAFA"/>
<rect x="256.51" y="378.1" width="1" height="39.4" fill="#FAFAFA"/>
<rect x="285.79" y="378.1" width="1" height="39.4" fill="#FAFAFA"/>
<rect x="81.83" y="409" width="233.24" height="1" fill="#FAFAFA"/>
<rect x="81.83" y="401" width="233.24" height="1" fill="#FAFAFA"/>
<rect x="81.83" y="393" width="233.24" height="1" fill="#FAFAFA"/>
<rect x="81.83" y="385" width="233.24" height="1" fill="#FAFAFA"/>
<rect x="315.57" y="417" width="11.73" height="1" fill="#A8A8A8"/>
<rect x="248.23" y="416.85" width="67.64" height="1.3" fill="#DF536B"/>
<path d="M81.33,377.7L83.28,377.72L85.23,377.73L87.19,377.75L89.14,377.77L91.09,377.79L93.04,377.81L94.99,377.83L96.95,377.85L98.9,377.88L100.85,377.91L102.8,377.94L104.75,377.97L106.71,378.01L108.66,378.05L110.61,378.09L112.56,378.13L114.51,378.18L116.47,378.23L118.42,378.29L120.37,378.36L122.32,378.42L124.27,378.5L126.23,378.58L128.18,378.67L130.13,378.76L132.08,378.87L134.03,378.98L135.99,379.1L137.94,379.24L139.89,379.39L141.84,379.55L143.79,379.73L145.75,379.93L147.7,380.14L149.65,380.37L151.6,380.63L153.55,380.92L155.51,381.23L157.46,381.57L159.41,381.94L161.36,382.35L163.31,382.8L165.27,383.29L167.22,383.82L169.17,384.41L171.12,385.05L173.07,385.74L175.03,386.49L176.98,387.3L178.93,388.18L180.88,389.12L182.83,390.13L184.79,391.2L186.74,392.33L188.69,393.52L190.64,394.77L192.59,396.06L194.55,397.39L196.5,398.74L198.45,400.11L200.4,401.49L202.35,402.85L204.31,404.2L206.26,405.5L208.21,406.76L210.16,407.95L212.11,409.08L214.07,410.13L216.02,411.1L217.97,411.98L219.92,412.78L221.87,413.49L223.83,414.12L225.78,414.68L227.73,415.16L229.68,415.57L231.63,415.92L233.59,416.22L235.54,416.47L237.49,416.67L239.44,416.84L241.39,416.98L243.35,417.09L245.3,417.18L247.25,417.25L249.2,417.31" fill="none" stroke="#DF536B" stroke-width="1.5"/>
<rect x="81.03" y="416.85" width="1.28" height="1.3" fill="#61D04F"/>
<rect x="252.13" y="416.85" width="63.74" height="1.3" fill="#61D04F"/>
<path d="M81.33,417.31L83.28,417.3L85.23,417.28L87.19,417.27L89.14,417.25L91.09,417.23L93.04,417.22L94.99,417.2L96.95,417.18L98.9,417.15L100.85,417.13L102.8,417.1L104.75,417.08L106.71,417.05L108.66,417.02L110.61,416.99L112.56,416.95L114.51,416.91L116.47,416.87L118.42,416.83L120.37,416.79L122.32,416.74L124.27,416.69L126.23,416.64L128.18,416.58L130.13,416.52L132.08,416.45L134.03,416.38L135.99,416.31L137.94,416.23L139.89,416.15L141.84,416.06L143.79,415.97L145.75,415.87L147.7,415.77L149.65,415.66L151.6,415.55L153.55,415.43L155.51,415.31L157.46,415.18L159.41,415.05L161.36,414.91L163.31,414.76L165.27,414.62L167.22,414.47L169.17,414.31L171.12,414.16L173.07,414L175.03,413.85L176.98,413.7L178.93,413.56L180.88,413.42L182.83,413.3L184.79,413.18L186.74,413.08L188.69,413L190.64,412.94L192.59,412.9L194.55,412.89L196.5,412.91L198.45,412.95L200.4,413.02L202.35,413.12L204.31,413.24L206.26,413.4L208.21,413.57L210.16,413.77L212.11,413.98L214.07,414.21L216.02,414.45L217.97,414.69L219.92,414.93L221.87,415.17L223.83,415.4L225.78,415.62L227.73,415.83L229.68,416.03L231.63,416.22L233.59,416.39L235.54,416.54L237.49,416.68L239.44,416.8L241.39,416.91L243.35,417L245.3,417.09L247.25,417.16L249.2,417.22L251.15,417.27L253.11,417.31" fill="none" stroke="#61D04F" stroke-width="1.5"/>
<rect x="81.03" y="416.85" width="44.22" height="1.3" fill="#2297E6"/>
<rect x="285.31" y="416.85" width="30.56" height="1.3" fill="#2297E6"/>
<path d="M124.27,417.32L126.23,417.29L128.18,417.26L130.13,417.23L132.08,417.19L134.03,417.15L135.99,417.1L137.94,417.05L139.89,416.98L141.84,416.91L143.79,416.83L145.75,416.74L147.7,416.64L149.65,416.52L151.6,416.39L153.55,416.24L155.51,416.07L157.46,415.88L159.41,415.67L161.36,415.43L163.31,415.17L165.27,414.87L167.22,414.54L169.17,414.18L171.12,413.78L173.07,413.34L175.03,412.86L176.98,412.34L178.93,411.77L180.88,411.17L182.83,410.52L184.79,409.84L186.74,409.12L188.69,408.38L190.64,407.62L192.59,406.85L194.55,406.09L196.5,405.34L198.45,404.62L200.4,403.95L202.35,403.33L204.31,402.8L206.26,402.35L208.21,402L210.16,401.76L212.11,401.64L214.07,401.63L216.02,401.75L217.97,401.99L219.92,402.34L221.87,402.8L223.83,403.35L225.78,403.98L227.73,404.68L229.68,405.43L231.63,406.22L233.59,407.03L235.54,407.85L237.49,408.67L239.44,409.47L241.39,410.24L243.35,410.99L245.3,411.69L247.25,412.34L249.2,412.95L251.15,413.51L253.11,414.02L255.06,414.48L257.01,414.9L258.96,415.26L260.91,415.59L262.87,415.87L264.82,416.12L266.77,416.33L268.72,416.52L270.67,416.68L272.63,416.81L274.58,416.93L276.53,417.03L278.48,417.11L280.43,417.18L282.39,417.23L284.34,417.28L286.29,417.32" fill="none" stroke="#2297E6" stroke-width="1.5"/>
<rect x="81.03" y="416.85" width="81.31" height="1.3" fill="#28E2E5"/>
<rect x="308.74" y="416.85" width="7.13" height="1.3" fill="#28E2E5"/>
<path d="M161.36,417.33L163.31,417.29L165.27,417.25L167.22,417.2L169.17,417.14L171.12,417.07L173.07,416.99L175.03,416.89L176.98,416.78L178.93,416.64L180.88,416.48L182.83,416.3L184.79,416.1L186.74,415.86L188.69,415.59L190.64,415.29L192.59,414.95L194.55,414.58L196.5,414.17L198.45,413.74L200.4,413.27L202.35,412.77L204.31,412.25L206.26,411.72L208.21,411.18L210.16,410.64L212.11,410.11L214.07,409.6L216.02,409.11L217.97,408.67L219.92,408.28L221.87,407.94L223.83,407.66L225.78,407.45L227.73,407.31L229.68,407.25L231.63,407.26L233.59,407.34L235.54,407.49L237.49,407.7L239.44,407.98L241.39,408.31L243.35,408.68L245.3,409.08L247.25,409.52L249.2,409.98L251.15,410.45L253.11,410.93L255.06,411.4L257.01,411.87L258.96,412.33L260.91,412.78L262.87,413.2L264.82,413.6L266.77,413.98L268.72,414.33L270.67,414.66L272.63,414.97L274.58,415.25L276.53,415.5L278.48,415.73L280.43,415.94L282.39,416.13L284.34,416.3L286.29,416.45L288.24,416.59L290.19,416.71L292.15,416.81L294.1,416.91L296.05,416.99L298,417.06L299.95,417.12L301.91,417.17L303.86,417.22L305.81,417.26L307.76,417.3L309.71,417.33" fill="none" stroke="#28E2E5" stroke-width="1.5"/>
<rect x="81.03" y="416.85" width="100.83" height="1.3" fill="#CD0BBC"/>
<path d="M180.88,417.32L182.83,417.27L184.79,417.21L186.74,417.14L188.69,417.05L190.64,416.95L192.59,416.82L194.55,416.67L196.5,416.48L198.45,416.27L200.4,416.02L202.35,415.74L204.31,415.41L206.26,415.04L208.21,414.62L210.16,414.16L212.11,413.65L214.07,413.1L216.02,412.51L217.97,411.89L219.92,411.23L221.87,410.56L223.83,409.86L225.78,409.16L227.73,408.46L229.68,407.78L231.63,407.12L233.59,406.49L235.54,405.91L237.49,405.37L239.44,404.9L241.39,404.5L243.35,404.16L245.3,403.9L247.25,403.72L249.2,403.61L251.15,403.59L253.11,403.63L255.06,403.75L257.01,403.94L258.96,404.18L260.91,404.48L262.87,404.83L264.82,405.23L266.77,405.66L268.72,406.11L270.67,406.6L272.63,407.09L274.58,407.6L276.53,408.12L278.48,408.64L280.43,409.15L282.39,409.66L284.34,410.16L286.29,410.64L288.24,411.11L290.19,411.56L292.15,412L294.1,412.41L296.05,412.81L298,413.18L299.95,413.54L301.91,413.87L303.86,414.18L305.81,414.47L307.76,414.74L309.71,414.99L311.67,415.22L313.62,415.43L315.57,415.63" fill="none" stroke="#CD0BBC" stroke-width="1.5"/>
<rect x="81.03" y="416.85" width="118.4" height="1.3" fill="#F5C710"/>
<path d="M198.45,417.32L200.4,417.26L202.35,417.2L204.31,417.12L206.26,417.02L208.21,416.9L210.16,416.75L212.11,416.58L214.07,416.38L216.02,416.14L217.97,415.87L219.92,415.55L221.87,415.19L223.83,414.78L225.78,414.33L227.73,413.83L229.68,413.28L231.63,412.68L233.59,412.03L235.54,411.35L237.49,410.62L239.44,409.86L241.39,409.07L243.35,408.26L245.3,407.43L247.25,406.59L249.2,405.75L251.15,404.91L253.11,404.09L255.06,403.29L257.01,402.51L258.96,401.77L260.91,401.06L262.87,400.4L264.82,399.79L266.77,399.23L268.72,398.73L270.67,398.28L272.63,397.9L274.58,397.57L276.53,397.31L278.48,397.11L280.43,396.96L282.39,396.88L284.34,396.86L286.29,396.9L288.24,396.98L290.19,397.13L292.15,397.32L294.1,397.55L296.05,397.83L298,398.15L299.95,398.51L301.91,398.9L303.86,399.31L305.81,399.76L307.76,400.22L309.71,400.71L311.67,401.21L313.62,401.72L315.57,402.24" fill="none" stroke="#F5C710" stroke-width="1.5"/>
<rect x="81.03" y="416.85" width="143.77" height="1.3" fill="#948C86"/>
<path d="M223.83,417.32L225.78,417.28L227.73,417.23L229.68,417.16L231.63,417.09L233.59,417L235.54,416.9L237.49,416.79L239.44,416.65L241.39,416.5L243.35,416.33L245.3,416.14L247.25,415.92L249.2,415.68L251.15,415.42L253.11,415.13L255.06,414.82L257.01,414.47L258.96,414.1L260.91,413.71L262.87,413.28L264.82,412.83L266.77,412.35L268.72,411.85L270.67,411.31L272.63,410.75L274.58,410.17L276.53,409.56L278.48,408.93L280.43,408.27L282.39,407.6L284.34,406.9L286.29,406.19L288.24,405.46L290.19,404.72L292.15,403.97L294.1,403.21L296.05,402.44L298,401.66L299.95,400.88L301.91,400.1L303.86,399.31L305.81,398.53L307.76,397.76L309.71,396.99L311.67,396.23L313.62,395.48L315.57,394.74" fill="none" stroke="#9E9E9E" stroke-width="1.5"/>
<line x1="237.69" y1="416.69" x2="237.69" y2="417.5" stroke="#DF536B" stroke-width="1.15" stroke-dasharray="4.2,1.3"/>
<line x1="168" y1="414.4" x2="168" y2="417.5" stroke="#61D04F" stroke-width="1.15" stroke-dasharray="4.2,1.3"/>
<line x1="234.46" y1="407.4" x2="234.46" y2="417.5" stroke="#2297E6" stroke-width="1.15" stroke-dasharray="4.2,1.3"/>
<line x1="231.24" y1="407.25" x2="231.24" y2="417.5" stroke="#28E2E5" stroke-width="1.15" stroke-dasharray="4.2,1.3"/>
<line x1="254.08" y1="403.68" x2="254.08" y2="417.5" stroke="#CD0BBC" stroke-width="1.15" stroke-dasharray="4.2,1.3"/>
<line x1="303.86" y1="399.31" x2="303.86" y2="417.5" stroke="#F5C710" stroke-width="1.15" stroke-dasharray="4.2,1.3"/>
<circle cx="237.69" cy="417.5" r="1.9" fill="#DF536B"/>
<circle cx="168" cy="417.5" r="1.9" fill="#61D04F"/>
<circle cx="234.46" cy="417.5" r="1.9" fill="#2297E6"/>
<circle cx="231.24" cy="417.5" r="1.9" fill="#28E2E5"/>
<circle cx="254.08" cy="417.5" r="1.9" fill="#CD0BBC"/>
<circle cx="303.86" cy="417.5" r="1.9" fill="#F5C710"/>
<line x1="58" y1="417.5" x2="60.6" y2="417.5" stroke="#222" stroke-width="1"/>
<text transform="translate(64.3,419.2) scale(0.84,1)" style="font-family:'Liberation Sans',sans-serif;font-size:4.8px" fill="#8A8A8A">0.00</text>
<line x1="58" y1="409.5" x2="60.6" y2="409.5" stroke="#222" stroke-width="1"/>
<text transform="translate(64.3,411.2) scale(0.84,1)" style="font-family:'Liberation Sans',sans-serif;font-size:4.8px" fill="#8A8A8A">0.20</text>
<line x1="58" y1="401.5" x2="60.6" y2="401.5" stroke="#222" stroke-width="1"/>
<text transform="translate(64.3,403.2) scale(0.84,1)" style="font-family:'Liberation Sans',sans-serif;font-size:4.8px" fill="#8A8A8A">0.40</text>
<line x1="58" y1="393.5" x2="60.6" y2="393.5" stroke="#222" stroke-width="1"/>
<text transform="translate(64.3,395.2) scale(0.84,1)" style="font-family:'Liberation Sans',sans-serif;font-size:4.8px" fill="#8A8A8A">0.60</text>
<line x1="58" y1="385.5" x2="60.6" y2="385.5" stroke="#222" stroke-width="1"/>
<text transform="translate(64.3,387.2) scale(0.84,1)" style="font-family:'Liberation Sans',sans-serif;font-size:4.8px" fill="#8A8A8A">0.80</text>
<line x1="58" y1="377.5" x2="60.6" y2="377.5" stroke="#222" stroke-width="1"/>
<text transform="translate(64.3,379.2) scale(0.84,1)" style="font-family:'Liberation Sans',sans-serif;font-size:4.8px" fill="#8A8A8A">1.00</text>
<line x1="52" y1="395.5" x2="58" y2="395.5" stroke="#333" stroke-width="1"/>
<text x="46.5" y="397.9" text-anchor="end" textLength="43.7" lengthAdjust="spacingAndGlyphs" style="font-family:'Liberation Sans',sans-serif;font-size:6.8px" fill="#606060">N6_Lack_Spont</text>
<rect x="81.83" y="422.1" width="233.24" height="39.4" fill="#E5E5E5"/>
<rect x="110.11" y="422.1" width="1" height="39.4" fill="#FAFAFA"/>
<rect x="139.39" y="422.1" width="1" height="39.4" fill="#FAFAFA"/>
<rect x="168.67" y="422.1" width="1" height="39.4" fill="#FAFAFA"/>
<rect x="197.95" y="422.1" width="1" height="39.4" fill="#FAFAFA"/>
<rect x="227.23" y="422.1" width="1" height="39.4" fill="#FAFAFA"/>
<rect x="256.51" y="422.1" width="1" height="39.4" fill="#FAFAFA"/>
<rect x="285.79" y="422.1" width="1" height="39.4" fill="#FAFAFA"/>
<rect x="81.83" y="453" width="233.24" height="1" fill="#FAFAFA"/>
<rect x="81.83" y="445" width="233.24" height="1" fill="#FAFAFA"/>
<rect x="81.83" y="437" width="233.24" height="1" fill="#FAFAFA"/>
<rect x="81.83" y="429" width="233.24" height="1" fill="#FAFAFA"/>
<rect x="315.57" y="461" width="11.73" height="1" fill="#A8A8A8"/>
<rect x="252.13" y="460.85" width="63.74" height="1.3" fill="#DF536B"/>
<path d="M81.33,421.92L83.28,421.94L85.23,421.98L87.19,422.01L89.14,422.04L91.09,422.08L93.04,422.12L94.99,422.17L96.95,422.21L98.9,422.26L100.85,422.32L102.8,422.38L104.75,422.44L106.71,422.51L108.66,422.58L110.61,422.65L112.56,422.74L114.51,422.82L116.47,422.92L118.42,423.02L120.37,423.13L122.32,423.25L124.27,423.37L126.23,423.51L128.18,423.65L130.13,423.81L132.08,423.98L134.03,424.16L135.99,424.35L137.94,424.56L139.89,424.78L141.84,425.03L143.79,425.29L145.75,425.57L147.7,425.87L149.65,426.19L151.6,426.54L153.55,426.91L155.51,427.31L157.46,427.75L159.41,428.21L161.36,428.71L163.31,429.24L165.27,429.81L167.22,430.42L169.17,431.07L171.12,431.76L173.07,432.5L175.03,433.28L176.98,434.11L178.93,434.98L180.88,435.9L182.83,436.86L184.79,437.87L186.74,438.91L188.69,439.99L190.64,441.1L192.59,442.24L194.55,443.4L196.5,444.57L198.45,445.74L200.4,446.92L202.35,448.07L204.31,449.21L206.26,450.32L208.21,451.39L210.16,452.41L212.11,453.38L214.07,454.3L216.02,455.15L217.97,455.94L219.92,456.66L221.87,457.32L223.83,457.91L225.78,458.44L227.73,458.9L229.68,459.31L231.63,459.67L233.59,459.98L235.54,460.25L237.49,460.47L239.44,460.66L241.39,460.82L243.35,460.96L245.3,461.06L247.25,461.15L249.2,461.23L251.15,461.29L253.11,461.33" fill="none" stroke="#DF536B" stroke-width="1.5"/>
<rect x="263.84" y="460.85" width="52.03" height="1.3" fill="#61D04F"/>
<path d="M81.33,461.09L83.28,461.07L85.23,461.04L87.19,461.01L89.14,460.97L91.09,460.94L93.04,460.9L94.99,460.86L96.95,460.81L98.9,460.77L100.85,460.72L102.8,460.66L104.75,460.61L106.71,460.55L108.66,460.48L110.61,460.42L112.56,460.34L114.51,460.27L116.47,460.19L118.42,460.1L120.37,460.01L122.32,459.91L124.27,459.81L126.23,459.69L128.18,459.58L130.13,459.45L132.08,459.32L134.03,459.18L135.99,459.04L137.94,458.88L139.89,458.72L141.84,458.55L143.79,458.36L145.75,458.17L147.7,457.97L149.65,457.77L151.6,457.55L153.55,457.32L155.51,457.08L157.46,456.84L159.41,456.59L161.36,456.33L163.31,456.06L165.27,455.79L167.22,455.51L169.17,455.23L171.12,454.95L173.07,454.67L175.03,454.4L176.98,454.13L178.93,453.88L180.88,453.63L182.83,453.41L184.79,453.2L186.74,453.02L188.69,452.87L190.64,452.75L192.59,452.67L194.55,452.63L196.5,452.63L198.45,452.68L200.4,452.77L202.35,452.91L204.31,453.1L206.26,453.33L208.21,453.6L210.16,453.91L212.11,454.25L214.07,454.63L216.02,455.02L217.97,455.43L219.92,455.86L221.87,456.29L223.83,456.72L225.78,457.14L227.73,457.55L229.68,457.94L231.63,458.32L233.59,458.68L235.54,459.01L237.49,459.32L239.44,459.6L241.39,459.86L243.35,460.09L245.3,460.29L247.25,460.48L249.2,460.64L251.15,460.78L253.11,460.9L255.06,461L257.01,461.09L258.96,461.17L260.91,461.23L262.87,461.28L264.82,461.33" fill="none" stroke="#61D04F" stroke-width="1.5"/>
<rect x="81.03" y="460.85" width="46.17" height="1.3" fill="#2297E6"/>
<rect x="289.22" y="460.85" width="26.65" height="1.3" fill="#2297E6"/>
<path d="M126.23,461.3L128.18,461.28L130.13,461.25L132.08,461.21L134.03,461.17L135.99,461.13L137.94,461.07L139.89,461.02L141.84,460.95L143.79,460.88L145.75,460.79L147.7,460.7L149.65,460.59L151.6,460.48L153.55,460.34L155.51,460.19L157.46,460.02L159.41,459.84L161.36,459.63L163.31,459.4L165.27,459.14L167.22,458.85L169.17,458.54L171.12,458.19L173.07,457.82L175.03,457.4L176.98,456.96L178.93,456.47L180.88,455.96L182.83,455.4L184.79,454.82L186.74,454.2L188.69,453.56L190.64,452.9L192.59,452.22L194.55,451.53L196.5,450.85L198.45,450.17L200.4,449.52L202.35,448.9L204.31,448.32L206.26,447.8L208.21,447.34L210.16,446.96L212.11,446.66L214.07,446.45L216.02,446.34L217.97,446.33L219.92,446.42L221.87,446.6L223.83,446.89L225.78,447.26L227.73,447.71L229.68,448.23L231.63,448.82L233.59,449.47L235.54,450.15L237.49,450.87L239.44,451.6L241.39,452.35L243.35,453.09L245.3,453.83L247.25,454.54L249.2,455.23L251.15,455.89L253.11,456.51L255.06,457.1L257.01,457.64L258.96,458.14L260.91,458.59L262.87,459L264.82,459.36L266.77,459.69L268.72,459.97L270.67,460.22L272.63,460.43L274.58,460.62L276.53,460.77L278.48,460.91L280.43,461.02L282.39,461.11L284.34,461.18L286.29,461.25L288.24,461.3L290.19,461.34" fill="none" stroke="#2297E6" stroke-width="1.5"/>
<rect x="81.03" y="460.85" width="83.26" height="1.3" fill="#28E2E5"/>
<rect x="308.74" y="460.85" width="7.13" height="1.3" fill="#28E2E5"/>
<path d="M163.31,461.32L165.27,461.29L167.22,461.24L169.17,461.19L171.12,461.13L173.07,461.07L175.03,460.98L176.98,460.89L178.93,460.78L180.88,460.65L182.83,460.5L184.79,460.32L186.74,460.13L188.69,459.9L190.64,459.65L192.59,459.37L194.55,459.05L196.5,458.7L198.45,458.32L200.4,457.9L202.35,457.46L204.31,456.98L206.26,456.48L208.21,455.95L210.16,455.41L212.11,454.85L214.07,454.3L216.02,453.74L217.97,453.2L219.92,452.68L221.87,452.19L223.83,451.74L225.78,451.33L227.73,450.97L229.68,450.68L231.63,450.44L233.59,450.28L235.54,450.19L237.49,450.17L239.44,450.23L241.39,450.36L243.35,450.56L245.3,450.82L247.25,451.15L249.2,451.54L251.15,451.97L253.11,452.45L255.06,452.96L257.01,453.49L258.96,454.04L260.91,454.6L262.87,455.16L264.82,455.71L266.77,456.25L268.72,456.77L270.67,457.26L272.63,457.73L274.58,458.16L276.53,458.56L278.48,458.93L280.43,459.26L282.39,459.56L284.34,459.83L286.29,460.07L288.24,460.27L290.19,460.45L292.15,460.61L294.1,460.75L296.05,460.87L298,460.97L299.95,461.05L301.91,461.13L303.86,461.19L305.81,461.24L307.76,461.28L309.71,461.32" fill="none" stroke="#28E2E5" stroke-width="1.5"/>
<rect x="81.03" y="460.85" width="102.78" height="1.3" fill="#CD0BBC"/>
<path d="M182.83,461.34L184.79,461.3L186.74,461.25L188.69,461.18L190.64,461.11L192.59,461.02L194.55,460.91L196.5,460.78L198.45,460.62L200.4,460.44L202.35,460.23L204.31,459.98L206.26,459.69L208.21,459.37L210.16,459L212.11,458.58L214.07,458.12L216.02,457.61L217.97,457.05L219.92,456.45L221.87,455.8L223.83,455.11L225.78,454.38L227.73,453.62L229.68,452.84L231.63,452.05L233.59,451.25L235.54,450.45L237.49,449.67L239.44,448.92L241.39,448.2L243.35,447.54L245.3,446.94L247.25,446.42L249.2,445.98L251.15,445.63L253.11,445.38L255.06,445.24L257.01,445.21L258.96,445.28L260.91,445.46L262.87,445.75L264.82,446.13L266.77,446.6L268.72,447.15L270.67,447.76L272.63,448.43L274.58,449.13L276.53,449.87L278.48,450.62L280.43,451.38L282.39,452.12L284.34,452.86L286.29,453.57L288.24,454.25L290.19,454.9L292.15,455.51L294.1,456.08L296.05,456.61L298,457.1L299.95,457.55L301.91,457.97L303.86,458.34L305.81,458.69L307.76,459L309.71,459.27L311.67,459.52L313.62,459.75L315.57,459.95" fill="none" stroke="#CD0BBC" stroke-width="1.5"/>
<rect x="81.03" y="460.85" width="132.06" height="1.3" fill="#F5C710"/>
<path d="M212.11,461.32L214.07,461.28L216.02,461.23L217.97,461.17L219.92,461.1L221.87,461.02L223.83,460.92L225.78,460.81L227.73,460.69L229.68,460.54L231.63,460.38L233.59,460.21L235.54,460.01L237.49,459.79L239.44,459.56L241.39,459.31L243.35,459.04L245.3,458.76L247.25,458.47L249.2,458.16L251.15,457.85L253.11,457.54L255.06,457.23L257.01,456.92L258.96,456.63L260.91,456.35L262.87,456.1L264.82,455.86L266.77,455.66L268.72,455.49L270.67,455.35L272.63,455.24L274.58,455.17L276.53,455.14L278.48,455.14L280.43,455.17L282.39,455.24L284.34,455.33L286.29,455.44L288.24,455.58L290.19,455.74L292.15,455.91L294.1,456.1L296.05,456.29L298,456.49L299.95,456.7L301.91,456.9L303.86,457.11L305.81,457.32L307.76,457.52L309.71,457.72L311.67,457.91L313.62,458.1L315.57,458.28" fill="none" stroke="#F5C710" stroke-width="1.5"/>
<rect x="81.03" y="460.85" width="139.87" height="1.3" fill="#948C86"/>
<path d="M219.92,461.33L221.87,461.29L223.83,461.23L225.78,461.15L227.73,461.06L229.68,460.94L231.63,460.81L233.59,460.64L235.54,460.44L237.49,460.21L239.44,459.93L241.39,459.6L243.35,459.22L245.3,458.79L247.25,458.29L249.2,457.72L251.15,457.09L253.11,456.38L255.06,455.6L257.01,454.74L258.96,453.81L260.91,452.82L262.87,451.75L264.82,450.63L266.77,449.46L268.72,448.25L270.67,447.01L272.63,445.74L274.58,444.47L276.53,443.2L278.48,441.94L280.43,440.7L282.39,439.49L284.34,438.32L286.29,437.19L288.24,436.11L290.19,435.08L292.15,434.1L294.1,433.18L296.05,432.31L298,431.5L299.95,430.75L301.91,430.04L303.86,429.39L305.81,428.78L307.76,428.22L309.71,427.7L311.67,427.23L313.62,426.79L315.57,426.38" fill="none" stroke="#9E9E9E" stroke-width="1.5"/>
<line x1="215.43" y1="454.9" x2="215.43" y2="461.5" stroke="#DF536B" stroke-width="1.15" stroke-dasharray="4.2,1.3"/>
<line x1="191.13" y1="452.73" x2="191.13" y2="461.5" stroke="#61D04F" stroke-width="1.15" stroke-dasharray="4.2,1.3"/>
<line x1="235.64" y1="450.19" x2="235.64" y2="461.5" stroke="#2297E6" stroke-width="1.15" stroke-dasharray="4.2,1.3"/>
<line x1="236.22" y1="450.17" x2="236.22" y2="461.5" stroke="#28E2E5" stroke-width="1.15" stroke-dasharray="4.2,1.3"/>
<line x1="294.2" y1="456.11" x2="294.2" y2="461.5" stroke="#CD0BBC" stroke-width="1.15" stroke-dasharray="4.2,1.3"/>
<line x1="245.59" y1="458.72" x2="245.59" y2="461.5" stroke="#F5C710" stroke-width="1.15" stroke-dasharray="4.2,1.3"/>
<circle cx="215.43" cy="461.5" r="1.9" fill="#DF536B"/>
<circle cx="191.13" cy="461.5" r="1.9" fill="#61D04F"/>
<circle cx="235.64" cy="461.5" r="1.9" fill="#2297E6"/>
<circle cx="236.22" cy="461.5" r="1.9" fill="#28E2E5"/>
<circle cx="294.2" cy="461.5" r="1.9" fill="#CD0BBC"/>
<circle cx="245.59" cy="461.5" r="1.9" fill="#F5C710"/>
<line x1="58" y1="461.5" x2="60.6" y2="461.5" stroke="#222" stroke-width="1"/>
<text transform="translate(64.3,463.2) scale(0.84,1)" style="font-family:'Liberation Sans',sans-serif;font-size:4.8px" fill="#8A8A8A">0.00</text>
<line x1="58" y1="453.5" x2="60.6" y2="453.5" stroke="#222" stroke-width="1"/>
<text transform="translate(64.3,455.2) scale(0.84,1)" style="font-family:'Liberation Sans',sans-serif;font-size:4.8px" fill="#8A8A8A">0.20</text>
<line x1="58" y1="445.5" x2="60.6" y2="445.5" stroke="#222" stroke-width="1"/>
<text transform="translate(64.3,447.2) scale(0.84,1)" style="font-family:'Liberation Sans',sans-serif;font-size:4.8px" fill="#8A8A8A">0.40</text>
<line x1="58" y1="437.5" x2="60.6" y2="437.5" stroke="#222" stroke-width="1"/>
<text transform="translate(64.3,439.2) scale(0.84,1)" style="font-family:'Liberation Sans',sans-serif;font-size:4.8px" fill="#8A8A8A">0.60</text>
<line x1="58" y1="429.5" x2="60.6" y2="429.5" stroke="#222" stroke-width="1"/>
<text transform="translate(64.3,431.2) scale(0.84,1)" style="font-family:'Liberation Sans',sans-serif;font-size:4.8px" fill="#8A8A8A">0.80</text>
<line x1="58" y1="421.5" x2="60.6" y2="421.5" stroke="#222" stroke-width="1"/>
<text transform="translate(64.3,423.2) scale(0.84,1)" style="font-family:'Liberation Sans',sans-serif;font-size:4.8px" fill="#8A8A8A">1.00</text>
<line x1="52" y1="439.5" x2="58" y2="439.5" stroke="#333" stroke-width="1"/>
<text x="46.5" y="441.9" text-anchor="end" textLength="29.36" lengthAdjust="spacingAndGlyphs" style="font-family:'Liberation Sans',sans-serif;font-size:6.8px" fill="#606060">N7_Stereo</text>
<polygon points="322.5,199.4 323.12,201.05 324.88,201.13 323.5,202.22 323.97,203.92 322.5,202.95 321.03,203.92 321.5,202.22 320.12,201.13 321.88,201.05" fill="#4a4a4a"/>
<polygon points="322.5,243.42 323.12,245.07 324.88,245.15 323.5,246.24 323.97,247.94 322.5,246.97 321.03,247.94 321.5,246.24 320.12,245.15 321.88,245.07" fill="#4a4a4a"/>
<polygon points="322.5,287.44 323.12,289.09 324.88,289.17 323.5,290.26 323.97,291.96 322.5,290.99 321.03,291.96 321.5,290.26 320.12,289.17 321.88,289.09" fill="#4a4a4a"/>
<polygon points="322.5,331.46 323.12,333.11 324.88,333.19 323.5,334.28 323.97,335.98 322.5,335.01 321.03,335.98 321.5,334.28 320.12,333.19 321.88,333.11" fill="#4a4a4a"/>
<polygon points="322.5,375.48 323.12,377.13 324.88,377.21 323.5,378.3 323.97,380 322.5,379.03 321.03,380 321.5,378.3 320.12,377.21 321.88,377.13" fill="#4a4a4a"/>
<polygon points="322.5,419.5 323.12,421.15 324.88,421.23 323.5,422.32 323.97,424.02 322.5,423.05 321.03,424.02 321.5,422.32 320.12,421.23 321.88,421.15" fill="#4a4a4a"/>
<line x1="81.33" y1="464" x2="81.33" y2="470.5" stroke="#111" stroke-width="1.1"/>
<text x="81.33" y="483.8" text-anchor="middle" style="font-family:'Liberation Sans',sans-serif;font-size:6.1px" fill="#222">−4</text>
<line x1="110.61" y1="464" x2="110.61" y2="470.5" stroke="#111" stroke-width="1.1"/>
<text x="110.61" y="483.8" text-anchor="middle" style="font-family:'Liberation Sans',sans-serif;font-size:6.1px" fill="#222">−3</text>
<line x1="139.89" y1="464" x2="139.89" y2="470.5" stroke="#111" stroke-width="1.1"/>
<text x="139.89" y="483.8" text-anchor="middle" style="font-family:'Liberation Sans',sans-serif;font-size:6.1px" fill="#222">−2</text>
<line x1="169.17" y1="464" x2="169.17" y2="470.5" stroke="#111" stroke-width="1.1"/>
<text x="169.17" y="483.8" text-anchor="middle" style="font-family:'Liberation Sans',sans-serif;font-size:6.1px" fill="#222">−1</text>
<line x1="198.45" y1="464" x2="198.45" y2="470.5" stroke="#111" stroke-width="1.1"/>
<text x="198.45" y="483.8" text-anchor="middle" style="font-family:'Liberation Sans',sans-serif;font-size:6.1px" fill="#222">0</text>
<line x1="227.73" y1="464" x2="227.73" y2="470.5" stroke="#111" stroke-width="1.1"/>
<text x="227.73" y="483.8" text-anchor="middle" style="font-family:'Liberation Sans',sans-serif;font-size:6.1px" fill="#222">1</text>
<line x1="257.01" y1="464" x2="257.01" y2="470.5" stroke="#111" stroke-width="1.1"/>
<text x="257.01" y="483.8" text-anchor="middle" style="font-family:'Liberation Sans',sans-serif;font-size:6.1px" fill="#222">2</text>
<line x1="286.29" y1="464" x2="286.29" y2="470.5" stroke="#111" stroke-width="1.1"/>
<text x="286.29" y="483.8" text-anchor="middle" style="font-family:'Liberation Sans',sans-serif;font-size:6.1px" fill="#222">3</text>
<line x1="315.57" y1="464" x2="315.57" y2="470.5" stroke="#111" stroke-width="1.1"/>
<text x="315.57" y="483.8" text-anchor="middle" style="font-family:'Liberation Sans',sans-serif;font-size:6.1px" fill="#222">4</text>
<text x="322.8" y="470.8" text-anchor="end" style="font-family:'Liberation Sans',sans-serif;font-size:6.05px" fill="#444">RMK: mirt/Rasch</text>
<rect x="57" y="20" width="2" height="444" fill="#999"/><rect x="57" y="20" width="270.3" height="2" fill="#999"/><rect x="326.8" y="20" width="1.3" height="445" fill="#555"/><rect x="57" y="464" width="271.1" height="1" fill="#444"/>
<text x="398.15" y="12.4" style="font-family:'Liberation Sans',sans-serif;font-weight:bold;font-size:16.5px" fill="#000">b</text>
<text x="550.2" y="12" text-anchor="middle" style="font-family:'Liberation Sans',sans-serif;font-weight:bold;font-size:10.5px" fill="#111">PANSS−N / Control</text>
<rect x="497.44" y="140.4" width="14.66" height="6.6" fill="#D9D9D9" stroke="#2a2a2a" stroke-width="1"/>
<rect x="512.1" y="117.4" width="14.66" height="29.6" fill="#D9D9D9" stroke="#2a2a2a" stroke-width="1"/>
<rect x="526.77" y="90.3" width="14.67" height="56.7" fill="#D9D9D9" stroke="#2a2a2a" stroke-width="1"/>
<rect x="541.43" y="73.2" width="14.66" height="73.8" fill="#D9D9D9" stroke="#2a2a2a" stroke-width="1"/>
<rect x="556.1" y="40.2" width="14.66" height="106.8" fill="#D9D9D9" stroke="#2a2a2a" stroke-width="1"/>
<rect x="570.76" y="77.6" width="14.67" height="69.4" fill="#D9D9D9" stroke="#2a2a2a" stroke-width="1"/>
<rect x="585.43" y="136.4" width="14.66" height="10.6" fill="#D9D9D9" stroke="#2a2a2a" stroke-width="1"/>
<rect x="600.09" y="136.4" width="14.66" height="10.6" fill="#D9D9D9" stroke="#2a2a2a" stroke-width="1"/>
<rect x="614.76" y="144.7" width="14.67" height="2.3" fill="#D9D9D9" stroke="#2a2a2a" stroke-width="1"/>
<path d="M438.78,34.9L440.25,37.82L441.71,40.66L443.18,43.44L444.65,46.16L446.11,48.8L447.58,51.39L449.05,53.91L450.51,56.38L451.98,58.78L453.44,61.13L454.91,63.42L456.38,65.66L457.84,67.84L459.31,69.97L460.78,72.05L462.24,74.08L463.71,76.07L465.18,78L466.64,79.89L468.11,81.73L469.58,83.52L471.04,85.27L472.51,86.98L473.98,88.65L475.44,90.27L476.91,91.85L478.38,93.4L479.84,94.9L481.31,96.37L482.77,97.79L484.24,99.18L485.71,100.53L487.17,101.85L488.64,103.13L490.11,104.37L491.57,105.58L493.04,106.76L494.51,107.9L495.97,109L497.44,110.08L498.91,111.12L500.37,112.13L501.84,113.1L503.31,114.04L504.77,114.96L506.24,115.84L507.71,116.69L509.17,117.51L510.64,118.3L512.1,119.06L513.57,119.79L515.04,120.49L516.5,121.16L517.97,121.8L519.44,122.41L520.9,123L522.37,123.56L523.84,124.09L525.3,124.6L526.77,125.07L528.24,125.53L529.7,125.95L531.17,126.36L532.64,126.73L534.1,127.09L535.57,127.42L537.04,127.73L538.5,128.01L539.97,128.28L541.43,128.52L542.9,128.75L544.37,128.96L545.83,129.15L547.3,129.32L548.77,129.48L550.23,129.62L551.7,129.75L553.17,129.86L554.63,129.97L556.1,130.07L557.57,130.16L559.03,130.24L560.5,130.31L561.97,130.38L563.43,130.44L564.9,130.51L566.37,130.57L567.83,130.62L569.3,130.68L570.76,130.73L572.23,130.79L573.7,130.84L575.16,130.89L576.63,130.94L578.1,130.98L579.56,131.03L581.03,131.06L582.5,131.09L583.96,131.11L585.43,131.13L586.9,131.13L588.36,131.12L589.83,131.1L591.3,131.07L592.76,131.03L594.23,130.97L595.7,130.9L597.16,130.81L598.63,130.7L600.09,130.58L601.56,130.44L603.03,130.29L604.49,130.12L605.96,129.93L607.43,129.73L608.89,129.51L610.36,129.28L611.83,129.03L613.29,128.77L614.76,128.49L616.23,128.2L617.69,127.89L619.16,127.58L620.63,127.25L622.09,126.91L623.56,126.56L625.03,126.21L626.49,125.84L627.96,125.46L629.42,125.08L630.89,124.68L632.36,124.28L633.82,123.87L635.29,123.46L636.76,123.03L638.22,122.6L639.69,122.16L641.16,121.71L642.62,121.25L644.09,120.78L645.56,120.31L647.02,119.82L648.49,119.33L649.96,118.82L651.42,118.31L652.89,117.78L654.36,117.25L655.82,116.7L657.29,116.14L658.75,115.56L660.22,114.98L661.69,114.38L663.15,113.77L664.62,113.14L666.09,112.5L667.55,111.84L669.02,111.17L670.49,110.48L671.95,109.77L673.42,109.05" fill="none" stroke="#9B1D20" stroke-width="1.5"/>
<path d="M438.78,144.61L440.25,144.49L441.71,144.36L443.18,144.23L444.65,144.09L446.11,143.94L447.58,143.78L449.05,143.62L450.51,143.44L451.98,143.25L453.44,143.06L454.91,142.85L456.38,142.63L457.84,142.39L459.31,142.15L460.78,141.88L462.24,141.6L463.71,141.31L465.18,141L466.64,140.66L468.11,140.31L469.58,139.94L471.04,139.54L472.51,139.12L473.98,138.68L475.44,138.2L476.91,137.7L478.38,137.17L479.84,136.6L481.31,136L482.77,135.36L484.24,134.68L485.71,133.96L487.17,133.2L488.64,132.39L490.11,131.54L491.57,130.63L493.04,129.67L494.51,128.65L495.97,127.57L497.44,126.43L498.91,125.22L500.37,123.95L501.84,122.61L503.31,121.19L504.77,119.7L506.24,118.14L507.71,116.5L509.17,114.78L510.64,112.98L512.1,111.11L513.57,109.15L515.04,107.12L516.5,105.02L517.97,102.84L519.44,100.6L520.9,98.3L522.37,95.94L523.84,93.53L525.3,91.08L526.77,88.6L528.24,86.09L529.7,83.58L531.17,81.07L532.64,78.57L534.1,76.1L535.57,73.66L537.04,71.28L538.5,68.96L539.97,66.71L541.43,64.55L542.9,62.48L544.37,60.51L545.83,58.65L547.3,56.9L548.77,55.26L550.23,53.74L551.7,52.32L553.17,51.01L554.63,49.8L556.1,48.67L557.57,47.63L559.03,46.67L560.5,45.76L561.97,44.91L563.43,44.1L564.9,43.31L566.37,42.55L567.83,41.81L569.3,41.07L570.76,40.35L572.23,39.63L573.7,38.93L575.16,38.24L576.63,37.58L578.1,36.95L579.56,36.38L581.03,35.88L582.5,35.46L583.96,35.15L585.43,34.95L586.9,34.9L588.36,35L589.83,35.27L591.3,35.71L592.76,36.35L594.23,37.17L595.7,38.19L597.16,39.4L598.63,40.8L600.09,42.37L601.56,44.12L603.03,46.02L604.49,48.06L605.96,50.23L607.43,52.51L608.89,54.87L610.36,57.31L611.83,59.8L613.29,62.32L614.76,64.86L616.23,67.4L617.69,69.93L619.16,72.44L620.63,74.91L622.09,77.33L623.56,79.7L625.03,82.02L626.49,84.27L627.96,86.46L629.42,88.58L630.89,90.63L632.36,92.61L633.82,94.53L635.29,96.38L636.76,98.17L638.22,99.9L639.69,101.56L641.16,103.17L642.62,104.72L644.09,106.21L645.56,107.66L647.02,109.05L648.49,110.4L649.96,111.7L651.42,112.96L652.89,114.17L654.36,115.35L655.82,116.48L657.29,117.58L658.75,118.64L660.22,119.67L661.69,120.66L663.15,121.62L664.62,122.55L666.09,123.45L667.55,124.32L669.02,125.16L670.49,125.98L671.95,126.76L673.42,127.53" fill="none" stroke="#2E8B57" stroke-width="1.5"/>
<line x1="439.1" y1="34.9" x2="439.1" y2="146.8" stroke="#C98A8A" stroke-width="1"/>
<line x1="435.6" y1="146.8" x2="439.1" y2="146.8" stroke="#C98A8A" stroke-width="1"/>
<text transform="translate(443.1,148.7) scale(0.86,1)" style="font-family:'Liberation Sans',sans-serif;font-size:5px" fill="#C0505A">0</text>
<line x1="435.6" y1="118.83" x2="439.1" y2="118.83" stroke="#C98A8A" stroke-width="1"/>
<text transform="translate(443.1,120.73) scale(0.86,1)" style="font-family:'Liberation Sans',sans-serif;font-size:5px" fill="#C0505A">0.6</text>
<line x1="435.6" y1="90.85" x2="439.1" y2="90.85" stroke="#C98A8A" stroke-width="1"/>
<text transform="translate(443.1,92.75) scale(0.86,1)" style="font-family:'Liberation Sans',sans-serif;font-size:5px" fill="#C0505A">1.2</text>
<line x1="435.6" y1="62.88" x2="439.1" y2="62.88" stroke="#C98A8A" stroke-width="1"/>
<text transform="translate(443.1,64.78) scale(0.86,1)" style="font-family:'Liberation Sans',sans-serif;font-size:5px" fill="#C0505A">1.8</text>
<line x1="435.6" y1="34.9" x2="439.1" y2="34.9" stroke="#C98A8A" stroke-width="1"/>
<text transform="translate(443.1,36.8) scale(0.86,1)" style="font-family:'Liberation Sans',sans-serif;font-size:5px" fill="#C0505A">2.4</text>
<text transform="translate(438.5,31.4) scale(0.9,1)" style="font-family:'Liberation Sans',sans-serif;font-size:5px" fill="#C0505A">SE</text>
<line x1="675.1" y1="34.9" x2="675.1" y2="146.8" stroke="#5DAE80" stroke-width="1"/>
<line x1="671.6" y1="146.8" x2="675.1" y2="146.8" stroke="#5DAE80" stroke-width="1"/>
<text transform="translate(670.6,148.7) scale(0.86,1)" text-anchor="end" style="font-family:'Liberation Sans',sans-serif;font-size:5px" fill="#7DBF98">0</text>
<line x1="671.6" y1="118.83" x2="675.1" y2="118.83" stroke="#5DAE80" stroke-width="1"/>
<text transform="translate(670.6,120.73) scale(0.86,1)" text-anchor="end" style="font-family:'Liberation Sans',sans-serif;font-size:5px" fill="#7DBF98">2.2</text>
<line x1="671.6" y1="90.85" x2="675.1" y2="90.85" stroke="#5DAE80" stroke-width="1"/>
<text transform="translate(670.6,92.75) scale(0.86,1)" text-anchor="end" style="font-family:'Liberation Sans',sans-serif;font-size:5px" fill="#7DBF98">4.4</text>
<line x1="671.6" y1="62.88" x2="675.1" y2="62.88" stroke="#5DAE80" stroke-width="1"/>
<text transform="translate(670.6,64.78) scale(0.86,1)" text-anchor="end" style="font-family:'Liberation Sans',sans-serif;font-size:5px" fill="#7DBF98">6.7</text>
<line x1="671.6" y1="34.9" x2="675.1" y2="34.9" stroke="#5DAE80" stroke-width="1"/>
<text transform="translate(670.6,36.8) scale(0.86,1)" text-anchor="end" style="font-family:'Liberation Sans',sans-serif;font-size:5px" fill="#7DBF98">8.9</text>
<text transform="translate(675.6,31.4) scale(0.9,1)" text-anchor="end" style="font-family:'Liberation Sans',sans-serif;font-size:5px" fill="#7DBF98">TIF</text>
<rect x="415.25" y="152" width="269.05" height="1" fill="#888888"/>
<rect x="439.28" y="157.1" width="233.64" height="39.4" fill="#E5E5E5"/>
<rect x="467.61" y="157.1" width="1" height="39.4" fill="#FAFAFA"/>
<rect x="496.94" y="157.1" width="1" height="39.4" fill="#FAFAFA"/>
<rect x="526.27" y="157.1" width="1" height="39.4" fill="#FAFAFA"/>
<rect x="555.6" y="157.1" width="1" height="39.4" fill="#FAFAFA"/>
<rect x="584.93" y="157.1" width="1" height="39.4" fill="#FAFAFA"/>
<rect x="614.26" y="157.1" width="1" height="39.4" fill="#FAFAFA"/>
<rect x="643.59" y="157.1" width="1" height="39.4" fill="#FAFAFA"/>
<rect x="439.28" y="188" width="233.64" height="1" fill="#FAFAFA"/>
<rect x="439.28" y="180" width="233.64" height="1" fill="#FAFAFA"/>
<rect x="439.28" y="172" width="233.64" height="1" fill="#FAFAFA"/>
<rect x="439.28" y="164" width="233.64" height="1" fill="#FAFAFA"/>
<rect x="673.42" y="196" width="10.88" height="1" fill="#A8A8A8"/>
<rect x="590.32" y="195.85" width="83.4" height="1.3" fill="#DF536B"/>
<path d="M438.78,157.69L440.74,157.78L442.69,157.86L444.65,157.96L446.6,158.06L448.56,158.17L450.51,158.28L452.47,158.4L454.42,158.53L456.38,158.67L458.33,158.82L460.29,158.98L462.24,159.15L464.2,159.33L466.15,159.53L468.11,159.74L470.07,159.96L472.02,160.19L473.98,160.45L475.93,160.71L477.89,161L479.84,161.31L481.8,161.63L483.75,161.98L485.71,162.35L487.66,162.74L489.62,163.16L491.57,163.61L493.53,164.08L495.48,164.58L497.44,165.11L499.4,165.68L501.35,166.27L503.31,166.9L505.26,167.57L507.22,168.27L509.17,169.01L511.13,169.79L513.08,170.6L515.04,171.45L516.99,172.33L518.95,173.25L520.9,174.2L522.86,175.19L524.81,176.2L526.77,177.23L528.73,178.28L530.68,179.35L532.64,180.42L534.59,181.5L536.55,182.57L538.5,183.63L540.46,184.68L542.41,185.69L544.37,186.68L546.32,187.63L548.28,188.53L550.23,189.38L552.19,190.18L554.14,190.92L556.1,191.61L558.06,192.24L560.01,192.81L561.97,193.32L563.92,193.78L565.88,194.18L567.83,194.54L569.79,194.85L571.74,195.12L573.7,195.35L575.65,195.55L577.61,195.72L579.56,195.86L581.52,195.98L583.47,196.08L585.43,196.16L587.39,196.22L589.34,196.28L591.3,196.32" fill="none" stroke="#DF536B" stroke-width="1.5"/>
<rect x="607.92" y="195.85" width="65.8" height="1.3" fill="#61D04F"/>
<path d="M438.78,195.34L440.74,195.26L442.69,195.18L444.65,195.09L446.6,195L448.56,194.9L450.51,194.8L452.47,194.68L454.42,194.57L456.38,194.44L458.33,194.31L460.29,194.16L462.24,194.02L464.2,193.86L466.15,193.69L468.11,193.51L470.07,193.33L472.02,193.13L473.98,192.92L475.93,192.7L477.89,192.47L479.84,192.23L481.8,191.98L483.75,191.72L485.71,191.44L487.66,191.16L489.62,190.86L491.57,190.55L493.53,190.23L495.48,189.9L497.44,189.57L499.4,189.22L501.35,188.87L503.31,188.51L505.26,188.16L507.22,187.8L509.17,187.44L511.13,187.09L513.08,186.75L515.04,186.42L516.99,186.1L518.95,185.81L520.9,185.54L522.86,185.3L524.81,185.09L526.77,184.93L528.73,184.81L530.68,184.73L532.64,184.71L534.59,184.74L536.55,184.83L538.5,184.97L540.46,185.18L542.41,185.44L544.37,185.75L546.32,186.12L548.28,186.53L550.23,186.99L552.19,187.47L554.14,187.99L556.1,188.52L558.06,189.06L560.01,189.61L561.97,190.16L563.92,190.7L565.88,191.22L567.83,191.73L569.79,192.21L571.74,192.66L573.7,193.08L575.65,193.48L577.61,193.84L579.56,194.17L581.52,194.47L583.47,194.74L585.43,194.98L587.39,195.19L589.34,195.38L591.3,195.55L593.25,195.7L595.21,195.82L597.16,195.93L599.12,196.02L601.07,196.1L603.03,196.17L604.98,196.23L606.94,196.28L608.89,196.32" fill="none" stroke="#61D04F" stroke-width="1.5"/>
<rect x="438.48" y="195.85" width="26.7" height="1.3" fill="#2297E6"/>
<rect x="635.29" y="195.85" width="38.43" height="1.3" fill="#2297E6"/>
<path d="M464.2,196.32L466.15,196.29L468.11,196.26L470.07,196.23L472.02,196.19L473.98,196.15L475.93,196.11L477.89,196.05L479.84,195.99L481.8,195.93L483.75,195.85L485.71,195.77L487.66,195.67L489.62,195.56L491.57,195.45L493.53,195.31L495.48,195.16L497.44,195L499.4,194.82L501.35,194.61L503.31,194.39L505.26,194.14L507.22,193.87L509.17,193.57L511.13,193.25L513.08,192.9L515.04,192.52L516.99,192.11L518.95,191.68L520.9,191.22L522.86,190.73L524.81,190.22L526.77,189.69L528.73,189.14L530.68,188.58L532.64,188.02L534.59,187.46L536.55,186.91L538.5,186.38L540.46,185.87L542.41,185.4L544.37,184.97L546.32,184.6L548.28,184.29L550.23,184.04L552.19,183.86L554.14,183.76L556.1,183.73L558.06,183.78L560.01,183.91L561.97,184.11L563.92,184.38L565.88,184.72L567.83,185.11L569.79,185.54L571.74,186.02L573.7,186.54L575.65,187.08L577.61,187.63L579.56,188.2L581.52,188.77L583.47,189.33L585.43,189.89L587.39,190.43L589.34,190.95L591.3,191.45L593.25,191.93L595.21,192.38L597.16,192.8L599.12,193.2L601.07,193.56L603.03,193.9L604.98,194.2L606.94,194.48L608.89,194.74L610.85,194.97L612.8,195.17L614.76,195.35L616.72,195.51L618.67,195.65L620.63,195.78L622.58,195.89L624.54,195.98L626.49,196.06L628.45,196.13L630.4,196.19L632.36,196.25L634.31,196.29L636.27,196.33" fill="none" stroke="#2297E6" stroke-width="1.5"/>
<rect x="438.48" y="195.85" width="59.94" height="1.3" fill="#28E2E5"/>
<rect x="668.53" y="195.85" width="5.19" height="1.3" fill="#28E2E5"/>
<path d="M497.44,196.33L499.4,196.3L501.35,196.26L503.31,196.21L505.26,196.15L507.22,196.09L509.17,196.01L511.13,195.91L513.08,195.81L515.04,195.68L516.99,195.53L518.95,195.37L520.9,195.17L522.86,194.95L524.81,194.69L526.77,194.41L528.73,194.08L530.68,193.72L532.64,193.32L534.59,192.87L536.55,192.39L538.5,191.86L540.46,191.29L542.41,190.69L544.37,190.05L546.32,189.38L548.28,188.69L550.23,187.98L552.19,187.26L554.14,186.54L556.1,185.83L558.06,185.15L560.01,184.49L561.97,183.86L563.92,183.29L565.88,182.76L567.83,182.3L569.79,181.91L571.74,181.58L573.7,181.34L575.65,181.17L577.61,181.08L579.56,181.07L581.52,181.13L583.47,181.27L585.43,181.48L587.39,181.76L589.34,182.1L591.3,182.5L593.25,182.95L595.21,183.44L597.16,183.98L599.12,184.54L601.07,185.12L603.03,185.73L604.98,186.35L606.94,186.97L608.89,187.59L610.85,188.21L612.8,188.82L614.76,189.41L616.72,189.98L618.67,190.53L620.63,191.06L622.58,191.56L624.54,192.04L626.49,192.48L628.45,192.9L630.4,193.28L632.36,193.64L634.31,193.96L636.27,194.26L638.22,194.53L640.18,194.77L642.13,194.99L644.09,195.18L646.05,195.36L648,195.51L649.96,195.65L651.91,195.77L653.87,195.87L655.82,195.96L657.78,196.04L659.73,196.11L661.69,196.17L663.64,196.22L665.6,196.26L667.55,196.3L669.51,196.33" fill="none" stroke="#28E2E5" stroke-width="1.5"/>
<rect x="438.48" y="195.85" width="87.31" height="1.3" fill="#CD0BBC"/>
<path d="M524.81,196.3L526.77,196.26L528.73,196.2L530.68,196.13L532.64,196.05L534.59,195.95L536.55,195.83L538.5,195.69L540.46,195.53L542.41,195.35L544.37,195.13L546.32,194.88L548.28,194.6L550.23,194.29L552.19,193.94L554.14,193.55L556.1,193.12L558.06,192.66L560.01,192.15L561.97,191.61L563.92,191.04L565.88,190.43L567.83,189.79L569.79,189.13L571.74,188.45L573.7,187.75L575.65,187.04L577.61,186.33L579.56,185.62L581.52,184.92L583.47,184.24L585.43,183.58L587.39,182.94L589.34,182.34L591.3,181.78L593.25,181.27L595.21,180.82L597.16,180.42L599.12,180.08L601.07,179.81L603.03,179.61L604.98,179.48L606.94,179.42L608.89,179.44L610.85,179.52L612.8,179.68L614.76,179.91L616.72,180.2L618.67,180.55L620.63,180.96L622.58,181.43L624.54,181.93L626.49,182.48L628.45,183.06L630.4,183.66L632.36,184.29L634.31,184.93L636.27,185.58L638.22,186.22L640.18,186.87L642.13,187.5L644.09,188.12L646.05,188.73L648,189.31L649.96,189.87L651.91,190.4L653.87,190.9L655.82,191.38L657.78,191.83L659.73,192.25L661.69,192.64L663.64,193L665.6,193.34L667.55,193.65L669.51,193.93L671.46,194.19L673.42,194.43" fill="none" stroke="#CD0BBC" stroke-width="1.5"/>
<rect x="438.48" y="195.85" width="112.73" height="1.3" fill="#F5C710"/>
<path d="M550.23,196.34L552.19,196.3L554.14,196.25L556.1,196.2L558.06,196.13L560.01,196.05L561.97,195.96L563.92,195.86L565.88,195.74L567.83,195.6L569.79,195.44L571.74,195.27L573.7,195.07L575.65,194.85L577.61,194.6L579.56,194.33L581.52,194.03L583.47,193.7L585.43,193.34L587.39,192.96L589.34,192.55L591.3,192.11L593.25,191.65L595.21,191.16L597.16,190.64L599.12,190.11L601.07,189.55L603.03,188.99L604.98,188.41L606.94,187.82L608.89,187.23L610.85,186.64L612.8,186.06L614.76,185.49L616.72,184.94L618.67,184.41L620.63,183.91L622.58,183.44L624.54,183.01L626.49,182.62L628.45,182.28L630.4,181.98L632.36,181.74L634.31,181.54L636.27,181.41L638.22,181.32L640.18,181.29L642.13,181.32L644.09,181.39L646.05,181.51L648,181.67L649.96,181.88L651.91,182.13L653.87,182.41L655.82,182.73L657.78,183.07L659.73,183.43L661.69,183.82L663.64,184.22L665.6,184.63L667.55,185.05L669.51,185.47L671.46,185.9L673.42,186.33" fill="none" stroke="#F5C710" stroke-width="1.5"/>
<rect x="438.48" y="195.85" width="140.11" height="1.3" fill="#948C86"/>
<path d="M577.61,196.3L579.56,196.26L581.52,196.21L583.47,196.15L585.43,196.07L587.39,195.99L589.34,195.89L591.3,195.77L593.25,195.64L595.21,195.49L597.16,195.32L599.12,195.12L601.07,194.9L603.03,194.65L604.98,194.37L606.94,194.05L608.89,193.71L610.85,193.33L612.8,192.91L614.76,192.45L616.72,191.95L618.67,191.42L620.63,190.84L622.58,190.23L624.54,189.57L626.49,188.88L628.45,188.16L630.4,187.39L632.36,186.6L634.31,185.78L636.27,184.94L638.22,184.07L640.18,183.19L642.13,182.29L644.09,181.39L646.05,180.47L648,179.56L649.96,178.65L651.91,177.74L653.87,176.84L655.82,175.95L657.78,175.08L659.73,174.22L661.69,173.39L663.64,172.57L665.6,171.78L667.55,171.01L669.51,170.27L671.46,169.55L673.42,168.86" fill="none" stroke="#9E9E9E" stroke-width="1.5"/>
<line x1="541.73" y1="185.34" x2="541.73" y2="196.5" stroke="#DF536B" stroke-width="1.15" stroke-dasharray="4.2,1.3"/>
<line x1="542.31" y1="185.42" x2="542.31" y2="196.5" stroke="#61D04F" stroke-width="1.15" stroke-dasharray="4.2,1.3"/>
<line x1="561.38" y1="184.04" x2="561.38" y2="196.5" stroke="#2297E6" stroke-width="1.15" stroke-dasharray="4.2,1.3"/>
<line x1="589.83" y1="182.2" x2="589.83" y2="196.5" stroke="#28E2E5" stroke-width="1.15" stroke-dasharray="4.2,1.3"/>
<line x1="626.79" y1="182.56" x2="626.79" y2="196.5" stroke="#CD0BBC" stroke-width="1.15" stroke-dasharray="4.2,1.3"/>
<line x1="644.09" y1="181.39" x2="644.09" y2="196.5" stroke="#F5C710" stroke-width="1.15" stroke-dasharray="4.2,1.3"/>
<circle cx="541.73" cy="196.5" r="1.9" fill="#DF536B"/>
<circle cx="542.31" cy="196.5" r="1.9" fill="#61D04F"/>
<circle cx="561.38" cy="196.5" r="1.9" fill="#2297E6"/>
<circle cx="589.83" cy="196.5" r="1.9" fill="#28E2E5"/>
<circle cx="626.79" cy="196.5" r="1.9" fill="#CD0BBC"/>
<circle cx="644.09" cy="196.5" r="1.9" fill="#F5C710"/>
<line x1="416.25" y1="196.5" x2="418.25" y2="196.5" stroke="#222" stroke-width="1"/>
<text transform="translate(422.55,198.2) scale(0.84,1)" style="font-family:'Liberation Sans',sans-serif;font-size:4.6px" fill="#555555">0.00</text>
<line x1="416.25" y1="188.5" x2="418.25" y2="188.5" stroke="#222" stroke-width="1"/>
<text transform="translate(422.55,190.2) scale(0.84,1)" style="font-family:'Liberation Sans',sans-serif;font-size:4.6px" fill="#555555">0.20</text>
<line x1="416.25" y1="180.5" x2="418.25" y2="180.5" stroke="#222" stroke-width="1"/>
<text transform="translate(422.55,182.2) scale(0.84,1)" style="font-family:'Liberation Sans',sans-serif;font-size:4.6px" fill="#555555">0.40</text>
<line x1="416.25" y1="172.5" x2="418.25" y2="172.5" stroke="#222" stroke-width="1"/>
<text transform="translate(422.55,174.2) scale(0.84,1)" style="font-family:'Liberation Sans',sans-serif;font-size:4.6px" fill="#555555">0.60</text>
<line x1="416.25" y1="164.5" x2="418.25" y2="164.5" stroke="#222" stroke-width="1"/>
<text transform="translate(422.55,166.2) scale(0.84,1)" style="font-family:'Liberation Sans',sans-serif;font-size:4.6px" fill="#555555">0.80</text>
<line x1="416.25" y1="156.5" x2="418.25" y2="156.5" stroke="#222" stroke-width="1"/>
<text transform="translate(422.55,158.2) scale(0.84,1)" style="font-family:'Liberation Sans',sans-serif;font-size:4.6px" fill="#555555">1.00</text>
<line x1="410.25" y1="174.5" x2="416.25" y2="174.5" stroke="#333" stroke-width="1"/>
<text x="404.75" y="176.9" text-anchor="end" textLength="36.08" lengthAdjust="spacingAndGlyphs" style="font-family:'Liberation Sans',sans-serif;font-size:6.8px" fill="#333">N1_Blunt_Aff</text>
<rect x="439.28" y="201.1" width="233.64" height="39.4" fill="#E5E5E5"/>
<rect x="467.61" y="201.1" width="1" height="39.4" fill="#FAFAFA"/>
<rect x="496.94" y="201.1" width="1" height="39.4" fill="#FAFAFA"/>
<rect x="526.27" y="201.1" width="1" height="39.4" fill="#FAFAFA"/>
<rect x="555.6" y="201.1" width="1" height="39.4" fill="#FAFAFA"/>
<rect x="584.93" y="201.1" width="1" height="39.4" fill="#FAFAFA"/>
<rect x="614.26" y="201.1" width="1" height="39.4" fill="#FAFAFA"/>
<rect x="643.59" y="201.1" width="1" height="39.4" fill="#FAFAFA"/>
<rect x="439.28" y="232" width="233.64" height="1" fill="#FAFAFA"/>
<rect x="439.28" y="224" width="233.64" height="1" fill="#FAFAFA"/>
<rect x="439.28" y="216" width="233.64" height="1" fill="#FAFAFA"/>
<rect x="439.28" y="208" width="233.64" height="1" fill="#FAFAFA"/>
<rect x="673.42" y="240" width="10.88" height="1" fill="#A8A8A8"/>
<rect x="598.14" y="239.85" width="75.58" height="1.3" fill="#DF536B"/>
<path d="M438.78,201.43L440.74,201.49L442.69,201.56L444.65,201.63L446.6,201.71L448.56,201.79L450.51,201.88L452.47,201.98L454.42,202.08L456.38,202.19L458.33,202.31L460.29,202.44L462.24,202.57L464.2,202.71L466.15,202.87L468.11,203.03L470.07,203.21L472.02,203.4L473.98,203.6L475.93,203.81L477.89,204.04L479.84,204.29L481.8,204.55L483.75,204.83L485.71,205.13L487.66,205.45L489.62,205.79L491.57,206.16L493.53,206.55L495.48,206.96L497.44,207.4L499.4,207.88L501.35,208.38L503.31,208.91L505.26,209.48L507.22,210.08L509.17,210.72L511.13,211.39L513.08,212.1L515.04,212.85L516.99,213.64L518.95,214.47L520.9,215.33L522.86,216.23L524.81,217.17L526.77,218.15L528.73,219.15L530.68,220.18L532.64,221.23L534.59,222.3L536.55,223.39L538.5,224.48L540.46,225.57L542.41,226.65L544.37,227.72L546.32,228.76L548.28,229.78L550.23,230.76L552.19,231.7L554.14,232.59L556.1,233.43L558.06,234.21L560.01,234.94L561.97,235.61L563.92,236.22L565.88,236.78L567.83,237.28L569.79,237.73L571.74,238.12L573.7,238.47L575.65,238.78L577.61,239.04L579.56,239.27L581.52,239.47L583.47,239.64L585.43,239.79L587.39,239.91L589.34,240.01L591.3,240.1L593.25,240.17L595.21,240.23L597.16,240.28L599.12,240.32" fill="none" stroke="#DF536B" stroke-width="1.5"/>
<rect x="617.69" y="239.85" width="56.03" height="1.3" fill="#61D04F"/>
<path d="M438.78,239.6L440.74,239.54L442.69,239.47L444.65,239.41L446.6,239.33L448.56,239.25L450.51,239.17L452.47,239.08L454.42,238.99L456.38,238.89L458.33,238.79L460.29,238.67L462.24,238.55L464.2,238.43L466.15,238.29L468.11,238.15L470.07,238L472.02,237.84L473.98,237.68L475.93,237.5L477.89,237.31L479.84,237.11L481.8,236.91L483.75,236.69L485.71,236.46L487.66,236.22L489.62,235.97L491.57,235.71L493.53,235.44L495.48,235.16L497.44,234.86L499.4,234.56L501.35,234.25L503.31,233.93L505.26,233.6L507.22,233.27L509.17,232.93L511.13,232.59L513.08,232.25L515.04,231.92L516.99,231.59L518.95,231.27L520.9,230.96L522.86,230.67L524.81,230.4L526.77,230.15L528.73,229.93L530.68,229.75L532.64,229.6L534.59,229.5L536.55,229.44L538.5,229.43L540.46,229.48L542.41,229.57L544.37,229.72L546.32,229.92L548.28,230.17L550.23,230.46L552.19,230.8L554.14,231.18L556.1,231.6L558.06,232.04L560.01,232.51L561.97,232.99L563.92,233.47L565.88,233.96L567.83,234.45L569.79,234.93L571.74,235.4L573.7,235.85L575.65,236.28L577.61,236.68L579.56,237.07L581.52,237.42L583.47,237.75L585.43,238.06L587.39,238.34L589.34,238.59L591.3,238.83L593.25,239.03L595.21,239.22L597.16,239.39L599.12,239.54L601.07,239.67L603.03,239.78L604.98,239.88L606.94,239.97L608.89,240.05L610.85,240.12L612.8,240.17L614.76,240.22L616.72,240.27L618.67,240.3" fill="none" stroke="#61D04F" stroke-width="1.5"/>
<rect x="438.48" y="239.85" width="30.61" height="1.3" fill="#2297E6"/>
<rect x="656.8" y="239.85" width="16.92" height="1.3" fill="#2297E6"/>
<path d="M468.11,240.32L470.07,240.3L472.02,240.27L473.98,240.24L475.93,240.2L477.89,240.16L479.84,240.12L481.8,240.07L483.75,240.01L485.71,239.94L487.66,239.87L489.62,239.79L491.57,239.69L493.53,239.59L495.48,239.47L497.44,239.34L499.4,239.19L501.35,239.03L503.31,238.85L505.26,238.64L507.22,238.42L509.17,238.17L511.13,237.9L513.08,237.6L515.04,237.28L516.99,236.92L518.95,236.54L520.9,236.13L522.86,235.68L524.81,235.21L526.77,234.7L528.73,234.18L530.68,233.62L532.64,233.05L534.59,232.46L536.55,231.86L538.5,231.26L540.46,230.66L542.41,230.07L544.37,229.5L546.32,228.96L548.28,228.45L550.23,227.99L552.19,227.59L554.14,227.24L556.1,226.95L558.06,226.74L560.01,226.6L561.97,226.53L563.92,226.54L565.88,226.62L567.83,226.77L569.79,226.98L571.74,227.26L573.7,227.59L575.65,227.98L577.61,228.4L579.56,228.87L581.52,229.36L583.47,229.87L585.43,230.4L587.39,230.95L589.34,231.49L591.3,232.04L593.25,232.58L595.21,233.11L597.16,233.63L599.12,234.14L601.07,234.62L603.03,235.09L604.98,235.53L606.94,235.95L608.89,236.35L610.85,236.72L612.8,237.07L614.76,237.4L616.72,237.7L618.67,237.98L620.63,238.24L622.58,238.48L624.54,238.69L626.49,238.89L628.45,239.07L630.4,239.23L632.36,239.38L634.31,239.51L636.27,239.63L638.22,239.74L640.18,239.83L642.13,239.92L644.09,239.99L646.05,240.06L648,240.11L649.96,240.17L651.91,240.21L653.87,240.25L655.82,240.29L657.78,240.32" fill="none" stroke="#2297E6" stroke-width="1.5"/>
<rect x="438.48" y="239.85" width="65.8" height="1.3" fill="#28E2E5"/>
<path d="M503.31,240.32L505.26,240.28L507.22,240.24L509.17,240.19L511.13,240.13L513.08,240.06L515.04,239.97L516.99,239.87L518.95,239.76L520.9,239.63L522.86,239.47L524.81,239.29L526.77,239.09L528.73,238.85L530.68,238.58L532.64,238.28L534.59,237.94L536.55,237.56L538.5,237.13L540.46,236.67L542.41,236.16L544.37,235.61L546.32,235.01L548.28,234.38L550.23,233.7L552.19,233L554.14,232.27L556.1,231.51L558.06,230.74L560.01,229.96L561.97,229.18L563.92,228.4L565.88,227.64L567.83,226.9L569.79,226.2L571.74,225.52L573.7,224.89L575.65,224.31L577.61,223.79L579.56,223.32L581.52,222.91L583.47,222.57L585.43,222.29L587.39,222.08L589.34,221.93L591.3,221.86L593.25,221.85L595.21,221.9L597.16,222.01L599.12,222.19L601.07,222.42L603.03,222.71L604.98,223.04L606.94,223.42L608.89,223.84L610.85,224.29L612.8,224.78L614.76,225.3L616.72,225.84L618.67,226.4L620.63,226.97L622.58,227.55L624.54,228.14L626.49,228.73L628.45,229.32L630.4,229.91L632.36,230.49L634.31,231.06L636.27,231.62L638.22,232.17L640.18,232.7L642.13,233.21L644.09,233.7L646.05,234.18L648,234.63L649.96,235.06L651.91,235.47L653.87,235.86L655.82,236.23L657.78,236.57L659.73,236.9L661.69,237.2L663.64,237.49L665.6,237.75L667.55,237.99L669.51,238.22L671.46,238.43L673.42,238.63" fill="none" stroke="#28E2E5" stroke-width="1.5"/>
<rect x="438.48" y="239.85" width="97.09" height="1.3" fill="#CD0BBC"/>
<path d="M534.59,240.3L536.55,240.26L538.5,240.2L540.46,240.14L542.41,240.06L544.37,239.97L546.32,239.86L548.28,239.74L550.23,239.6L552.19,239.44L554.14,239.25L556.1,239.04L558.06,238.81L560.01,238.55L561.97,238.26L563.92,237.94L565.88,237.59L567.83,237.21L569.79,236.8L571.74,236.36L573.7,235.89L575.65,235.39L577.61,234.86L579.56,234.3L581.52,233.72L583.47,233.11L585.43,232.48L587.39,231.83L589.34,231.16L591.3,230.47L593.25,229.77L595.21,229.07L597.16,228.35L599.12,227.64L601.07,226.93L603.03,226.22L604.98,225.52L606.94,224.84L608.89,224.17L610.85,223.52L612.8,222.9L614.76,222.3L616.72,221.74L618.67,221.21L620.63,220.71L622.58,220.26L624.54,219.85L626.49,219.48L628.45,219.16L630.4,218.89L632.36,218.67L634.31,218.5L636.27,218.37L638.22,218.3L640.18,218.28L642.13,218.3L644.09,218.38L646.05,218.5L648,218.67L649.96,218.88L651.91,219.13L653.87,219.43L655.82,219.76L657.78,220.12L659.73,220.52L661.69,220.94L663.64,221.39L665.6,221.86L667.55,222.36L669.51,222.87L671.46,223.39L673.42,223.92" fill="none" stroke="#CD0BBC" stroke-width="1.5"/>
<rect x="438.48" y="239.85" width="136.2" height="1.3" fill="#F5C710"/>
<path d="M573.7,240.3L575.65,240.26L577.61,240.22L579.56,240.17L581.52,240.12L583.47,240.05L585.43,239.98L587.39,239.9L589.34,239.81L591.3,239.71L593.25,239.6L595.21,239.47L597.16,239.33L599.12,239.18L601.07,239.01L603.03,238.82L604.98,238.62L606.94,238.39L608.89,238.15L610.85,237.89L612.8,237.61L614.76,237.31L616.72,236.98L618.67,236.63L620.63,236.26L622.58,235.86L624.54,235.44L626.49,235L628.45,234.53L630.4,234.03L632.36,233.52L634.31,232.98L636.27,232.41L638.22,231.83L640.18,231.22L642.13,230.59L644.09,229.95L646.05,229.28L648,228.6L649.96,227.9L651.91,227.19L653.87,226.47L655.82,225.74L657.78,224.99L659.73,224.25L661.69,223.5L663.64,222.74L665.6,221.99L667.55,221.23L669.51,220.48L671.46,219.74L673.42,219" fill="none" stroke="#F5C710" stroke-width="1.5"/>
<line x1="549.35" y1="230.32" x2="549.35" y2="240.5" stroke="#DF536B" stroke-width="1.15" stroke-dasharray="4.2,1.3"/>
<line x1="543.78" y1="229.67" x2="543.78" y2="240.5" stroke="#61D04F" stroke-width="1.15" stroke-dasharray="4.2,1.3"/>
<line x1="568.13" y1="226.8" x2="568.13" y2="240.5" stroke="#2297E6" stroke-width="1.15" stroke-dasharray="4.2,1.3"/>
<line x1="609.48" y1="223.97" x2="609.48" y2="240.5" stroke="#28E2E5" stroke-width="1.15" stroke-dasharray="4.2,1.3"/>
<line x1="665.79" y1="221.91" x2="665.79" y2="240.5" stroke="#CD0BBC" stroke-width="1.15" stroke-dasharray="4.2,1.3"/>
<circle cx="549.35" cy="240.5" r="1.9" fill="#DF536B"/>
<circle cx="543.78" cy="240.5" r="1.9" fill="#61D04F"/>
<circle cx="568.13" cy="240.5" r="1.9" fill="#2297E6"/>
<circle cx="609.48" cy="240.5" r="1.9" fill="#28E2E5"/>
<circle cx="665.79" cy="240.5" r="1.9" fill="#CD0BBC"/>
<line x1="416.25" y1="240.5" x2="418.25" y2="240.5" stroke="#222" stroke-width="1"/>
<text transform="translate(422.55,242.2) scale(0.84,1)" style="font-family:'Liberation Sans',sans-serif;font-size:4.6px" fill="#555555">0.00</text>
<line x1="416.25" y1="232.5" x2="418.25" y2="232.5" stroke="#222" stroke-width="1"/>
<text transform="translate(422.55,234.2) scale(0.84,1)" style="font-family:'Liberation Sans',sans-serif;font-size:4.6px" fill="#555555">0.20</text>
<line x1="416.25" y1="224.5" x2="418.25" y2="224.5" stroke="#222" stroke-width="1"/>
<text transform="translate(422.55,226.2) scale(0.84,1)" style="font-family:'Liberation Sans',sans-serif;font-size:4.6px" fill="#555555">0.40</text>
<line x1="416.25" y1="216.5" x2="418.25" y2="216.5" stroke="#222" stroke-width="1"/>
<text transform="translate(422.55,218.2) scale(0.84,1)" style="font-family:'Liberation Sans',sans-serif;font-size:4.6px" fill="#555555">0.60</text>
<line x1="416.25" y1="208.5" x2="418.25" y2="208.5" stroke="#222" stroke-width="1"/>
<text transform="translate(422.55,210.2) scale(0.84,1)" style="font-family:'Liberation Sans',sans-serif;font-size:4.6px" fill="#555555">0.80</text>
<line x1="416.25" y1="200.5" x2="418.25" y2="200.5" stroke="#222" stroke-width="1"/>
<text transform="translate(422.55,202.2) scale(0.84,1)" style="font-family:'Liberation Sans',sans-serif;font-size:4.6px" fill="#555555">1.00</text>
<line x1="410.25" y1="218.5" x2="416.25" y2="218.5" stroke="#333" stroke-width="1"/>
<text x="404.75" y="220.9" text-anchor="end" textLength="33.11" lengthAdjust="spacingAndGlyphs" style="font-family:'Liberation Sans',sans-serif;font-size:6.8px" fill="#333">N2_Emo_W</text>
<rect x="439.28" y="246.1" width="233.64" height="39.4" fill="#E5E5E5"/>
<rect x="467.61" y="246.1" width="1" height="39.4" fill="#FAFAFA"/>
<rect x="496.94" y="246.1" width="1" height="39.4" fill="#FAFAFA"/>
<rect x="526.27" y="246.1" width="1" height="39.4" fill="#FAFAFA"/>
<rect x="555.6" y="246.1" width="1" height="39.4" fill="#FAFAFA"/>
<rect x="584.93" y="246.1" width="1" height="39.4" fill="#FAFAFA"/>
<rect x="614.26" y="246.1" width="1" height="39.4" fill="#FAFAFA"/>
<rect x="643.59" y="246.1" width="1" height="39.4" fill="#FAFAFA"/>
<rect x="439.28" y="277" width="233.64" height="1" fill="#FAFAFA"/>
<rect x="439.28" y="269" width="233.64" height="1" fill="#FAFAFA"/>
<rect x="439.28" y="261" width="233.64" height="1" fill="#FAFAFA"/>
<rect x="439.28" y="253" width="233.64" height="1" fill="#FAFAFA"/>
<rect x="673.42" y="285" width="10.88" height="1" fill="#A8A8A8"/>
<rect x="609.87" y="284.85" width="63.85" height="1.3" fill="#DF536B"/>
<path d="M438.78,246.32L440.74,246.37L442.69,246.43L444.65,246.5L446.6,246.56L448.56,246.64L450.51,246.71L452.47,246.8L454.42,246.89L456.38,246.98L458.33,247.08L460.29,247.19L462.24,247.31L464.2,247.43L466.15,247.56L468.11,247.7L470.07,247.85L472.02,248.01L473.98,248.18L475.93,248.37L477.89,248.56L479.84,248.77L481.8,248.99L483.75,249.22L485.71,249.48L487.66,249.74L489.62,250.03L491.57,250.33L493.53,250.65L495.48,250.99L497.44,251.35L499.4,251.74L501.35,252.14L503.31,252.57L505.26,253.03L507.22,253.51L509.17,254.02L511.13,254.56L513.08,255.13L515.04,255.72L516.99,256.35L518.95,257L520.9,257.69L522.86,258.4L524.81,259.15L526.77,259.92L528.73,260.73L530.68,261.56L532.64,262.41L534.59,263.29L536.55,264.19L538.5,265.1L540.46,266.03L542.41,266.97L544.37,267.92L546.32,268.87L548.28,269.83L550.23,270.77L552.19,271.71L554.14,272.63L556.1,273.54L558.06,274.42L560.01,275.28L561.97,276.11L563.92,276.91L565.88,277.67L567.83,278.4L569.79,279.08L571.74,279.73L573.7,280.34L575.65,280.9L577.61,281.43L579.56,281.91L581.52,282.36L583.47,282.76L585.43,283.13L587.39,283.46L589.34,283.76L591.3,284.02L593.25,284.25L595.21,284.46L597.16,284.63L599.12,284.79L601.07,284.92L603.03,285.03L604.98,285.12L606.94,285.2L608.89,285.26L610.85,285.31" fill="none" stroke="#DF536B" stroke-width="1.5"/>
<rect x="629.42" y="284.85" width="44.29" height="1.3" fill="#61D04F"/>
<path d="M438.78,284.7L440.74,284.64L442.69,284.59L444.65,284.53L446.6,284.46L448.56,284.39L450.51,284.32L452.47,284.24L454.42,284.15L456.38,284.07L458.33,283.97L460.29,283.87L462.24,283.76L464.2,283.65L466.15,283.53L468.11,283.4L470.07,283.26L472.02,283.12L473.98,282.97L475.93,282.81L477.89,282.63L479.84,282.45L481.8,282.26L483.75,282.06L485.71,281.85L487.66,281.63L489.62,281.4L491.57,281.15L493.53,280.89L495.48,280.62L497.44,280.34L499.4,280.05L501.35,279.74L503.31,279.42L505.26,279.1L507.22,278.76L509.17,278.41L511.13,278.05L513.08,277.68L515.04,277.3L516.99,276.92L518.95,276.54L520.9,276.15L522.86,275.76L524.81,275.38L526.77,275L528.73,274.63L530.68,274.26L532.64,273.92L534.59,273.59L536.55,273.28L538.5,273L540.46,272.75L542.41,272.53L544.37,272.35L546.32,272.2L548.28,272.1L550.23,272.04L552.19,272.03L554.14,272.07L556.1,272.15L558.06,272.28L560.01,272.47L561.97,272.7L563.92,272.98L565.88,273.3L567.83,273.67L569.79,274.08L571.74,274.52L573.7,275L575.65,275.51L577.61,276.04L579.56,276.59L581.52,277.15L583.47,277.72L585.43,278.3L587.39,278.88L589.34,279.45L591.3,280.01L593.25,280.56L595.21,281.08L597.16,281.58L599.12,282.05L601.07,282.48L603.03,282.88L604.98,283.25L606.94,283.58L608.89,283.87L610.85,284.13L612.8,284.35L614.76,284.55L616.72,284.72L618.67,284.86L620.63,284.97L622.58,285.07L624.54,285.16L626.49,285.22L628.45,285.28L630.4,285.32" fill="none" stroke="#61D04F" stroke-width="1.5"/>
<rect x="438.48" y="284.85" width="40.38" height="1.3" fill="#2297E6"/>
<rect x="656.8" y="284.85" width="16.92" height="1.3" fill="#2297E6"/>
<path d="M477.89,285.3L479.84,285.28L481.8,285.25L483.75,285.21L485.71,285.18L487.66,285.13L489.62,285.08L491.57,285.03L493.53,284.97L495.48,284.89L497.44,284.82L499.4,284.73L501.35,284.63L503.31,284.52L505.26,284.39L507.22,284.25L509.17,284.1L511.13,283.92L513.08,283.73L515.04,283.52L516.99,283.28L518.95,283.02L520.9,282.74L522.86,282.43L524.81,282.09L526.77,281.71L528.73,281.31L530.68,280.87L532.64,280.4L534.59,279.89L536.55,279.35L538.5,278.78L540.46,278.17L542.41,277.53L544.37,276.86L546.32,276.16L548.28,275.44L550.23,274.7L552.19,273.94L554.14,273.18L556.1,272.41L558.06,271.65L560.01,270.9L561.97,270.18L563.92,269.48L565.88,268.82L567.83,268.2L569.79,267.65L571.74,267.16L573.7,266.75L575.65,266.42L577.61,266.18L579.56,266.05L581.52,266.03L583.47,266.12L585.43,266.32L587.39,266.65L589.34,267.09L591.3,267.65L593.25,268.31L595.21,269.07L597.16,269.91L599.12,270.82L601.07,271.79L603.03,272.79L604.98,273.81L606.94,274.83L608.89,275.84L610.85,276.81L612.8,277.74L614.76,278.61L616.72,279.42L618.67,280.17L620.63,280.85L622.58,281.47L624.54,282.02L626.49,282.51L628.45,282.94L630.4,283.31L632.36,283.64L634.31,283.92L636.27,284.17L638.22,284.37L640.18,284.55L642.13,284.7L644.09,284.83L646.05,284.94L648,285.03L649.96,285.11L651.91,285.18L653.87,285.23L655.82,285.28L657.78,285.31" fill="none" stroke="#2297E6" stroke-width="1.5"/>
<rect x="438.48" y="284.85" width="95.13" height="1.3" fill="#28E2E5"/>
<rect x="672.44" y="284.85" width="1.28" height="1.3" fill="#28E2E5"/>
<path d="M532.64,285.31L534.59,285.28L536.55,285.24L538.5,285.19L540.46,285.14L542.41,285.09L544.37,285.02L546.32,284.95L548.28,284.86L550.23,284.77L552.19,284.66L554.14,284.54L556.1,284.42L558.06,284.27L560.01,284.12L561.97,283.95L563.92,283.77L565.88,283.57L567.83,283.36L569.79,283.14L571.74,282.91L573.7,282.67L575.65,282.42L577.61,282.17L579.56,281.91L581.52,281.66L583.47,281.41L585.43,281.18L587.39,280.96L589.34,280.76L591.3,280.59L593.25,280.44L595.21,280.33L597.16,280.26L599.12,280.23L601.07,280.23L603.03,280.28L604.98,280.37L606.94,280.49L608.89,280.65L610.85,280.84L612.8,281.05L614.76,281.28L616.72,281.52L618.67,281.77L620.63,282.02L622.58,282.28L624.54,282.52L626.49,282.76L628.45,283L630.4,283.22L632.36,283.42L634.31,283.62L636.27,283.8L638.22,283.97L640.18,284.12L642.13,284.26L644.09,284.39L646.05,284.51L648,284.61L649.96,284.71L651.91,284.8L653.87,284.87L655.82,284.94L657.78,285.01L659.73,285.06L661.69,285.11L663.64,285.16L665.6,285.2L667.55,285.23L669.51,285.26L671.46,285.29L673.42,285.32" fill="none" stroke="#28E2E5" stroke-width="1.5"/>
<rect x="438.48" y="284.85" width="108.82" height="1.3" fill="#CD0BBC"/>
<path d="M546.32,285.34L548.28,285.3L550.23,285.25L552.19,285.2L554.14,285.13L556.1,285.05L558.06,284.96L560.01,284.84L561.97,284.71L563.92,284.56L565.88,284.38L567.83,284.18L569.79,283.94L571.74,283.67L573.7,283.36L575.65,283.01L577.61,282.62L579.56,282.19L581.52,281.71L583.47,281.19L585.43,280.63L587.39,280.03L589.34,279.39L591.3,278.73L593.25,278.05L595.21,277.37L597.16,276.68L599.12,276.02L601.07,275.38L603.03,274.78L604.98,274.23L606.94,273.75L608.89,273.34L610.85,273L612.8,272.74L614.76,272.56L616.72,272.46L618.67,272.44L620.63,272.49L622.58,272.6L624.54,272.77L626.49,272.99L628.45,273.26L630.4,273.56L632.36,273.9L634.31,274.26L636.27,274.64L638.22,275.03L640.18,275.43L642.13,275.84L644.09,276.25L646.05,276.65L648,277.05L649.96,277.45L651.91,277.83L653.87,278.21L655.82,278.58L657.78,278.93L659.73,279.28L661.69,279.61L663.64,279.92L665.6,280.23L667.55,280.52L669.51,280.8L671.46,281.06L673.42,281.31" fill="none" stroke="#CD0BBC" stroke-width="1.5"/>
<rect x="438.48" y="284.85" width="126.42" height="1.3" fill="#F5C710"/>
<path d="M563.92,285.31L565.88,285.26L567.83,285.19L569.79,285.11L571.74,285.01L573.7,284.89L575.65,284.75L577.61,284.57L579.56,284.35L581.52,284.1L583.47,283.79L585.43,283.44L587.39,283.02L589.34,282.55L591.3,282L593.25,281.39L595.21,280.7L597.16,279.93L599.12,279.1L601.07,278.2L603.03,277.23L604.98,276.21L606.94,275.15L608.89,274.05L610.85,272.92L612.8,271.77L614.76,270.62L616.72,269.47L618.67,268.33L620.63,267.22L622.58,266.12L624.54,265.06L626.49,264.04L628.45,263.05L630.4,262.1L632.36,261.19L634.31,260.32L636.27,259.49L638.22,258.7L640.18,257.95L642.13,257.24L644.09,256.57L646.05,255.93L648,255.32L649.96,254.75L651.91,254.21L653.87,253.7L655.82,253.21L657.78,252.75L659.73,252.32L661.69,251.91L663.64,251.53L665.6,251.17L667.55,250.83L669.51,250.5L671.46,250.2L673.42,249.91" fill="none" stroke="#F5C710" stroke-width="1.5"/>
<line x1="552.87" y1="272.04" x2="552.87" y2="285.5" stroke="#DF536B" stroke-width="1.15" stroke-dasharray="4.2,1.3"/>
<line x1="556.69" y1="272.19" x2="556.69" y2="285.5" stroke="#61D04F" stroke-width="1.15" stroke-dasharray="4.2,1.3"/>
<line x1="629.13" y1="283.07" x2="629.13" y2="285.5" stroke="#2297E6" stroke-width="1.15" stroke-dasharray="4.2,1.3"/>
<line x1="581.91" y1="281.61" x2="581.91" y2="285.5" stroke="#28E2E5" stroke-width="1.15" stroke-dasharray="4.2,1.3"/>
<line x1="610.65" y1="273.03" x2="610.65" y2="285.5" stroke="#CD0BBC" stroke-width="1.15" stroke-dasharray="4.2,1.3"/>
<circle cx="552.87" cy="285.5" r="1.9" fill="#DF536B"/>
<circle cx="556.69" cy="285.5" r="1.9" fill="#61D04F"/>
<circle cx="629.13" cy="285.5" r="1.9" fill="#2297E6"/>
<circle cx="581.91" cy="285.5" r="1.9" fill="#28E2E5"/>
<circle cx="610.65" cy="285.5" r="1.9" fill="#CD0BBC"/>
<line x1="416.25" y1="285.5" x2="418.25" y2="285.5" stroke="#222" stroke-width="1"/>
<text transform="translate(422.55,287.2) scale(0.84,1)" style="font-family:'Liberation Sans',sans-serif;font-size:4.6px" fill="#555555">0.00</text>
<line x1="416.25" y1="277.5" x2="418.25" y2="277.5" stroke="#222" stroke-width="1"/>
<text transform="translate(422.55,279.2) scale(0.84,1)" style="font-family:'Liberation Sans',sans-serif;font-size:4.6px" fill="#555555">0.20</text>
<line x1="416.25" y1="269.5" x2="418.25" y2="269.5" stroke="#222" stroke-width="1"/>
<text transform="translate(422.55,271.2) scale(0.84,1)" style="font-family:'Liberation Sans',sans-serif;font-size:4.6px" fill="#555555">0.40</text>
<line x1="416.25" y1="261.5" x2="418.25" y2="261.5" stroke="#222" stroke-width="1"/>
<text transform="translate(422.55,263.2) scale(0.84,1)" style="font-family:'Liberation Sans',sans-serif;font-size:4.6px" fill="#555555">0.60</text>
<line x1="416.25" y1="253.5" x2="418.25" y2="253.5" stroke="#222" stroke-width="1"/>
<text transform="translate(422.55,255.2) scale(0.84,1)" style="font-family:'Liberation Sans',sans-serif;font-size:4.6px" fill="#555555">0.80</text>
<line x1="416.25" y1="245.5" x2="418.25" y2="245.5" stroke="#222" stroke-width="1"/>
<text transform="translate(422.55,247.2) scale(0.84,1)" style="font-family:'Liberation Sans',sans-serif;font-size:4.6px" fill="#555555">1.00</text>
<line x1="410.25" y1="263.5" x2="416.25" y2="263.5" stroke="#333" stroke-width="1"/>
<text x="404.75" y="265.9" text-anchor="end" textLength="38.92" lengthAdjust="spacingAndGlyphs" style="font-family:'Liberation Sans',sans-serif;font-size:6.8px" fill="#333">N3_Poor_Rap</text>
<rect x="439.28" y="290.1" width="233.64" height="39.4" fill="#E5E5E5"/>
<rect x="467.61" y="290.1" width="1" height="39.4" fill="#FAFAFA"/>
<rect x="496.94" y="290.1" width="1" height="39.4" fill="#FAFAFA"/>
<rect x="526.27" y="290.1" width="1" height="39.4" fill="#FAFAFA"/>
<rect x="555.6" y="290.1" width="1" height="39.4" fill="#FAFAFA"/>
<rect x="584.93" y="290.1" width="1" height="39.4" fill="#FAFAFA"/>
<rect x="614.26" y="290.1" width="1" height="39.4" fill="#FAFAFA"/>
<rect x="643.59" y="290.1" width="1" height="39.4" fill="#FAFAFA"/>
<rect x="439.28" y="321" width="233.64" height="1" fill="#FAFAFA"/>
<rect x="439.28" y="313" width="233.64" height="1" fill="#FAFAFA"/>
<rect x="439.28" y="305" width="233.64" height="1" fill="#FAFAFA"/>
<rect x="439.28" y="297" width="233.64" height="1" fill="#FAFAFA"/>
<rect x="673.42" y="329" width="10.88" height="1" fill="#A8A8A8"/>
<rect x="594.23" y="328.85" width="79.49" height="1.3" fill="#DF536B"/>
<path d="M438.78,290.51L440.74,290.58L442.69,290.65L444.65,290.73L446.6,290.82L448.56,290.91L450.51,291.01L452.47,291.12L454.42,291.24L456.38,291.36L458.33,291.49L460.29,291.63L462.24,291.78L464.2,291.95L466.15,292.12L468.11,292.31L470.07,292.51L472.02,292.72L473.98,292.95L475.93,293.2L477.89,293.46L479.84,293.75L481.8,294.05L483.75,294.38L485.71,294.73L487.66,295.1L489.62,295.5L491.57,295.93L493.53,296.39L495.48,296.88L497.44,297.4L499.4,297.95L501.35,298.54L503.31,299.17L505.26,299.83L507.22,300.54L509.17,301.28L511.13,302.06L513.08,302.89L515.04,303.75L516.99,304.65L518.95,305.59L520.9,306.56L522.86,307.56L524.81,308.58L526.77,309.63L528.73,310.7L530.68,311.78L532.64,312.87L534.59,313.95L536.55,315.03L538.5,316.09L540.46,317.13L542.41,318.14L544.37,319.12L546.32,320.06L548.28,320.96L550.23,321.8L552.19,322.6L554.14,323.34L556.1,324.03L558.06,324.67L560.01,325.25L561.97,325.78L563.92,326.25L565.88,326.68L567.83,327.07L569.79,327.41L571.74,327.71L573.7,327.97L575.65,328.2L577.61,328.4L579.56,328.58L581.52,328.73L583.47,328.86L585.43,328.97L587.39,329.06L589.34,329.14L591.3,329.2L593.25,329.26L595.21,329.3" fill="none" stroke="#DF536B" stroke-width="1.5"/>
<rect x="613.78" y="328.85" width="59.94" height="1.3" fill="#61D04F"/>
<path d="M438.78,328.54L440.74,328.47L442.69,328.4L444.65,328.33L446.6,328.25L448.56,328.17L450.51,328.08L452.47,327.99L454.42,327.89L456.38,327.78L458.33,327.67L460.29,327.55L462.24,327.42L464.2,327.29L466.15,327.15L468.11,327L470.07,326.84L472.02,326.68L473.98,326.5L475.93,326.31L477.89,326.12L479.84,325.92L481.8,325.7L483.75,325.48L485.71,325.24L487.66,325L489.62,324.74L491.57,324.48L493.53,324.21L495.48,323.92L497.44,323.64L499.4,323.34L501.35,323.04L503.31,322.73L505.26,322.42L507.22,322.12L509.17,321.81L511.13,321.51L513.08,321.21L515.04,320.93L516.99,320.66L518.95,320.4L520.9,320.17L522.86,319.96L524.81,319.78L526.77,319.64L528.73,319.52L530.68,319.45L532.64,319.41L534.59,319.42L536.55,319.47L538.5,319.57L540.46,319.71L542.41,319.89L544.37,320.11L546.32,320.37L548.28,320.67L550.23,320.99L552.19,321.35L554.14,321.72L556.1,322.12L558.06,322.53L560.01,322.94L561.97,323.36L563.92,323.78L565.88,324.19L567.83,324.6L569.79,324.99L571.74,325.38L573.7,325.74L575.65,326.09L577.61,326.42L579.56,326.73L581.52,327.02L583.47,327.29L585.43,327.54L587.39,327.77L589.34,327.97L591.3,328.16L593.25,328.34L595.21,328.49L597.16,328.63L599.12,328.75L601.07,328.86L603.03,328.95L604.98,329.04L606.94,329.11L608.89,329.17L610.85,329.22L612.8,329.27L614.76,329.31" fill="none" stroke="#61D04F" stroke-width="1.5"/>
<rect x="438.48" y="328.85" width="22.79" height="1.3" fill="#2297E6"/>
<rect x="650.93" y="328.85" width="22.79" height="1.3" fill="#2297E6"/>
<path d="M460.29,329.32L462.24,329.3L464.2,329.27L466.15,329.24L468.11,329.2L470.07,329.16L472.02,329.11L473.98,329.06L475.93,329L477.89,328.93L479.84,328.86L481.8,328.77L483.75,328.68L485.71,328.57L487.66,328.45L489.62,328.31L491.57,328.16L493.53,327.99L495.48,327.8L497.44,327.59L499.4,327.35L501.35,327.09L503.31,326.8L505.26,326.49L507.22,326.14L509.17,325.76L511.13,325.34L513.08,324.89L515.04,324.4L516.99,323.88L518.95,323.32L520.9,322.73L522.86,322.1L524.81,321.44L526.77,320.75L528.73,320.04L530.68,319.31L532.64,318.57L534.59,317.83L536.55,317.09L538.5,316.36L540.46,315.65L542.41,314.97L544.37,314.32L546.32,313.73L548.28,313.19L550.23,312.71L552.19,312.3L554.14,311.96L556.1,311.7L558.06,311.53L560.01,311.43L561.97,311.42L563.92,311.49L565.88,311.64L567.83,311.87L569.79,312.17L571.74,312.55L573.7,312.99L575.65,313.49L577.61,314.04L579.56,314.63L581.52,315.27L583.47,315.94L585.43,316.64L587.39,317.35L589.34,318.08L591.3,318.81L593.25,319.54L595.21,320.26L597.16,320.97L599.12,321.66L601.07,322.32L603.03,322.96L604.98,323.57L606.94,324.15L608.89,324.69L610.85,325.2L612.8,325.67L614.76,326.1L616.72,326.5L618.67,326.86L620.63,327.19L622.58,327.48L624.54,327.74L626.49,327.98L628.45,328.19L630.4,328.37L632.36,328.53L634.31,328.67L636.27,328.79L638.22,328.9L640.18,328.99L642.13,329.07L644.09,329.13L646.05,329.19L648,329.24L649.96,329.28L651.91,329.32" fill="none" stroke="#2297E6" stroke-width="1.5"/>
<rect x="438.48" y="328.85" width="65.8" height="1.3" fill="#28E2E5"/>
<path d="M503.31,329.3L505.26,329.26L507.22,329.22L509.17,329.16L511.13,329.1L513.08,329.03L515.04,328.94L516.99,328.84L518.95,328.73L520.9,328.59L522.86,328.44L524.81,328.27L526.77,328.07L528.73,327.85L530.68,327.59L532.64,327.32L534.59,327.01L536.55,326.66L538.5,326.29L540.46,325.88L542.41,325.45L544.37,324.97L546.32,324.47L548.28,323.94L550.23,323.38L552.19,322.8L554.14,322.2L556.1,321.58L558.06,320.95L560.01,320.32L561.97,319.68L563.92,319.04L565.88,318.41L567.83,317.8L569.79,317.21L571.74,316.65L573.7,316.12L575.65,315.62L577.61,315.18L579.56,314.78L581.52,314.44L583.47,314.16L585.43,313.95L587.39,313.8L589.34,313.72L591.3,313.71L593.25,313.77L595.21,313.9L597.16,314.11L599.12,314.37L601.07,314.71L603.03,315.1L604.98,315.54L606.94,316.03L608.89,316.56L610.85,317.13L612.8,317.72L614.76,318.33L616.72,318.96L618.67,319.59L620.63,320.21L622.58,320.84L624.54,321.45L626.49,322.04L628.45,322.61L630.4,323.16L632.36,323.69L634.31,324.18L636.27,324.65L638.22,325.09L640.18,325.5L642.13,325.87L644.09,326.23L646.05,326.55L648,326.84L649.96,327.12L651.91,327.36L653.87,327.59L655.82,327.79L657.78,327.97L659.73,328.14L661.69,328.29L663.64,328.42L665.6,328.54L667.55,328.65L669.51,328.75L671.46,328.83L673.42,328.91" fill="none" stroke="#28E2E5" stroke-width="1.5"/>
<rect x="438.48" y="328.85" width="97.09" height="1.3" fill="#CD0BBC"/>
<path d="M534.59,329.31L536.55,329.26L538.5,329.21L540.46,329.16L542.41,329.09L544.37,329.01L546.32,328.92L548.28,328.81L550.23,328.69L552.19,328.55L554.14,328.39L556.1,328.22L558.06,328.02L560.01,327.8L561.97,327.56L563.92,327.29L565.88,326.99L567.83,326.67L569.79,326.32L571.74,325.95L573.7,325.55L575.65,325.12L577.61,324.67L579.56,324.19L581.52,323.7L583.47,323.18L585.43,322.65L587.39,322.11L589.34,321.56L591.3,321L593.25,320.45L595.21,319.91L597.16,319.38L599.12,318.88L601.07,318.39L603.03,317.94L604.98,317.53L606.94,317.15L608.89,316.82L610.85,316.54L612.8,316.31L614.76,316.13L616.72,316.01L618.67,315.94L620.63,315.92L622.58,315.96L624.54,316.04L626.49,316.17L628.45,316.35L630.4,316.56L632.36,316.82L634.31,317.1L636.27,317.41L638.22,317.74L640.18,318.09L642.13,318.46L644.09,318.84L646.05,319.23L648,319.62L649.96,320.02L651.91,320.42L653.87,320.81L655.82,321.2L657.78,321.58L659.73,321.96L661.69,322.32L663.64,322.68L665.6,323.02L667.55,323.36L669.51,323.68L671.46,323.99L673.42,324.29" fill="none" stroke="#CD0BBC" stroke-width="1.5"/>
<rect x="438.48" y="328.85" width="120.55" height="1.3" fill="#F5C710"/>
<path d="M558.06,329.31L560.01,329.27L561.97,329.21L563.92,329.15L565.88,329.08L567.83,328.99L569.79,328.89L571.74,328.77L573.7,328.64L575.65,328.48L577.61,328.29L579.56,328.08L581.52,327.84L583.47,327.57L585.43,327.26L587.39,326.92L589.34,326.54L591.3,326.11L593.25,325.65L595.21,325.13L597.16,324.58L599.12,323.97L601.07,323.32L603.03,322.63L604.98,321.89L606.94,321.11L608.89,320.29L610.85,319.44L612.8,318.55L614.76,317.64L616.72,316.71L618.67,315.76L620.63,314.79L622.58,313.82L624.54,312.84L626.49,311.87L628.45,310.9L630.4,309.94L632.36,309L634.31,308.08L636.27,307.17L638.22,306.29L640.18,305.43L642.13,304.61L644.09,303.81L646.05,303.04L648,302.3L649.96,301.59L651.91,300.91L653.87,300.26L655.82,299.64L657.78,299.05L659.73,298.49L661.69,297.96L663.64,297.46L665.6,296.99L667.55,296.54L669.51,296.11L671.46,295.71L673.42,295.33" fill="none" stroke="#F5C710" stroke-width="1.5"/>
<line x1="547.3" y1="320.51" x2="547.3" y2="329.5" stroke="#DF536B" stroke-width="1.15" stroke-dasharray="4.2,1.3"/>
<line x1="530.29" y1="319.46" x2="530.29" y2="329.5" stroke="#61D04F" stroke-width="1.15" stroke-dasharray="4.2,1.3"/>
<line x1="579.86" y1="314.73" x2="579.86" y2="329.5" stroke="#2297E6" stroke-width="1.15" stroke-dasharray="4.2,1.3"/>
<line x1="609.48" y1="316.73" x2="609.48" y2="329.5" stroke="#28E2E5" stroke-width="1.15" stroke-dasharray="4.2,1.3"/>
<line x1="618.28" y1="315.95" x2="618.28" y2="329.5" stroke="#CD0BBC" stroke-width="1.15" stroke-dasharray="4.2,1.3"/>
<circle cx="547.3" cy="329.5" r="1.9" fill="#DF536B"/>
<circle cx="530.29" cy="329.5" r="1.9" fill="#61D04F"/>
<circle cx="579.86" cy="329.5" r="1.9" fill="#2297E6"/>
<circle cx="609.48" cy="329.5" r="1.9" fill="#28E2E5"/>
<circle cx="618.28" cy="329.5" r="1.9" fill="#CD0BBC"/>
<line x1="416.25" y1="329.5" x2="418.25" y2="329.5" stroke="#222" stroke-width="1"/>
<text transform="translate(422.55,331.2) scale(0.84,1)" style="font-family:'Liberation Sans',sans-serif;font-size:4.6px" fill="#555555">0.00</text>
<line x1="416.25" y1="321.5" x2="418.25" y2="321.5" stroke="#222" stroke-width="1"/>
<text transform="translate(422.55,323.2) scale(0.84,1)" style="font-family:'Liberation Sans',sans-serif;font-size:4.6px" fill="#555555">0.20</text>
<line x1="416.25" y1="313.5" x2="418.25" y2="313.5" stroke="#222" stroke-width="1"/>
<text transform="translate(422.55,315.2) scale(0.84,1)" style="font-family:'Liberation Sans',sans-serif;font-size:4.6px" fill="#555555">0.40</text>
<line x1="416.25" y1="305.5" x2="418.25" y2="305.5" stroke="#222" stroke-width="1"/>
<text transform="translate(422.55,307.2) scale(0.84,1)" style="font-family:'Liberation Sans',sans-serif;font-size:4.6px" fill="#555555">0.60</text>
<line x1="416.25" y1="297.5" x2="418.25" y2="297.5" stroke="#222" stroke-width="1"/>
<text transform="translate(422.55,299.2) scale(0.84,1)" style="font-family:'Liberation Sans',sans-serif;font-size:4.6px" fill="#555555">0.80</text>
<line x1="416.25" y1="289.5" x2="418.25" y2="289.5" stroke="#222" stroke-width="1"/>
<text transform="translate(422.55,291.2) scale(0.84,1)" style="font-family:'Liberation Sans',sans-serif;font-size:4.6px" fill="#555555">1.00</text>
<line x1="410.25" y1="307.5" x2="416.25" y2="307.5" stroke="#333" stroke-width="1"/>
<text x="404.75" y="309.9" text-anchor="end" textLength="48.12" lengthAdjust="spacingAndGlyphs" style="font-family:'Liberation Sans',sans-serif;font-size:6.8px" fill="#333">N4_Pass_Soc_W</text>
<rect x="439.28" y="334.1" width="233.64" height="39.4" fill="#E5E5E5"/>
<rect x="467.61" y="334.1" width="1" height="39.4" fill="#FAFAFA"/>
<rect x="496.94" y="334.1" width="1" height="39.4" fill="#FAFAFA"/>
<rect x="526.27" y="334.1" width="1" height="39.4" fill="#FAFAFA"/>
<rect x="555.6" y="334.1" width="1" height="39.4" fill="#FAFAFA"/>
<rect x="584.93" y="334.1" width="1" height="39.4" fill="#FAFAFA"/>
<rect x="614.26" y="334.1" width="1" height="39.4" fill="#FAFAFA"/>
<rect x="643.59" y="334.1" width="1" height="39.4" fill="#FAFAFA"/>
<rect x="439.28" y="365" width="233.64" height="1" fill="#FAFAFA"/>
<rect x="439.28" y="357" width="233.64" height="1" fill="#FAFAFA"/>
<rect x="439.28" y="349" width="233.64" height="1" fill="#FAFAFA"/>
<rect x="439.28" y="341" width="233.64" height="1" fill="#FAFAFA"/>
<rect x="673.42" y="373" width="10.88" height="1" fill="#A8A8A8"/>
<rect x="598.14" y="372.85" width="75.58" height="1.3" fill="#DF536B"/>
<path d="M438.78,334.49L440.74,334.56L442.69,334.63L444.65,334.71L446.6,334.79L448.56,334.88L450.51,334.97L452.47,335.08L454.42,335.18L456.38,335.3L458.33,335.42L460.29,335.55L462.24,335.7L464.2,335.85L466.15,336.01L468.11,336.18L470.07,336.36L472.02,336.56L473.98,336.77L475.93,336.99L477.89,337.23L479.84,337.48L481.8,337.75L483.75,338.04L485.71,338.35L487.66,338.67L489.62,339.02L491.57,339.39L493.53,339.78L495.48,340.2L497.44,340.64L499.4,341.11L501.35,341.61L503.31,342.14L505.26,342.69L507.22,343.28L509.17,343.9L511.13,344.55L513.08,345.23L515.04,345.95L516.99,346.7L518.95,347.48L520.9,348.3L522.86,349.14L524.81,350.02L526.77,350.92L528.73,351.85L530.68,352.8L532.64,353.77L534.59,354.75L536.55,355.75L538.5,356.75L540.46,357.76L542.41,358.76L544.37,359.76L546.32,360.74L548.28,361.71L550.23,362.65L552.19,363.56L554.14,364.44L556.1,365.29L558.06,366.1L560.01,366.86L561.97,367.58L563.92,368.25L565.88,368.88L567.83,369.45L569.79,369.98L571.74,370.46L573.7,370.9L575.65,371.29L577.61,371.63L579.56,371.94L581.52,372.21L583.47,372.44L585.43,372.63L587.39,372.8L589.34,372.94L591.3,373.06L593.25,373.15L595.21,373.23L597.16,373.29L599.12,373.34" fill="none" stroke="#DF536B" stroke-width="1.5"/>
<rect x="611.83" y="372.85" width="61.89" height="1.3" fill="#61D04F"/>
<path d="M438.78,372.54L440.74,372.47L442.69,372.4L444.65,372.33L446.6,372.25L448.56,372.17L450.51,372.08L452.47,371.99L454.42,371.89L456.38,371.78L458.33,371.67L460.29,371.55L462.24,371.42L464.2,371.29L466.15,371.14L468.11,370.99L470.07,370.83L472.02,370.66L473.98,370.48L475.93,370.3L477.89,370.1L479.84,369.89L481.8,369.67L483.75,369.44L485.71,369.2L487.66,368.94L489.62,368.68L491.57,368.4L493.53,368.11L495.48,367.81L497.44,367.5L499.4,367.18L501.35,366.84L503.31,366.5L505.26,366.15L507.22,365.79L509.17,365.43L511.13,365.07L513.08,364.7L515.04,364.33L516.99,363.96L518.95,363.6L520.9,363.25L522.86,362.91L524.81,362.59L526.77,362.29L528.73,362.01L530.68,361.75L532.64,361.53L534.59,361.34L536.55,361.2L538.5,361.09L540.46,361.03L542.41,361.02L544.37,361.07L546.32,361.16L548.28,361.31L550.23,361.51L552.19,361.76L554.14,362.06L556.1,362.42L558.06,362.82L560.01,363.26L561.97,363.74L563.92,364.25L565.88,364.79L567.83,365.35L569.79,365.93L571.74,366.51L573.7,367.1L575.65,367.68L577.61,368.26L579.56,368.81L581.52,369.34L583.47,369.85L585.43,370.32L587.39,370.75L589.34,371.15L591.3,371.51L593.25,371.83L595.21,372.11L597.16,372.35L599.12,372.56L601.07,372.73L603.03,372.88L604.98,373L606.94,373.1L608.89,373.19L610.85,373.25L612.8,373.31" fill="none" stroke="#61D04F" stroke-width="1.5"/>
<rect x="438.48" y="372.85" width="32.56" height="1.3" fill="#2297E6"/>
<rect x="635.29" y="372.85" width="38.43" height="1.3" fill="#2297E6"/>
<path d="M470.07,373.31L472.02,373.28L473.98,373.25L475.93,373.22L477.89,373.18L479.84,373.14L481.8,373.09L483.75,373.03L485.71,372.97L487.66,372.9L489.62,372.82L491.57,372.74L493.53,372.64L495.48,372.53L497.44,372.4L499.4,372.26L501.35,372.11L503.31,371.94L505.26,371.75L507.22,371.54L509.17,371.3L511.13,371.04L513.08,370.76L515.04,370.45L516.99,370.11L518.95,369.74L520.9,369.33L522.86,368.9L524.81,368.43L526.77,367.93L528.73,367.4L530.68,366.83L532.64,366.24L534.59,365.62L536.55,364.97L538.5,364.31L540.46,363.63L542.41,362.94L544.37,362.25L546.32,361.56L548.28,360.89L550.23,360.25L552.19,359.63L554.14,359.06L556.1,358.54L558.06,358.09L560.01,357.7L561.97,357.41L563.92,357.2L565.88,357.09L567.83,357.09L569.79,357.2L571.74,357.42L573.7,357.76L575.65,358.21L577.61,358.76L579.56,359.41L581.52,360.15L583.47,360.96L585.43,361.82L587.39,362.72L589.34,363.64L591.3,364.57L593.25,365.48L595.21,366.36L597.16,367.19L599.12,367.98L601.07,368.7L603.03,369.36L604.98,369.95L606.94,370.48L608.89,370.94L610.85,371.35L612.8,371.7L614.76,372L616.72,372.25L618.67,372.47L620.63,372.65L622.58,372.8L624.54,372.93L626.49,373.03L628.45,373.12L630.4,373.19L632.36,373.25L634.31,373.3L636.27,373.34" fill="none" stroke="#2297E6" stroke-width="1.5"/>
<rect x="438.48" y="372.85" width="75.58" height="1.3" fill="#28E2E5"/>
<rect x="650.93" y="372.85" width="22.79" height="1.3" fill="#28E2E5"/>
<path d="M513.08,373.32L515.04,373.29L516.99,373.25L518.95,373.2L520.9,373.15L522.86,373.08L524.81,373.01L526.77,372.92L528.73,372.83L530.68,372.71L532.64,372.58L534.59,372.44L536.55,372.27L538.5,372.08L540.46,371.87L542.41,371.64L544.37,371.38L546.32,371.1L548.28,370.79L550.23,370.45L552.19,370.09L554.14,369.71L556.1,369.3L558.06,368.87L560.01,368.43L561.97,367.98L563.92,367.52L565.88,367.07L567.83,366.63L569.79,366.2L571.74,365.8L573.7,365.45L575.65,365.14L577.61,364.88L579.56,364.69L581.52,364.58L583.47,364.54L585.43,364.58L587.39,364.7L589.34,364.9L591.3,365.17L593.25,365.5L595.21,365.89L597.16,366.32L599.12,366.77L601.07,367.25L603.03,367.74L604.98,368.22L606.94,368.69L608.89,369.15L610.85,369.59L612.8,370L614.76,370.38L616.72,370.73L618.67,371.05L620.63,371.35L622.58,371.61L624.54,371.85L626.49,372.06L628.45,372.25L630.4,372.41L632.36,372.56L634.31,372.69L636.27,372.8L638.22,372.9L640.18,372.99L642.13,373.06L644.09,373.12L646.05,373.18L648,373.23L649.96,373.27L651.91,373.3" fill="none" stroke="#28E2E5" stroke-width="1.5"/>
<rect x="438.48" y="372.85" width="101" height="1.3" fill="#CD0BBC"/>
<path d="M538.5,373.32L540.46,373.28L542.41,373.23L544.37,373.17L546.32,373.1L548.28,373.02L550.23,372.93L552.19,372.81L554.14,372.68L556.1,372.53L558.06,372.36L560.01,372.17L561.97,371.95L563.92,371.71L565.88,371.44L567.83,371.14L569.79,370.82L571.74,370.48L573.7,370.13L575.65,369.75L577.61,369.37L579.56,368.99L581.52,368.62L583.47,368.26L585.43,367.93L587.39,367.62L589.34,367.36L591.3,367.14L593.25,366.98L595.21,366.86L597.16,366.8L599.12,366.8L601.07,366.84L603.03,366.94L604.98,367.07L606.94,367.25L608.89,367.45L610.85,367.68L612.8,367.93L614.76,368.2L616.72,368.47L618.67,368.75L620.63,369.03L622.58,369.31L624.54,369.58L626.49,369.85L628.45,370.11L630.4,370.35L632.36,370.59L634.31,370.82L636.27,371.03L638.22,371.23L640.18,371.42L642.13,371.6L644.09,371.76L646.05,371.92L648,372.06L649.96,372.19L651.91,372.31L653.87,372.42L655.82,372.53L657.78,372.62L659.73,372.71L661.69,372.79L663.64,372.86L665.6,372.92L667.55,372.98L669.51,373.04L671.46,373.08L673.42,373.13" fill="none" stroke="#CD0BBC" stroke-width="1.5"/>
<rect x="438.48" y="372.85" width="108.82" height="1.3" fill="#F5C710"/>
<path d="M546.32,373.34L548.28,373.29L550.23,373.23L552.19,373.15L554.14,373.06L556.1,372.94L558.06,372.8L560.01,372.62L561.97,372.41L563.92,372.15L565.88,371.84L567.83,371.47L569.79,371.04L571.74,370.53L573.7,369.95L575.65,369.29L577.61,368.54L579.56,367.71L581.52,366.8L583.47,365.81L585.43,364.76L587.39,363.65L589.34,362.5L591.3,361.32L593.25,360.14L595.21,358.97L597.16,357.83L599.12,356.74L601.07,355.7L603.03,354.74L604.98,353.87L606.94,353.08L608.89,352.39L610.85,351.8L612.8,351.3L614.76,350.9L616.72,350.59L618.67,350.37L620.63,350.23L622.58,350.17L624.54,350.19L626.49,350.28L628.45,350.43L630.4,350.64L632.36,350.91L634.31,351.22L636.27,351.58L638.22,351.98L640.18,352.41L642.13,352.87L644.09,353.36L646.05,353.88L648,354.41L649.96,354.96L651.91,355.52L653.87,356.09L655.82,356.67L657.78,357.26L659.73,357.84L661.69,358.43L663.64,359.01L665.6,359.58L667.55,360.15L669.51,360.72L671.46,361.27L673.42,361.81" fill="none" stroke="#F5C710" stroke-width="1.5"/>
<rect x="438.48" y="372.85" width="132.28" height="1.3" fill="#948C86"/>
<path d="M569.79,373.33L571.74,373.28L573.7,373.22L575.65,373.14L577.61,373.05L579.56,372.94L581.52,372.8L583.47,372.65L585.43,372.46L587.39,372.25L589.34,372.01L591.3,371.73L593.25,371.43L595.21,371.09L597.16,370.72L599.12,370.32L601.07,369.89L603.03,369.44L604.98,368.96L606.94,368.45L608.89,367.92L610.85,367.36L612.8,366.79L614.76,366.2L616.72,365.59L618.67,364.96L620.63,364.32L622.58,363.66L624.54,362.99L626.49,362.31L628.45,361.62L630.4,360.91L632.36,360.2L634.31,359.48L636.27,358.76L638.22,358.03L640.18,357.29L642.13,356.56L644.09,355.82L646.05,355.08L648,354.35L649.96,353.62L651.91,352.89L653.87,352.17L655.82,351.46L657.78,350.76L659.73,350.06L661.69,349.38L663.64,348.71L665.6,348.06L667.55,347.42L669.51,346.79L671.46,346.19L673.42,345.59" fill="none" stroke="#9E9E9E" stroke-width="1.5"/>
<line x1="547.3" y1="361.23" x2="547.3" y2="373.5" stroke="#DF536B" stroke-width="1.15" stroke-dasharray="4.2,1.3"/>
<line x1="547.3" y1="361.23" x2="547.3" y2="373.5" stroke="#61D04F" stroke-width="1.15" stroke-dasharray="4.2,1.3"/>
<line x1="593.35" y1="365.52" x2="593.35" y2="373.5" stroke="#2297E6" stroke-width="1.15" stroke-dasharray="4.2,1.3"/>
<line x1="599.22" y1="366.8" x2="599.22" y2="373.5" stroke="#28E2E5" stroke-width="1.15" stroke-dasharray="4.2,1.3"/>
<line x1="572.23" y1="370.4" x2="572.23" y2="373.5" stroke="#CD0BBC" stroke-width="1.15" stroke-dasharray="4.2,1.3"/>
<line x1="647.9" y1="354.38" x2="647.9" y2="373.5" stroke="#F5C710" stroke-width="1.15" stroke-dasharray="4.2,1.3"/>
<circle cx="547.3" cy="373.5" r="1.9" fill="#DF536B"/>
<circle cx="547.3" cy="373.5" r="1.9" fill="#61D04F"/>
<circle cx="593.35" cy="373.5" r="1.9" fill="#2297E6"/>
<circle cx="599.22" cy="373.5" r="1.9" fill="#28E2E5"/>
<circle cx="572.23" cy="373.5" r="1.9" fill="#CD0BBC"/>
<circle cx="647.9" cy="373.5" r="1.9" fill="#F5C710"/>
<line x1="416.25" y1="373.5" x2="418.25" y2="373.5" stroke="#222" stroke-width="1"/>
<text transform="translate(422.55,375.2) scale(0.84,1)" style="font-family:'Liberation Sans',sans-serif;font-size:4.6px" fill="#555555">0.00</text>
<line x1="416.25" y1="365.5" x2="418.25" y2="365.5" stroke="#222" stroke-width="1"/>
<text transform="translate(422.55,367.2) scale(0.84,1)" style="font-family:'Liberation Sans',sans-serif;font-size:4.6px" fill="#555555">0.20</text>
<line x1="416.25" y1="357.5" x2="418.25" y2="357.5" stroke="#222" stroke-width="1"/>
<text transform="translate(422.55,359.2) scale(0.84,1)" style="font-family:'Liberation Sans',sans-serif;font-size:4.6px" fill="#555555">0.40</text>
<line x1="416.25" y1="349.5" x2="418.25" y2="349.5" stroke="#222" stroke-width="1"/>
<text transform="translate(422.55,351.2) scale(0.84,1)" style="font-family:'Liberation Sans',sans-serif;font-size:4.6px" fill="#555555">0.60</text>
<line x1="416.25" y1="341.5" x2="418.25" y2="341.5" stroke="#222" stroke-width="1"/>
<text transform="translate(422.55,343.2) scale(0.84,1)" style="font-family:'Liberation Sans',sans-serif;font-size:4.6px" fill="#555555">0.80</text>
<line x1="416.25" y1="333.5" x2="418.25" y2="333.5" stroke="#222" stroke-width="1"/>
<text transform="translate(422.55,335.2) scale(0.84,1)" style="font-family:'Liberation Sans',sans-serif;font-size:4.6px" fill="#555555">1.00</text>
<line x1="410.25" y1="351.5" x2="416.25" y2="351.5" stroke="#333" stroke-width="1"/>
<text x="404.75" y="353.9" text-anchor="end" textLength="38.12" lengthAdjust="spacingAndGlyphs" style="font-family:'Liberation Sans',sans-serif;font-size:6.8px" fill="#333">N5_Diff_Abstr</text>
<rect x="439.28" y="378.1" width="233.64" height="39.4" fill="#E5E5E5"/>
<rect x="467.61" y="378.1" width="1" height="39.4" fill="#FAFAFA"/>
<rect x="496.94" y="378.1" width="1" height="39.4" fill="#FAFAFA"/>
<rect x="526.27" y="378.1" width="1" height="39.4" fill="#FAFAFA"/>
<rect x="555.6" y="378.1" width="1" height="39.4" fill="#FAFAFA"/>
<rect x="584.93" y="378.1" width="1" height="39.4" fill="#FAFAFA"/>
<rect x="614.26" y="378.1" width="1" height="39.4" fill="#FAFAFA"/>
<rect x="643.59" y="378.1" width="1" height="39.4" fill="#FAFAFA"/>
<rect x="439.28" y="409" width="233.64" height="1" fill="#FAFAFA"/>
<rect x="439.28" y="401" width="233.64" height="1" fill="#FAFAFA"/>
<rect x="439.28" y="393" width="233.64" height="1" fill="#FAFAFA"/>
<rect x="439.28" y="385" width="233.64" height="1" fill="#FAFAFA"/>
<rect x="673.42" y="417" width="10.88" height="1" fill="#A8A8A8"/>
<rect x="607.92" y="416.85" width="65.8" height="1.3" fill="#DF536B"/>
<path d="M438.78,378.02L440.74,378.05L442.69,378.09L444.65,378.13L446.6,378.18L448.56,378.23L450.51,378.28L452.47,378.33L454.42,378.39L456.38,378.45L458.33,378.51L460.29,378.59L462.24,378.66L464.2,378.74L466.15,378.83L468.11,378.92L470.07,379.02L472.02,379.13L473.98,379.24L475.93,379.36L477.89,379.49L479.84,379.63L481.8,379.78L483.75,379.94L485.71,380.11L487.66,380.29L489.62,380.49L491.57,380.7L493.53,380.92L495.48,381.16L497.44,381.42L499.4,381.69L501.35,381.99L503.31,382.3L505.26,382.64L507.22,383L509.17,383.38L511.13,383.79L513.08,384.23L515.04,384.69L516.99,385.19L518.95,385.72L520.9,386.28L522.86,386.88L524.81,387.52L526.77,388.19L528.73,388.9L530.68,389.65L532.64,390.45L534.59,391.28L536.55,392.15L538.5,393.07L540.46,394.02L542.41,395.01L544.37,396.03L546.32,397.09L548.28,398.17L550.23,399.27L552.19,400.39L554.14,401.52L556.1,402.65L558.06,403.77L560.01,404.89L561.97,405.98L563.92,407.05L565.88,408.07L567.83,409.06L569.79,409.99L571.74,410.87L573.7,411.69L575.65,412.44L577.61,413.13L579.56,413.75L581.52,414.31L583.47,414.81L585.43,415.24L587.39,415.62L589.34,415.95L591.3,416.22L593.25,416.46L595.21,416.66L597.16,416.82L599.12,416.96L601.07,417.07L603.03,417.16L604.98,417.23L606.94,417.29L608.89,417.34" fill="none" stroke="#DF536B" stroke-width="1.5"/>
<rect x="621.6" y="416.85" width="52.12" height="1.3" fill="#61D04F"/>
<path d="M438.78,416.99L440.74,416.96L442.69,416.92L444.65,416.88L446.6,416.84L448.56,416.79L450.51,416.74L452.47,416.69L454.42,416.64L456.38,416.58L458.33,416.52L460.29,416.45L462.24,416.38L464.2,416.31L466.15,416.23L468.11,416.15L470.07,416.06L472.02,415.96L473.98,415.86L475.93,415.75L477.89,415.64L479.84,415.52L481.8,415.39L483.75,415.25L485.71,415.11L487.66,414.96L489.62,414.8L491.57,414.63L493.53,414.45L495.48,414.26L497.44,414.06L499.4,413.85L501.35,413.63L503.31,413.4L505.26,413.16L507.22,412.91L509.17,412.65L511.13,412.37L513.08,412.09L515.04,411.8L516.99,411.5L518.95,411.19L520.9,410.87L522.86,410.55L524.81,410.23L526.77,409.9L528.73,409.58L530.68,409.25L532.64,408.93L534.59,408.63L536.55,408.33L538.5,408.05L540.46,407.79L542.41,407.56L544.37,407.36L546.32,407.19L548.28,407.07L550.23,406.98L552.19,406.95L554.14,406.96L556.1,407.03L558.06,407.16L560.01,407.35L561.97,407.59L563.92,407.88L565.88,408.23L567.83,408.62L569.79,409.06L571.74,409.53L573.7,410.04L575.65,410.56L577.61,411.09L579.56,411.62L581.52,412.15L583.47,412.67L585.43,413.17L587.39,413.65L589.34,414.1L591.3,414.51L593.25,414.9L595.21,415.25L597.16,415.56L599.12,415.84L601.07,416.09L603.03,416.31L604.98,416.5L606.94,416.66L608.89,416.8L610.85,416.92L612.8,417.02L614.76,417.11L616.72,417.18L618.67,417.24L620.63,417.29L622.58,417.33" fill="none" stroke="#61D04F" stroke-width="1.5"/>
<rect x="438.48" y="416.85" width="46.25" height="1.3" fill="#2297E6"/>
<rect x="648.98" y="416.85" width="24.74" height="1.3" fill="#2297E6"/>
<path d="M483.75,417.31L485.71,417.29L487.66,417.26L489.62,417.23L491.57,417.19L493.53,417.15L495.48,417.1L497.44,417.04L499.4,416.98L501.35,416.91L503.31,416.84L505.26,416.75L507.22,416.65L509.17,416.54L511.13,416.42L513.08,416.28L515.04,416.12L516.99,415.95L518.95,415.76L520.9,415.54L522.86,415.31L524.81,415.05L526.77,414.76L528.73,414.45L530.68,414.1L532.64,413.73L534.59,413.32L536.55,412.89L538.5,412.42L540.46,411.92L542.41,411.39L544.37,410.84L546.32,410.26L548.28,409.67L550.23,409.06L552.19,408.45L554.14,407.84L556.1,407.24L558.06,406.67L560.01,406.13L561.97,405.63L563.92,405.19L565.88,404.82L567.83,404.52L569.79,404.31L571.74,404.19L573.7,404.17L575.65,404.24L577.61,404.41L579.56,404.68L581.52,405.03L583.47,405.47L585.43,405.97L587.39,406.53L589.34,407.14L591.3,407.78L593.25,408.44L595.21,409.12L597.16,409.79L599.12,410.45L601.07,411.09L603.03,411.7L604.98,412.29L606.94,412.84L608.89,413.35L610.85,413.82L612.8,414.25L614.76,414.64L616.72,415L618.67,415.32L620.63,415.6L622.58,415.85L624.54,416.08L626.49,416.27L628.45,416.45L630.4,416.6L632.36,416.73L634.31,416.84L636.27,416.94L638.22,417.02L640.18,417.1L642.13,417.16L644.09,417.21L646.05,417.26L648,417.3L649.96,417.33" fill="none" stroke="#2297E6" stroke-width="1.5"/>
<rect x="438.48" y="416.85" width="83.4" height="1.3" fill="#28E2E5"/>
<path d="M520.9,417.32L522.86,417.29L524.81,417.24L526.77,417.19L528.73,417.13L530.68,417.07L532.64,416.98L534.59,416.89L536.55,416.78L538.5,416.65L540.46,416.5L542.41,416.33L544.37,416.14L546.32,415.92L548.28,415.67L550.23,415.4L552.19,415.09L554.14,414.75L556.1,414.38L558.06,413.98L560.01,413.55L561.97,413.09L563.92,412.61L565.88,412.12L567.83,411.61L569.79,411.1L571.74,410.6L573.7,410.11L575.65,409.64L577.61,409.21L579.56,408.82L581.52,408.48L583.47,408.19L585.43,407.96L587.39,407.8L589.34,407.71L591.3,407.68L593.25,407.72L595.21,407.82L597.16,407.99L599.12,408.2L601.07,408.46L603.03,408.77L604.98,409.1L606.94,409.47L608.89,409.85L610.85,410.25L612.8,410.66L614.76,411.07L616.72,411.48L618.67,411.89L620.63,412.28L622.58,412.67L624.54,413.04L626.49,413.39L628.45,413.72L630.4,414.04L632.36,414.34L634.31,414.62L636.27,414.88L638.22,415.12L640.18,415.34L642.13,415.55L644.09,415.74L646.05,415.91L648,416.07L649.96,416.22L651.91,416.35L653.87,416.47L655.82,416.58L657.78,416.68L659.73,416.77L661.69,416.85L663.64,416.92L665.6,416.98L667.55,417.04L669.51,417.09L671.46,417.14L673.42,417.18" fill="none" stroke="#28E2E5" stroke-width="1.5"/>
<rect x="438.48" y="416.85" width="101" height="1.3" fill="#CD0BBC"/>
<path d="M538.5,417.32L540.46,417.28L542.41,417.22L544.37,417.15L546.32,417.07L548.28,416.96L550.23,416.84L552.19,416.69L554.14,416.52L556.1,416.31L558.06,416.06L560.01,415.77L561.97,415.44L563.92,415.06L565.88,414.62L567.83,414.14L569.79,413.59L571.74,413L573.7,412.34L575.65,411.64L577.61,410.89L579.56,410.1L581.52,409.28L583.47,408.44L585.43,407.58L587.39,406.71L589.34,405.86L591.3,405.02L593.25,404.21L595.21,403.45L597.16,402.73L599.12,402.06L601.07,401.47L603.03,400.94L604.98,400.48L606.94,400.1L608.89,399.79L610.85,399.56L612.8,399.4L614.76,399.32L616.72,399.31L618.67,399.36L620.63,399.48L622.58,399.65L624.54,399.87L626.49,400.15L628.45,400.46L630.4,400.82L632.36,401.2L634.31,401.62L636.27,402.06L638.22,402.52L640.18,402.99L642.13,403.48L644.09,403.97L646.05,404.47L648,404.97L649.96,405.47L651.91,405.97L653.87,406.46L655.82,406.94L657.78,407.42L659.73,407.88L661.69,408.34L663.64,408.78L665.6,409.21L667.55,409.62L669.51,410.02L671.46,410.41L673.42,410.78" fill="none" stroke="#CD0BBC" stroke-width="1.5"/>
<rect x="438.48" y="416.85" width="122.51" height="1.3" fill="#F5C710"/>
<path d="M560.01,417.32L561.97,417.27L563.92,417.21L565.88,417.14L567.83,417.05L569.79,416.94L571.74,416.81L573.7,416.66L575.65,416.48L577.61,416.26L579.56,416.02L581.52,415.74L583.47,415.43L585.43,415.08L587.39,414.68L589.34,414.25L591.3,413.78L593.25,413.26L595.21,412.71L597.16,412.12L599.12,411.49L601.07,410.83L603.03,410.13L604.98,409.41L606.94,408.65L608.89,407.88L610.85,407.08L612.8,406.26L614.76,405.43L616.72,404.59L618.67,403.74L620.63,402.89L622.58,402.03L624.54,401.17L626.49,400.32L628.45,399.47L630.4,398.63L632.36,397.79L634.31,396.97L636.27,396.16L638.22,395.37L640.18,394.59L642.13,393.83L644.09,393.09L646.05,392.37L648,391.67L649.96,390.99L651.91,390.33L653.87,389.7L655.82,389.08L657.78,388.49L659.73,387.92L661.69,387.38L663.64,386.85L665.6,386.35L667.55,385.87L669.51,385.41L671.46,384.98L673.42,384.56" fill="none" stroke="#F5C710" stroke-width="1.5"/>
<line x1="566.37" y1="408.32" x2="566.37" y2="417.5" stroke="#DF536B" stroke-width="1.15" stroke-dasharray="4.2,1.3"/>
<line x1="556.69" y1="407.07" x2="556.69" y2="417.5" stroke="#61D04F" stroke-width="1.15" stroke-dasharray="4.2,1.3"/>
<line x1="591" y1="407.68" x2="591" y2="417.5" stroke="#2297E6" stroke-width="1.15" stroke-dasharray="4.2,1.3"/>
<line x1="584.26" y1="408.09" x2="584.26" y2="417.5" stroke="#28E2E5" stroke-width="1.15" stroke-dasharray="4.2,1.3"/>
<line x1="626.79" y1="400.19" x2="626.79" y2="417.5" stroke="#CD0BBC" stroke-width="1.15" stroke-dasharray="4.2,1.3"/>
<circle cx="566.37" cy="417.5" r="1.9" fill="#DF536B"/>
<circle cx="556.69" cy="417.5" r="1.9" fill="#61D04F"/>
<circle cx="591" cy="417.5" r="1.9" fill="#2297E6"/>
<circle cx="584.26" cy="417.5" r="1.9" fill="#28E2E5"/>
<circle cx="626.79" cy="417.5" r="1.9" fill="#CD0BBC"/>
<line x1="416.25" y1="417.5" x2="418.25" y2="417.5" stroke="#222" stroke-width="1"/>
<text transform="translate(422.55,419.2) scale(0.84,1)" style="font-family:'Liberation Sans',sans-serif;font-size:4.6px" fill="#555555">0.00</text>
<line x1="416.25" y1="409.5" x2="418.25" y2="409.5" stroke="#222" stroke-width="1"/>
<text transform="translate(422.55,411.2) scale(0.84,1)" style="font-family:'Liberation Sans',sans-serif;font-size:4.6px" fill="#555555">0.20</text>
<line x1="416.25" y1="401.5" x2="418.25" y2="401.5" stroke="#222" stroke-width="1"/>
<text transform="translate(422.55,403.2) scale(0.84,1)" style="font-family:'Liberation Sans',sans-serif;font-size:4.6px" fill="#555555">0.40</text>
<line x1="416.25" y1="393.5" x2="418.25" y2="393.5" stroke="#222" stroke-width="1"/>
<text transform="translate(422.55,395.2) scale(0.84,1)" style="font-family:'Liberation Sans',sans-serif;font-size:4.6px" fill="#555555">0.60</text>
<line x1="416.25" y1="385.5" x2="418.25" y2="385.5" stroke="#222" stroke-width="1"/>
<text transform="translate(422.55,387.2) scale(0.84,1)" style="font-family:'Liberation Sans',sans-serif;font-size:4.6px" fill="#555555">0.80</text>
<line x1="416.25" y1="377.5" x2="418.25" y2="377.5" stroke="#222" stroke-width="1"/>
<text transform="translate(422.55,379.2) scale(0.84,1)" style="font-family:'Liberation Sans',sans-serif;font-size:4.6px" fill="#555555">1.00</text>
<line x1="410.25" y1="395.5" x2="416.25" y2="395.5" stroke="#333" stroke-width="1"/>
<text x="404.75" y="397.9" text-anchor="end" textLength="43.7" lengthAdjust="spacingAndGlyphs" style="font-family:'Liberation Sans',sans-serif;font-size:6.8px" fill="#333">N6_Lack_Spont</text>
<rect x="439.28" y="422.1" width="233.64" height="39.4" fill="#E5E5E5"/>
<rect x="467.61" y="422.1" width="1" height="39.4" fill="#FAFAFA"/>
<rect x="496.94" y="422.1" width="1" height="39.4" fill="#FAFAFA"/>
<rect x="526.27" y="422.1" width="1" height="39.4" fill="#FAFAFA"/>
<rect x="555.6" y="422.1" width="1" height="39.4" fill="#FAFAFA"/>
<rect x="584.93" y="422.1" width="1" height="39.4" fill="#FAFAFA"/>
<rect x="614.26" y="422.1" width="1" height="39.4" fill="#FAFAFA"/>
<rect x="643.59" y="422.1" width="1" height="39.4" fill="#FAFAFA"/>
<rect x="439.28" y="453" width="233.64" height="1" fill="#FAFAFA"/>
<rect x="439.28" y="445" width="233.64" height="1" fill="#FAFAFA"/>
<rect x="439.28" y="437" width="233.64" height="1" fill="#FAFAFA"/>
<rect x="439.28" y="429" width="233.64" height="1" fill="#FAFAFA"/>
<rect x="673.42" y="461" width="10.88" height="1" fill="#A8A8A8"/>
<rect x="605.96" y="460.85" width="67.76" height="1.3" fill="#DF536B"/>
<path d="M438.78,422.63L440.74,422.7L442.69,422.79L444.65,422.87L446.6,422.97L448.56,423.07L450.51,423.18L452.47,423.29L454.42,423.42L456.38,423.55L458.33,423.69L460.29,423.84L462.24,424L464.2,424.17L466.15,424.35L468.11,424.55L470.07,424.75L472.02,424.98L473.98,425.21L475.93,425.46L477.89,425.73L479.84,426.02L481.8,426.32L483.75,426.65L485.71,426.99L487.66,427.36L489.62,427.75L491.57,428.16L493.53,428.6L495.48,429.07L497.44,429.56L499.4,430.08L501.35,430.63L503.31,431.21L505.26,431.82L507.22,432.46L509.17,433.13L511.13,433.84L513.08,434.57L515.04,435.34L516.99,436.14L518.95,436.96L520.9,437.82L522.86,438.7L524.81,439.6L526.77,440.52L528.73,441.46L530.68,442.41L532.64,443.38L534.59,444.35L536.55,445.31L538.5,446.28L540.46,447.24L542.41,448.18L544.37,449.11L546.32,450.01L548.28,450.88L550.23,451.73L552.19,452.54L554.14,453.32L556.1,454.05L558.06,454.75L560.01,455.4L561.97,456.01L563.92,456.58L565.88,457.11L567.83,457.59L569.79,458.03L571.74,458.44L573.7,458.8L575.65,459.14L577.61,459.43L579.56,459.7L581.52,459.94L583.47,460.15L585.43,460.34L587.39,460.5L589.34,460.65L591.3,460.78L593.25,460.89L595.21,460.98L597.16,461.06L599.12,461.13L601.07,461.19L603.03,461.24L604.98,461.29L606.94,461.33" fill="none" stroke="#DF536B" stroke-width="1.5"/>
<rect x="633.34" y="460.85" width="40.38" height="1.3" fill="#61D04F"/>
<path d="M438.78,460.41L440.74,460.33L442.69,460.25L444.65,460.17L446.6,460.08L448.56,459.99L450.51,459.89L452.47,459.78L454.42,459.67L456.38,459.55L458.33,459.43L460.29,459.29L462.24,459.15L464.2,459L466.15,458.84L468.11,458.67L470.07,458.49L472.02,458.31L473.98,458.11L475.93,457.9L477.89,457.68L479.84,457.45L481.8,457.21L483.75,456.95L485.71,456.69L487.66,456.41L489.62,456.12L491.57,455.82L493.53,455.51L495.48,455.19L497.44,454.86L499.4,454.51L501.35,454.16L503.31,453.8L505.26,453.44L507.22,453.07L509.17,452.7L511.13,452.32L513.08,451.95L515.04,451.58L516.99,451.22L518.95,450.87L520.9,450.53L522.86,450.21L524.81,449.91L526.77,449.64L528.73,449.39L530.68,449.17L532.64,448.98L534.59,448.83L536.55,448.73L538.5,448.66L540.46,448.64L542.41,448.66L544.37,448.73L546.32,448.84L548.28,449L550.23,449.2L552.19,449.45L554.14,449.73L556.1,450.05L558.06,450.41L560.01,450.79L561.97,451.2L563.92,451.63L565.88,452.07L567.83,452.53L569.79,453L571.74,453.47L573.7,453.95L575.65,454.42L577.61,454.89L579.56,455.35L581.52,455.8L583.47,456.23L585.43,456.65L587.39,457.05L589.34,457.44L591.3,457.8L593.25,458.15L595.21,458.47L597.16,458.77L599.12,459.06L601.07,459.32L603.03,459.56L604.98,459.78L606.94,459.98L608.89,460.16L610.85,460.33L612.8,460.47L614.76,460.61L616.72,460.72L618.67,460.83L620.63,460.92L622.58,461L624.54,461.07L626.49,461.13L628.45,461.19L630.4,461.24L632.36,461.28L634.31,461.31" fill="none" stroke="#61D04F" stroke-width="1.5"/>
<rect x="438.48" y="460.85" width="28.65" height="1.3" fill="#2297E6"/>
<path d="M466.15,461.31L468.11,461.28L470.07,461.25L472.02,461.22L473.98,461.18L475.93,461.14L477.89,461.09L479.84,461.04L481.8,460.98L483.75,460.91L485.71,460.83L487.66,460.74L489.62,460.64L491.57,460.53L493.53,460.41L495.48,460.27L497.44,460.12L499.4,459.95L501.35,459.76L503.31,459.54L505.26,459.31L507.22,459.05L509.17,458.77L511.13,458.46L513.08,458.11L515.04,457.74L516.99,457.34L518.95,456.9L520.9,456.42L522.86,455.91L524.81,455.37L526.77,454.79L528.73,454.18L530.68,453.53L532.64,452.85L534.59,452.15L536.55,451.42L538.5,450.67L540.46,449.9L542.41,449.12L544.37,448.34L546.32,447.56L548.28,446.78L550.23,446.02L552.19,445.29L554.14,444.58L556.1,443.9L558.06,443.27L560.01,442.68L561.97,442.15L563.92,441.68L565.88,441.27L567.83,440.93L569.79,440.66L571.74,440.47L573.7,440.35L575.65,440.31L577.61,440.34L579.56,440.45L581.52,440.64L583.47,440.9L585.43,441.24L587.39,441.64L589.34,442.1L591.3,442.63L593.25,443.21L595.21,443.84L597.16,444.51L599.12,445.21L601.07,445.95L603.03,446.71L604.98,447.48L606.94,448.26L608.89,449.04L610.85,449.82L612.8,450.59L614.76,451.34L616.72,452.08L618.67,452.78L620.63,453.46L622.58,454.11L624.54,454.73L626.49,455.31L628.45,455.86L630.4,456.37L632.36,456.85L634.31,457.29L636.27,457.7L638.22,458.08L640.18,458.42L642.13,458.74L644.09,459.02L646.05,459.29L648,459.52L649.96,459.74L651.91,459.93L653.87,460.1L655.82,460.26L657.78,460.4L659.73,460.52L661.69,460.63L663.64,460.73L665.6,460.82L667.55,460.9L669.51,460.97L671.46,461.03L673.42,461.09" fill="none" stroke="#2297E6" stroke-width="1.5"/>
<rect x="438.48" y="460.85" width="79.49" height="1.3" fill="#28E2E5"/>
<path d="M516.99,461.31L518.95,461.28L520.9,461.24L522.86,461.19L524.81,461.14L526.77,461.08L528.73,461.01L530.68,460.93L532.64,460.84L534.59,460.73L536.55,460.62L538.5,460.49L540.46,460.34L542.41,460.18L544.37,460L546.32,459.8L548.28,459.58L550.23,459.34L552.19,459.08L554.14,458.8L556.1,458.5L558.06,458.18L560.01,457.84L561.97,457.48L563.92,457.09L565.88,456.69L567.83,456.27L569.79,455.84L571.74,455.39L573.7,454.94L575.65,454.47L577.61,454L579.56,453.52L581.52,453.05L583.47,452.58L585.43,452.12L587.39,451.67L589.34,451.24L591.3,450.83L593.25,450.44L595.21,450.09L597.16,449.76L599.12,449.48L601.07,449.23L603.03,449.02L604.98,448.86L606.94,448.74L608.89,448.66L610.85,448.64L612.8,448.66L614.76,448.72L616.72,448.82L618.67,448.97L620.63,449.15L622.58,449.36L624.54,449.61L626.49,449.88L628.45,450.18L630.4,450.5L632.36,450.84L634.31,451.19L636.27,451.55L638.22,451.91L640.18,452.29L642.13,452.66L644.09,453.03L646.05,453.4L648,453.77L649.96,454.13L651.91,454.48L653.87,454.82L655.82,455.15L657.78,455.48L659.73,455.79L661.69,456.09L663.64,456.38L665.6,456.66L667.55,456.93L669.51,457.18L671.46,457.43L673.42,457.66" fill="none" stroke="#28E2E5" stroke-width="1.5"/>
<rect x="438.48" y="460.85" width="106.87" height="1.3" fill="#CD0BBC"/>
<path d="M544.37,461.33L546.32,461.29L548.28,461.25L550.23,461.2L552.19,461.14L554.14,461.07L556.1,460.99L558.06,460.9L560.01,460.79L561.97,460.66L563.92,460.52L565.88,460.36L567.83,460.17L569.79,459.96L571.74,459.73L573.7,459.46L575.65,459.17L577.61,458.84L579.56,458.48L581.52,458.07L583.47,457.64L585.43,457.16L587.39,456.63L589.34,456.07L591.3,455.46L593.25,454.82L595.21,454.12L597.16,453.39L599.12,452.62L601.07,451.81L603.03,450.97L604.98,450.1L606.94,449.2L608.89,448.27L610.85,447.33L612.8,446.38L614.76,445.41L616.72,444.44L618.67,443.47L620.63,442.51L622.58,441.56L624.54,440.61L626.49,439.69L628.45,438.79L630.4,437.9L632.36,437.05L634.31,436.22L636.27,435.42L638.22,434.65L640.18,433.91L642.13,433.2L644.09,432.53L646.05,431.88L648,431.27L649.96,430.69L651.91,430.13L653.87,429.61L655.82,429.12L657.78,428.65L659.73,428.21L661.69,427.79L663.64,427.4L665.6,427.03L667.55,426.68L669.51,426.36L671.46,426.05L673.42,425.76" fill="none" stroke="#CD0BBC" stroke-width="1.5"/>
<line x1="543.49" y1="448.69" x2="543.49" y2="461.5" stroke="#DF536B" stroke-width="1.15" stroke-dasharray="4.2,1.3"/>
<line x1="543.49" y1="448.69" x2="543.49" y2="461.5" stroke="#61D04F" stroke-width="1.15" stroke-dasharray="4.2,1.3"/>
<line x1="608.01" y1="448.69" x2="608.01" y2="461.5" stroke="#2297E6" stroke-width="1.15" stroke-dasharray="4.2,1.3"/>
<line x1="608.01" y1="448.69" x2="608.01" y2="461.5" stroke="#28E2E5" stroke-width="1.15" stroke-dasharray="4.2,1.3"/>
<circle cx="543.49" cy="461.5" r="1.9" fill="#DF536B"/>
<circle cx="543.49" cy="461.5" r="1.9" fill="#61D04F"/>
<circle cx="608.01" cy="461.5" r="1.9" fill="#2297E6"/>
<circle cx="608.01" cy="461.5" r="1.9" fill="#28E2E5"/>
<line x1="416.25" y1="461.5" x2="418.25" y2="461.5" stroke="#222" stroke-width="1"/>
<text transform="translate(422.55,463.2) scale(0.84,1)" style="font-family:'Liberation Sans',sans-serif;font-size:4.6px" fill="#555555">0.00</text>
<line x1="416.25" y1="453.5" x2="418.25" y2="453.5" stroke="#222" stroke-width="1"/>
<text transform="translate(422.55,455.2) scale(0.84,1)" style="font-family:'Liberation Sans',sans-serif;font-size:4.6px" fill="#555555">0.20</text>
<line x1="416.25" y1="445.5" x2="418.25" y2="445.5" stroke="#222" stroke-width="1"/>
<text transform="translate(422.55,447.2) scale(0.84,1)" style="font-family:'Liberation Sans',sans-serif;font-size:4.6px" fill="#555555">0.40</text>
<line x1="416.25" y1="437.5" x2="418.25" y2="437.5" stroke="#222" stroke-width="1"/>
<text transform="translate(422.55,439.2) scale(0.84,1)" style="font-family:'Liberation Sans',sans-serif;font-size:4.6px" fill="#555555">0.60</text>
<line x1="416.25" y1="429.5" x2="418.25" y2="429.5" stroke="#222" stroke-width="1"/>
<text transform="translate(422.55,431.2) scale(0.84,1)" style="font-family:'Liberation Sans',sans-serif;font-size:4.6px" fill="#555555">0.80</text>
<line x1="416.25" y1="421.5" x2="418.25" y2="421.5" stroke="#222" stroke-width="1"/>
<text transform="translate(422.55,423.2) scale(0.84,1)" style="font-family:'Liberation Sans',sans-serif;font-size:4.6px" fill="#555555">1.00</text>
<line x1="410.25" y1="439.5" x2="416.25" y2="439.5" stroke="#333" stroke-width="1"/>
<text x="404.75" y="441.9" text-anchor="end" textLength="29.36" lengthAdjust="spacingAndGlyphs" style="font-family:'Liberation Sans',sans-serif;font-size:6.8px" fill="#333">N7_Stereo</text>
<polygon points="680.15,198.85 680.77,200.5 682.53,200.58 681.15,201.67 681.62,203.37 680.15,202.4 678.68,203.37 679.15,201.67 677.77,200.58 679.53,200.5" fill="#4a4a4a"/>
<polygon points="680.15,242.95 680.77,244.6 682.53,244.68 681.15,245.77 681.62,247.47 680.15,246.5 678.68,247.47 679.15,245.77 677.77,244.68 679.53,244.6" fill="#4a4a4a"/>
<polygon points="680.15,287.05 680.77,288.7 682.53,288.78 681.15,289.87 681.62,291.57 680.15,290.6 678.68,291.57 679.15,289.87 677.77,288.78 679.53,288.7" fill="#4a4a4a"/>
<polygon points="680.15,331.15 680.77,332.8 682.53,332.88 681.15,333.97 681.62,335.67 680.15,334.7 678.68,335.67 679.15,333.97 677.77,332.88 679.53,332.8" fill="#4a4a4a"/>
<polygon points="680.15,375.25 680.77,376.9 682.53,376.98 681.15,378.07 681.62,379.77 680.15,378.8 678.68,379.77 679.15,378.07 677.77,376.98 679.53,376.9" fill="#4a4a4a"/>
<line x1="438.78" y1="464" x2="438.78" y2="470" stroke="#444" stroke-width="1.5"/>
<text x="438.78" y="483.8" text-anchor="middle" style="font-family:'Liberation Sans',sans-serif;font-size:6.1px" fill="#222">−4</text>
<line x1="468.11" y1="464" x2="468.11" y2="470" stroke="#444" stroke-width="1.5"/>
<text x="468.11" y="483.8" text-anchor="middle" style="font-family:'Liberation Sans',sans-serif;font-size:6.1px" fill="#222">−3</text>
<line x1="497.44" y1="464" x2="497.44" y2="470" stroke="#444" stroke-width="1.5"/>
<text x="497.44" y="483.8" text-anchor="middle" style="font-family:'Liberation Sans',sans-serif;font-size:6.1px" fill="#222">−2</text>
<line x1="526.77" y1="464" x2="526.77" y2="470" stroke="#444" stroke-width="1.5"/>
<text x="526.77" y="483.8" text-anchor="middle" style="font-family:'Liberation Sans',sans-serif;font-size:6.1px" fill="#222">−1</text>
<line x1="556.1" y1="464" x2="556.1" y2="470" stroke="#444" stroke-width="1.5"/>
<text x="556.1" y="483.8" text-anchor="middle" style="font-family:'Liberation Sans',sans-serif;font-size:6.1px" fill="#222">0</text>
<line x1="585.43" y1="464" x2="585.43" y2="470" stroke="#444" stroke-width="1.5"/>
<text x="585.43" y="483.8" text-anchor="middle" style="font-family:'Liberation Sans',sans-serif;font-size:6.1px" fill="#222">1</text>
<line x1="614.76" y1="464" x2="614.76" y2="470" stroke="#444" stroke-width="1.5"/>
<text x="614.76" y="483.8" text-anchor="middle" style="font-family:'Liberation Sans',sans-serif;font-size:6.1px" fill="#222">2</text>
<line x1="644.09" y1="464" x2="644.09" y2="470" stroke="#444" stroke-width="1.5"/>
<text x="644.09" y="483.8" text-anchor="middle" style="font-family:'Liberation Sans',sans-serif;font-size:6.1px" fill="#222">3</text>
<line x1="673.42" y1="464" x2="673.42" y2="470" stroke="#444" stroke-width="1.5"/>
<text x="673.42" y="483.8" text-anchor="middle" style="font-family:'Liberation Sans',sans-serif;font-size:6.1px" fill="#222">4</text>
<text x="679.8" y="470.8" text-anchor="end" style="font-family:'Liberation Sans',sans-serif;font-size:6.05px" fill="#444">RMK: mirt/Rasch</text>
<rect x="415.25" y="20" width="1" height="444" fill="#555"/><rect x="415.25" y="20" width="269.05" height="1" fill="#555"/><rect x="683.8" y="20" width="1.3" height="445" fill="#555"/><rect x="415.25" y="464" width="269.85" height="1" fill="#444"/>
</svg></body></html>
